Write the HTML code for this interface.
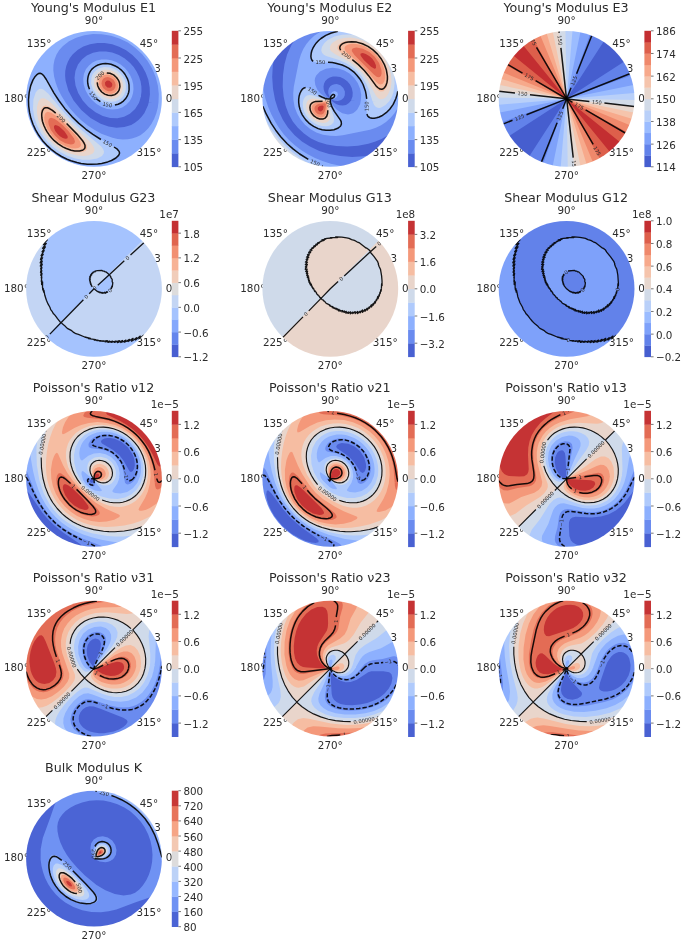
<!DOCTYPE html>
<html><head><meta charset="utf-8"><title>Elastic properties</title><style>html,body{margin:0;padding:0;background:#fff;}svg{display:block;}text{font-family:'DejaVu Sans', 'Liberation Sans', sans-serif;fill:#2b2b2b;}</style></head><body>
<svg width="686" height="945" viewBox="0 0 686 945">
<rect width="686" height="945" fill="#fff"/>
<text x="171.6" y="97.8" font-size="10.35" text-anchor="middle" dy="0.36em">0°</text>
<text x="148.9" y="42.9" font-size="10.35" text-anchor="middle" dy="0.36em">45°</text>
<text x="94" y="20.2" font-size="10.35" text-anchor="middle" dy="0.36em">90°</text>
<text x="39.1" y="42.9" font-size="10.35" text-anchor="middle" dy="0.36em">135°</text>
<text x="16.4" y="97.8" font-size="10.35" text-anchor="middle" dy="0.36em">180°</text>
<text x="39.1" y="152.7" font-size="10.35" text-anchor="middle" dy="0.36em">225°</text>
<text x="94" y="175.4" font-size="10.35" text-anchor="middle" dy="0.36em">270°</text>
<text x="148.9" y="152.7" font-size="10.35" text-anchor="middle" dy="0.36em">315°</text>
<text x="157.5" y="67.8" font-size="10.35" text-anchor="middle" dy="0.36em">3</text>
<mask id="c0"><circle cx="94" cy="98.8" r="67.9" fill="#fff"/></mask>
<g mask="url(#c0)">
<circle cx="94" cy="98.8" r="68.9" fill="#4961d2"/>
<path fill="#6a8bef" fill-rule="nonzero" d="M94 98.8l45.5 2.7l1.4-5l.6-4.9l-.1-5l-.8-5l-1.5-4.8l-2.4-5.1l-3-4.6l-3.6-4.2l-5.3-4.5l-5.9-3.4l-6.7-2.5l-6.2-1.1l-6.7 0l-6.3 1.3l-6.2 2.9l-4.7 3.6l-4.1 5.3l-2.6 6.4l-.9 6.9l1 7.8l2.7 7.4l4.5 7.4l5.6 6.3l7.2 5.5l7.3 3.7l7.4 2l7.2 .3l6.7-1.4l5.8-3l5.2-4.8l3.8-6.1l2.1-6.9l-47 2.8zM148.8 102.1l15.7 .9l-.2-11.3l-2.2-11.7l-3.9-10.6l-5.8-10.4l-4.7-6.1l-5.8-6l-6-4.9l-7-4.6l-7.5-3.7l-7.2-2.6l-7.6-1.8l-8.3-1l-7.1-.1l-7.1 .7l-6.4 1.2l-6.9 2l-6.1 2.4l-6.3 3.3l-5.5 3.6l-5.6 4.4l-5.1 5l-4.3 5l-3.7 5.4l-3.5 6.3l-2.6 6l-2.2 6.8l-1.6 6.9l-.8 7.1l-.1 7.2l.7 7.1l1.3 7l1.9 6.3l2.4 6.1l3.3 6.3l3.5 5.5l4.5 5.6l4.5 4.7l5.5 4.7l5.8 4l6.3 3.5l6 2.6l6.8 2.2l7 1.4l6.5 .8l7.8 0l7.7-.7l7.5-1.6l6.8-2.2l7.1-3.2l6.2-3.6l5.8-4.2l5.7-5.2l5.2-5.7l4.1-5.8l3.6-6.2l3.1-7.1l2.4-7.4l1.4-7l.8-7.7l-.1-7.1l-14.7 .8l-.6 5.1l-1.2 4.7l-3.7 8l-2.9 3.9l-2.9 2.9l-3.6 2.8l-3.7 2.1l-6.8 2.2l-7.9 .6l-8-1.2l-7.8-2.7l-10.2-5.8l-9.2-7.9l-7.7-9.6l-5.2-9.8l-2.8-10l-.5-5.2l.2-4.7l1-4.9l1.6-4.2l2-3.7l2.9-3.7l5.1-4.6l5.5-3.2l6.6-2.3l7.4-1.3l7.2 .1l7.6 1.3l6.9 2.4l7 3.6l6.3 4.7l5.2 5.2l4.7 6.3l3.5 6.4l2.5 6.9l1.4 7.6l.2 7.2l-1.1 7.5z"/>
<path fill="#8db0fe" fill-rule="nonzero" d="M94 98.8l35.8 2.1l2-3.7l1.2-4l.5-4.2l-.3-4.7l-1.1-4.5l-1.7-4.1l-2.5-4l-3-3.6l-4.3-3.6l-4.4-2.5l-4.8-1.8l-4.9-.8l-5 .1l-4.8 1.1l-4.1 2l-3.6 2.8l-3.1 3.9l-2 4.7l-.7 5.1l.5 5.5l1.7 5.5l2.8 5.1l3.8 4.8l4.5 3.9l5.2 3.1l5.4 1.9l5.5 .7l5-.5l4.6-1.5l4.1-2.8l3.3-3.6l2.4-4.7l-38 2.3zM158.5 102.7l6 .3l-.1-9.5l-1.2-8.8l-2.2-8.1l-3-7.7l-4-7.4l-5.2-7.2l-4.8-5.3l-5.3-4.8l-5.7-4.3l-6.7-3.9l-7.1-3.2l-6.8-2.2l-6.9-1.5l-7.2-.8l-7.1-.1l-7.1 .7l-6.4 1.2l-6.9 2l-6.1 2.4l-6.3 3.3l-5.5 3.6l-5.6 4.4l-5.1 5l-4.3 5l-3.7 5.4l-3.5 6.3l-2.6 6l-2.2 6.8l-1.6 6.9l-.8 7.1l-.1 7.2l.7 7.1l1.1 5.8l2.1 6.9l2.7 6.6l3.3 6.2l3.9 6l4.1 5l4.5 4.7l5.4 4.6l5.8 4.1l6.2 3.5l6.6 2.9l6.7 2.2l5.8 1.3l7.1 .9l7.8 0l7.7-.7l7.5-1.6l6.8-2.2l7.1-3.2l6.2-3.6l5.8-4.2l5.7-5.2l5.2-5.7l4.1-5.8l3.6-6.2l3.1-7.1l2.4-7.4l1.4-7l.8-7.7l-.1-7.1l-5.7 .3l-.2 6.6l-.8 5.9l-1.5 5.8l-2.1 5.5l-2.8 5.2l-3.1 4.3l-3.7 3.8l-4.2 3.2l-3.8 1.9l-4.6 1.5l-4.2 .7l-4.9 .2l-5.2-.5l-5.3-1.2l-11-4.1l-6.7-3.6l-7-4.7l-6.5-5.2l-5.4-5.1l-5.8-6.6l-4.6-6.2l-4-6.5l-3.2-6.4l-2.4-6.4l-1.7-6.5l-.8-6.2l.2-5.4l1-5.2l1.9-5l2.7-4.5l3.6-4l6.3-4.9l7.2-3.6l8.2-2.5l8.7-1.2l8.7 .2l9.3 1.5l8.3 2.8l8.5 4.1l7.2 5.1l6.9 6.4l5.6 6.9l4.5 7.5l3.5 8.2l2.2 8.5l1 8.7l-.3 8.8z"/>
<path fill="#afcafc" fill-rule="nonzero" d="M96.6 99l27.3 1.6l1.9-2.1l1.9-3.4l1.2-4l.3-4.3l-.6-4.2l-1.3-4.1l-2.1-3.8l-2.9-3.6l-3.3-2.9l-3.4-2.1l-4-1.6l-4.2-.8l-3.9 0l-3.8 .7l-3.4 1.4l-3 2l-2.6 2.9l-1.8 3.2l-.9 3.3l-.4 3.6l.5 4.1l1.1 3.7l2 4l2.4 3.3l3 3.1zM164.4 103l.2-7.1l-.8-7.7l-1.6-7.6l-2.4-7.4l-3.2-7l-3.9-6.7l-4.3-5.7l-5.2-5.7l-5.4-4.7l-6.3-4.5l-6.8-3.7l-7.1-3l-7.5-2.2l-7.6-1.3l-7.7-.5l-7.2 .3l7.8 0l7.6 .9l7.5 1.5l6.8 2.2l7 3l6.6 3.7l6.2 4.4l5.3 4.7l4.8 5.1l4.6 6.1l4 6.5l3.2 7l2.3 6.6l1.8 7.5l1 7.6l.3 7.7zM42.3 74.3l-2.2-1l-2.4 .7l-2.7 2.6l-2.4 4.2l-1.8 4.7l-1.5 5.9l-.7 6l-.1 6.1l1.3 10.5l3.3 10.6l5.1 9.9l6.8 8.9l7.8 7.2l8.3 5.6l9.6 4.4l9.7 2.7l10.5 1l10.4-.8l9.5-2.7l3.7-1.9l2.9-2.1l1.4-1.7l.7-1.9l-.5-1.9l-1.6-2l-3.8-2.6l-15.5-8.9l-9.1-6.2l-10.4-8.4l-9-9l-5.6-6.7l-5.7-7.6l-12.9-21.7l-3.1-3.9zM101 102.1l3.6 1.7l3.8 1l3.8 .4l3.6-.4l3.4-1.1l2.9-1.6l2.7-2.4l2-2.9l-30.5 1.9l4.7 3.4zM164.3 104.7l.2-10.1l-.5 0l.3 10.1z"/>
<path fill="#cfdaea" fill-rule="nonzero" d="M102.3 99.3l15.9 1l2.7-1.8l2-2.1l1.5-2.5l1.1-2.9l.5-3.7l-.3-3.6l-1-3.6l-1.9-3.6l-2.4-3.1l-3-2.7l-3.5-2l-3.4-1.3l-6.4-.5l-5.7 1.7l-4.3 3.6l-1.7 2.6l-.9 2.7l-.4 5.9l1.9 6.2l3.9 5.5l5.4 4.2zM43.3 89.5l-2.1-.7l-2 .3l-1.9 1.3l-1.6 2.2l-2.3 7l-.4 9.3l1.3 8.3l2.9 8.6l4.2 7.9l5.5 7.3l6.1 5.9l6.4 4.7l7.5 4l7.5 2.6l7.8 1.5l7.8 .1l7.2-1.4l4.8-2.5l1.7-2.3l.3-2l-.8-2.3l-2-2.7l-20.2-17.2l-8.3-7.7l-9.7-10.4l-14.6-17.5l-5.1-4.3zM107.3 101.3l4.5 .5l4.1-.6l3.5-1.6l2.9-2.5l-21.5 1.3l3.4 1.8l3.1 1.1z"/>
<path fill="#e9d5cb" fill-rule="nonzero" d="M110.1 99l3-.2l2.9-.8l2.3-1.3l2.2-2.2l1.5-2.4l.9-2.9l.3-3.2l-.4-3.1l-1.1-3l-1.7-3l-2.2-2.6l-2.5-1.9l-3.1-1.6l-3-.9l-3.2-.3l-2.9 .4l-4.3 1.9l-3.3 3.5l-1.5 4.3l.2 5.4l2.2 5.2l3.7 4.4l4.7 2.9l5.3 1.4zM44.7 98.6l-2-.3l-1.5 .3l-1.4 1l-1.3 1.8l-1.5 5.4l-.1 6.5l1.4 6.9l2.4 6.7l3.4 6.2l4.7 6.2l5 5l5.3 4l5.8 3.3l6.1 2.5l6.4 1.5l6.3 .4l5.3-.8l3.8-1.8l1.4-1.8l.3-2.5l-1.2-2.9l-2.6-3.6l-20.9-20.2l-18-18.8l-3.7-3.1l-3.4-1.9zM109.7 98.9l3.8-.2l3.7-1.3l-11.3 .7l3.8 .8z"/>
<path fill="#f6bda2" fill-rule="nonzero" d="M110.6 96.4l4.6-1l2.2-1.5l1.6-1.9l1.6-4.6l-.5-5.1l-2.5-4.7l-4.3-3.7l-5-1.7l-4.9 .4l-3.6 2l-2.4 3l-1 3.8l.6 4.5l2 4.1l3.3 3.5l4 2.2l4.3 .7zM45.8 105.5l-2.6 .7l-2 2.7l-.7 4l.3 4.8l1.2 5.2l2.2 5.5l3 5l3.6 4.7l4.2 4.2l4.3 3.3l4.6 2.7l5 2.2l5.1 1.4l4.8 .4l4.1-.4l2.9-1.5l1.4-2.2l-.2-2.5l-1.7-3.3l-3.5-4.4l-26.3-26.4l-5.7-4.5l-4-1.6z"/>
<path fill="#f4987a" fill-rule="nonzero" d="M111.4 93.9l3.6-1.5l2.3-2.6l1-3.9l-.9-4.2l-2.3-3.6l-3.6-2.6l-4-1l-4 .8l-2.7 2l-1.5 2.7l-.4 3.4l.8 3.3l2 3.2l2.8 2.4l3.2 1.3l3.7 .3zM47.7 111.8l-2 1l-1 1.7l-.5 3.1l.4 4.1l3 7.9l5.5 7.7l6.8 5.9l7.5 3.9l4.1 1.1l3.7 .4l3-.5l1.8-1l1-2.2l-.9-3.4l-2.7-4.1l-4.2-4.9l-9.5-9.7l-7.5-6.8l-4.9-3.3l-3.6-.9z"/>
<path fill="#e36c55" fill-rule="nonzero" d="M111 91.2l2.6-1.2l1.6-2.2l.5-2.7l-.7-2.8l-1.6-2.5l-2.6-1.9l-3-.8l-2.7 .5l-1.9 1.2l-1.3 2.1l-.4 2.5l.6 2.6l1.5 2.4l2.3 1.9l2.4 .9l2.7 0zM51.1 117.8l-1.4 .4l-1 1.3l-.4 1.9l.3 2.8l2.1 5.6l4.2 5.8l5 4.6l5.5 3l5.3 1.3l1.9-.2l1.6-.8l.8-1.8l-.9-3.2l-5.7-7.5l-5.6-5.7l-5.1-4.3l-3.4-2.3l-3.2-.9z"/>
<path fill="#c53334" fill-rule="nonzero" d="M110.1 87.8l1.3-.7l.7-1.1l.2-1.6l-.4-1.4l-2.4-2.2l-1.5-.3l-1.4 .3l-1.6 1.8l.2 2.7l2.2 2.2l2.7 .3zM55.3 125l-1.3 1l0 1.9l1.2 3l2.2 2.9l2.5 2.4l2.9 1.8l2.5 .8l2-.3l.5-1.4l-.4-1.4l-2.8-4.2l-5.3-4.9l-2.2-1.2l-1.8-.4z"/>
<path fill="none" stroke="#000" stroke-opacity="0.9" stroke-width="1.5" stroke-linejoin="round" d="M125.5 98.8l1.4-2.1l1-2.2l.8-2.3l.4-2.5l-.1-4.9l-.5-3l-1-2.9l-2.4-4.4l-1.5-2l-2.6-2.7l-3-2.3l-2.1-1.2l-4.9-2l-3-.5l-2.5-.2l-2.7 .1l-2.4 .5l-2.4 .8l-2.2 1.1l-2 1.4l-2.1 1.9l-1.6 2.2l-1.1 2.2l-.8 2.4l-.4 2.3l-.2 2.2l.2 2.8l.6 2.8l1.1 3M96.4 98.8l4 2.9M114.9 105l3.2-.8l3.1-1.5l2.2-1.6l2.1-2.3M100.9 139.5l-8-5.1l-7-5.1l-7.3-6.2l-6.7-6.5l-7.2-8.2l-5.9-7.9l-4.8-7.4l-7.7-13.6l-2.3-3.4l-1.5-1.6l-1.1-.8l-1.3-.4l-1.7 .3l-1.8 1.3l-1.4 1.5l-2.2 3.5l-2.3 5.7l-1.5 6.8l-.7 7.4l.2 6.2l.8 6.2l1.4 6.1l2.1 5.9l2.6 5.7l3.2 5.4l3.6 5.1l4.2 4.7l4.6 4.3l5 3.8l5.3 3.3l5.6 2.7l3.9 1.5l6 1.8l4.1 .9l6.2 .8l4.1 .1l6.2-.3l4.1-.6l6-1.5l3.8-1.4l4.4-2.5l2.7-2.6l.9-1.9l0-.8l-.4-1.3l-1.8-2.2l-3.3-2.2"/>
<path fill="none" stroke="#000" stroke-opacity="0.9" stroke-width="1.5" stroke-linejoin="round" d="M97.2 82.4l.5 3.3l1.6 3.4l2.4 2.9l3 2.1l3.3 1.2l3.5 .2l2-.4l1.3-.5l2.4-1.8l1.1-1.3l.9-1.7l.7-3.2l-.3-3.1l-.5-1.9l-.9-1.7l-1.7-2.4l-2.9-2.6l-3.6-1.6l-3.2-.4M55.7 113.1l-3.3-2.7l-2.6-1.6l-2.3-1l-2.1 0l-1.3 .5l-.5 .5l-1.1 1.7l-.7 2.7l-.1 1.8l.2 3l.6 3.5l1.4 4l1.5 3.3l1.7 3.1l2.1 3l2.3 2.8l2.5 2.7l4.2 3.5l4.6 2.9l3.5 1.7l4.8 1.7l3.7 .7l4.7 .1l2.8-.7l.9-.5l1.3-1.1l.5-1.3l0-2.1l-1-2.3l-1.6-2.6l-5.4-6.3l-10.4-10.6"/>
<text x="99.9" y="75.6" font-size="5.2" text-anchor="middle" dy="0.36em" transform="rotate(-44.7 99.9 75.6)">200</text>
<text x="93.4" y="95.7" font-size="5.2" text-anchor="middle" dy="0.36em" transform="rotate(-308.8 93.4 95.7)">150</text>
<text x="107.4" y="104.6" font-size="5.2" text-anchor="middle" dy="0.36em" transform="rotate(-347.1 107.4 104.6)">150</text>
<text x="61.2" y="118.2" font-size="5.2" text-anchor="middle" dy="0.36em" transform="rotate(-316.0 61.2 118.2)">200</text>
<text x="107.4" y="143.2" font-size="5.2" text-anchor="middle" dy="0.36em" transform="rotate(-330.8 107.4 143.2)">150</text>
</g>
<text x="93.5" y="12.2" font-size="12.7" text-anchor="middle">Young's Modulus E1</text>
<rect x="171.8" y="153.20" width="6.6" height="13.90" fill="#4961d2"/>
<rect x="171.8" y="139.60" width="6.6" height="13.90" fill="#6a8bef"/>
<rect x="171.8" y="126.00" width="6.6" height="13.90" fill="#8db0fe"/>
<rect x="171.8" y="112.40" width="6.6" height="13.90" fill="#afcafc"/>
<rect x="171.8" y="98.80" width="6.6" height="13.90" fill="#cfdaea"/>
<rect x="171.8" y="85.20" width="6.6" height="13.90" fill="#e9d5cb"/>
<rect x="171.8" y="71.60" width="6.6" height="13.90" fill="#f6bda2"/>
<rect x="171.8" y="58.00" width="6.6" height="13.90" fill="#f4987a"/>
<rect x="171.8" y="44.40" width="6.6" height="13.90" fill="#e36c55"/>
<rect x="171.8" y="30.80" width="6.6" height="13.90" fill="#c53334"/>
<line x1="178.4" x2="181" y1="166.80" y2="166.80" stroke="#555" stroke-width="0.8"/>
<text x="183.4" y="167.60" font-size="10.35" dy="0.36em">105</text>
<line x1="178.4" x2="181" y1="139.60" y2="139.60" stroke="#555" stroke-width="0.8"/>
<text x="183.4" y="140.40" font-size="10.35" dy="0.36em">135</text>
<line x1="178.4" x2="181" y1="112.40" y2="112.40" stroke="#555" stroke-width="0.8"/>
<text x="183.4" y="113.20" font-size="10.35" dy="0.36em">165</text>
<line x1="178.4" x2="181" y1="85.20" y2="85.20" stroke="#555" stroke-width="0.8"/>
<text x="183.4" y="86.00" font-size="10.35" dy="0.36em">195</text>
<line x1="178.4" x2="181" y1="58.00" y2="58.00" stroke="#555" stroke-width="0.8"/>
<text x="183.4" y="58.80" font-size="10.35" dy="0.36em">225</text>
<line x1="178.4" x2="181" y1="30.80" y2="30.80" stroke="#555" stroke-width="0.8"/>
<text x="183.4" y="31.60" font-size="10.35" dy="0.36em">255</text>
<text x="407.9" y="97.8" font-size="10.35" text-anchor="middle" dy="0.36em">0°</text>
<text x="385.2" y="42.9" font-size="10.35" text-anchor="middle" dy="0.36em">45°</text>
<text x="330.3" y="20.2" font-size="10.35" text-anchor="middle" dy="0.36em">90°</text>
<text x="275.4" y="42.9" font-size="10.35" text-anchor="middle" dy="0.36em">135°</text>
<text x="252.7" y="97.8" font-size="10.35" text-anchor="middle" dy="0.36em">180°</text>
<text x="275.4" y="152.7" font-size="10.35" text-anchor="middle" dy="0.36em">225°</text>
<text x="330.3" y="175.4" font-size="10.35" text-anchor="middle" dy="0.36em">270°</text>
<text x="385.2" y="152.7" font-size="10.35" text-anchor="middle" dy="0.36em">315°</text>
<text x="393.8" y="67.8" font-size="10.35" text-anchor="middle" dy="0.36em">3</text>
<mask id="c1"><circle cx="330.3" cy="98.8" r="67.9" fill="#fff"/></mask>
<g mask="url(#c1)">
<circle cx="330.3" cy="98.8" r="68.9" fill="#4961d2"/>
<path fill="#6a8bef" fill-rule="nonzero" d="M330.3 98.8l11.6 .7l1.8-1.8l1.1-2.5l.1-3.7l-1.6-3.5l-2.9-2.7l-3.6-1.2l-2.3 .1l-2.4 .8l-1.8 1.3l-1.3 2l-.7 2.3l-.1 2.5l1.8 5.4l-3-2.6l-2.2-3.4l-1-2.8l-.3-3.3l.6-2.9l1.2-2.4l2-2.1l2.5-1.5l3.2-1l3-.1l4.1 .7l3.7 1.6l3.5 2.6l2.7 3.3l1.8 3.7l.9 4.1l-.2 4l-1.3 3.7l49.6 2.9l.1-1.2l-.1-7.1l-.7-6.5l-1.4-7l-1.9-6.3l-2.8-6.6l-3.4-6.3l-3.7-5.4l-4.5-5.5l-4.7-4.6l-5.5-4.5l-5.4-3.7l-6.3-3.4l-6.6-2.7l-6.9-2l-6.4-1.3l-7.1-.6l-9.6 .2l-8.8 1.3l-9.1 2.7l-8.4 3.7l-6 8.6l-4.5 9.8l-2.6 9.7l-1.5 10.6l-.3 11.8l.9 9.9l2 9.2l3.1 8.2l4.1 7.5l5 6.3l6.2 5.8l7 4.8l7.5 3.5l8.4 2.6l9.5 1.5l10.8 .5l10.8-.8l10.4-1.9l7.1-2.2l6-2.6l6.5-3.7l4.9-3.8l3.2-7.1l2.4-7.4l1.6-7.6l.8-7.7l-.1-7.1l-48.5 2.9l-1.4 3.2l-2 2.4l-2.9 1.8l-3.3 .7l-3.3-.3l-3.3-1.2l-3.1-2.1l-2.4-2.8l4.1 1.5l3.2 .2l3.2-.9l2.3-2l-13.1 .8zM274.7 55.4l-3.5 4.8l-3.4 5.7l-2.8 5.9l-2.2 6.2l-2.6 12.2l-.5 6.5l.1 6.6l.7 6.5l1.4 6.4l4.1 11.8l3 5.8l3.5 5.5l8 9.6l9.6 8l5.6 3.5l5.9 2.9l6.1 2.4l6.3 1.8l12.3 1.8l12.5-.4l6.5-1.1l6.3-1.7l11.5-4.8l10.7-6.9l-10.2 1.9l-11.5 .6l-11.8-.8l-11.2-2.1l-9.8-3.1l-9.3-4.3l-8.1-5.2l-7.5-6.5l-6.5-7.4l-5.2-8.1l-4.5-9.6l-3.1-9.8l-2.1-11.2l-.8-11.8l.6-11.5l1.9-10.1z"/>
<path fill="#8db0fe" fill-rule="nonzero" d="M330.3 98.8l3.7-.1l2.8-1.4l1.2-2.5l-.7-2.6l-2.5-1.2l-2.7 1.1l-1.6 2.7l-.3 3.9l-4.8-1.5l-4.4-3.2l-3.6-4.2l-2.1-4.7l-.6-4.6l.4-2.5l1.1-2.4l3.8-4.1l5.8-2.7l6.7-1l6 .7l5.8 2l5.2 3.1l4.7 4.4l3.5 5l2.4 5.7l1.1 5.9l-.3 6l39.1 2.4l.9-2.8l0-1.9l-.4-7.2l-1.1-7l-1.7-6.4l-2.5-6.7l-2.8-5.9l-3.7-6.1l-4-5.2l-4.8-5.3l-4.9-4.3l-5.7-4.3l-5.6-3.3l-6.5-3.1l-6.2-2.2l-6.9-1.8l-7.1-1l-7.1-.3l-4.7 1.3l-6 2.9l-5 3.4l-4.2 3.9l-3.6 4.3l-3.1 5l-2.4 5.4l-1.9 6.3l-5.2 26.1l-.6 6.8l.2 6.3l1.2 7l2.5 6.6l3.5 6.1l4.4 5.1l5.2 4.3l6.1 3.4l6.7 2.3l7.1 1.1l6 .1l6.7-.7l27.2-5.5l5.9-2l5.2-2.5l4.9-3.1l4.4-4l3.9-4.5l3.5-5.7l2.8-6.8l.3-3l-.1-3.5l-39.5 2.3l-1.1 7l-2.9 5.6l-2 2.1l-2.3 1.6l-2.5 .9l-2.5 .3l-5.7-1.1l-5.5-3.6l-4.2-4.8l-2.2-5.4l.1-.6l4-.3l-4.2 .2zM261.8 82l-1.6 8.2l-.5 9.5l.7 8.9l1.9 9.3l3 8.4l4 8l4.9 7.5l6.3 7.1l6.8 5.9l7.4 5l7.9 4l9 3.1l8.8 1.8l8.9 .7l8.9-.4l9.2-1.7l-16.6-3.5l-8.3-2.8l-7.5-3.1l-7.2-3.7l-6.4-4l-6.3-4.7l-5.9-5.3l-5.3-5.8l-4.8-6.4l-4-6.4l-3.8-7.3l-3.1-7.3l-2.8-8.5l-3.6-16.5z"/>
<path fill="#afcafc" fill-rule="nonzero" d="M366.8 101l27.3 1.6l.3-.5l2.1-5.5l1.3-5.7l.5-6l-.2-5.9l-4.1-10.7l-6-10.2l-7.7-9.1l-8.6-7.4l-9.6-5.9l-11.1-4.4l-7.1-.5l-8.3 1l-7.3 2.3l-6.2 3.5l-5.7 5.3l-3.9 6.3l-1.6 6.4l.2 2.6l1 2.2l1.7 1.4l2.3 .6l13.1 0l8.1 1.1l7.4 2.6l6.5 3.8l6.4 6l4.9 7.5l3.1 8.5l1.2 9.1zM330.8 98.7l1.9-.5l1.3-1l.7-1.4l-.4-1.1l-1.3-.2l-1.4 .9l-1.1 2.2l-.1 1.1l.4 0zM309.3 88.8l-3.4-1.2l-1.8 .4l-1.2 .8l-2.5 3.5l-1.5 5.3l-.1 5.3l.9 5.6l2.1 5.3l3.2 5.1l3.5 3.7l3.9 3l4.6 2.5l4.6 1.5l5 .8l4.8-.2l4.4-1.1l3.5-1.9l1.9-2.5l0-3l-9-14.1l-1.6-4.5l-.4-4.2l-4.2-.4l-4.6-1.6l-4.4-2.6l-7.7-5.5zM259.9 98.5l0 6l1.1 7.6l1.7 7l2.3 6.7l2.8 5.9l3.7 6.2l4.2 5.7l4.8 5.3l4.9 4.4l5.7 4.3l6.2 3.6l6.4 3l6.8 2.4l6.9 1.6l7.1 1l6.6 .2l-13.5-5.3l-11.4-5.9l-10.6-7.3l-9.1-8l-8.1-9l-7.2-10.6l-6.1-11.5l-5.2-13.3zM368.1 116.5l2.8 1.5l4.3 .1l4.7-1.5l5.1-2.9l3.8-3.5l3.6-4.6l2.8-5.2l1.8-5.6l-30.5 1.8l.2 16l.4 2.1l1 1.8z"/>
<path fill="#cfdaea" fill-rule="nonzero" d="M372.5 101.3l15.9 1l3-4.6l2-5.2l1.3-9.1l-.9-9.9l-3.1-9.5l-5-8.7l-5.8-6.8l-6.4-5.3l-7.1-4.2l-8.3-3.1l-8.1-1.4l-8 .2l-7.5 1.7l-6.5 3.4l-3.6 3.1l-2.4 3.8l-.8 3.6l.9 2.8l1.8 1.7l2.2 1.2l12.9 4.1l6.8 2.9l5.9 3.5l5.2 4.4l5.2 5.9l4.1 6.7l3 7l3.3 10.8zM330.7 98.6l1.3-.9l.2-.8l-1.1 .5l-.6 .9l.2 .3zM313 95.6l-3.4-.6l-2.5 .4l-2.1 1.5l-1.5 2.7l-.7 3.5l.2 4.1l1.1 4l2 4l2.4 3.1l2.8 2.8l3.2 2.2l3.3 1.6l3.8 1.1l3.6 .3l3.3-.4l2.7-1.1l2.3-2.3l.6-3l-.5-2.9l-3.5-11.1l-.3-3.4l.3-3.1l-3.2 .3l-3.4-.4l-10.5-3.3zM260.9 111.5l2.7 10.4l4.2 9.8l5.7 9.1l7 8.1l8.2 7l9.1 5.6l9.9 4.2l10 2.6l-10.3-5.6l-7.9-5l-7.8-6l-7.3-6.6l-6.7-7.4l-6.1-7.9l-5.3-8.2l-5.4-10.1zM376.9 107.5l1.9 .4l2-.2l4.8-2.6l4-4.4l2.9-5.6l-21.5 1.3l2.7 7.9l1.4 2l1.8 1.2z"/>
<path fill="#e9d5cb" fill-rule="nonzero" d="M380.4 99.3l2.2-.2l1.9-.9l1.9-1.7l1.8-2.4l2.5-6l.8-6.7l-.6-7.3l-1.9-7.1l-3.2-6.7l-4.6-6.6l-4.8-4.9l-5.9-4.5l-6.6-3.5l-6.4-2.1l-6.7-1.1l-6.8 .3l-6 1.5l-4.9 2.8l-1.8 1.9l-1.3 2.4l-.1 2.5l.9 1.9l4 3.2l15.4 8.2l8.7 7l4.3 4.6l3.8 5.4l9.1 16.8l2.1 2.2l2.2 1zM315 98.7l-2.8-.1l-2.4 .6l-1.8 1.2l-1.1 1.7l-.7 2.4l-.1 2.7l.7 3l1.2 2.9l3.8 5l5 3.4l5.8 1.5l2.6-.2l2.1-.7l2.1-1.8l1-2.9l-1.3-13l.2-2.8l.7-2.5l-5.4 .9l-9.6-1.3zM264.4 124.1l2.9 6.6l3.9 6.7l4.5 6.2l4.8 5.3l5.8 5.1l5.8 4.2l6.2 3.6l6.7 2.9l-12.1-8.7l-10.3-9.1l-9.6-10.7l-8.6-12.1zM380 99.2l1.6 .1l1.9-.5l2-1.3l1.9-2.1l-11.3 .6l2.1 2.3l1.8 .9z"/>
<path fill="#f6bda2" fill-rule="nonzero" d="M380.5 91.6l3-.4l2.9-3.2l1.7-5.1l.4-5.7l-.9-5.8l-2-6.3l-2.9-5.3l-3.9-5.4l-4.4-4.3l-4.9-3.6l-5.3-2.9l-5.2-1.8l-5.9-1.1l-5.4 .1l-5.1 1.2l-3.2 1.9l-1.5 1.7l-.5 1.9l.2 1.5l1.4 2.1l3.4 2.9l11.5 7.9l6.4 5.5l6.8 7.7l9.5 13.5l1.8 1.9l2.1 1.1zM315.8 100.8l-3.8 1l-2.4 2.4l-.6 3.8l1.2 4.2l2.7 3.8l3.8 2.8l4.3 1.3l3.8-.6l1.9-1.5l1.3-2.8l.2-10.6l.6-4.2l-4.9 .5l-8.1-.1zM272.5 139.3l8 9.6l9.4 7.8l-9-8.2l-8.4-9.2z"/>
<path fill="#f4987a" fill-rule="nonzero" d="M380.3 84.5l2.2-.5l1.8-2.4l.9-3.6l-.1-4.9l-1-4.7l-1.7-4.4l-2.4-4.2l-3.3-4.3l-3.4-3.4l-3.8-2.9l-4.2-2.4l-4.4-1.7l-4.7-1.1l-4.2-.2l-3.8 .7l-2.4 1.3l-1 1.3l-.3 1.4l.5 1.7l1.3 1.9l16.4 14.4l13.5 15.6l2.1 1.7l2 .7zM316.7 102.6l-2.8 1.1l-1.7 2.1l-.5 2.8l.8 2.9l2 2.9l2.9 2.1l3.1 .9l2.8-.5l1.8-1.4l1.2-2.6l1-10.8l-1.2-.4l-9.4 .9z"/>
<path fill="#e36c55" fill-rule="nonzero" d="M378.3 77.3l1.6-.3l1.1-1.3l.6-2.2l-.2-3.5l-2.3-6.9l-4.4-6.3l-5.4-4.8l-6.4-3.3l-6.4-1.2l-2.5 .4l-1.6 .9l-.6 1.3l.1 1.1l2.7 4.1l19.2 19.2l2.8 2.2l1.7 .6zM318.4 104.1l-1.9 .9l-1.5 1.4l-.6 1.8l.3 2l1.1 2l1.9 1.7l2 .7l2.1-.1l1.7-1.1l1.3-2.1l.9-3.9l.1-3.4l-.6-.6l-1.3-.2l-5.5 .9z"/>
<path fill="#c53334" fill-rule="nonzero" d="M374.5 68.7l.8-.1l.7-.7l-.1-2.7l-1.5-3.5l-2.3-3.2l-2.9-2.6l-3.4-2l-3-.9l-2 .4l-.4 .9l.3 1.4l3.1 4.2l7.2 6.8l3.5 2zM319.7 105.9l-1.8 1.6l-.2 1.8l1.2 1.7l2.1 .4l2-1.6l.7-3.3l-1.3-1.1l-2.7 .5z"/>
<path fill="none" stroke="#000" stroke-opacity="0.9" stroke-width="1.5" stroke-linejoin="round" d="M395.8 98.8l1.3-4.2l.7-3.4M337.9 31.3l-6.6 1.7l-5.5 2.4l-4.8 3.1l-2.4 2l-2.3 2.4l-1.9 2.7l-1.5 2.6l-1.1 2.6l-.6 2.5l-.3 3.1l.3 2.1l.9 1.9l1 1M328 62.3l4.3 .3l3.4 .6l6.5 1.8l3.1 1.4l3.3 1.8l3.4 2.4l2.6 2.1l2.3 2.5l2.8 3.5l1.8 2.8l1.6 3l2.3 6.4l.7 3.4l.6 4.5M322.7 166.3l-.8-.4M308.3 159.4l-8.6-5.4l-6.7-5.1l-5.8-5.2l-6.5-7l-5-6.5l-4.5-6.8l-4.9-9.2l-3.5-7.8M366.9 113.9l.8 2.1l1 1l1.2 .7l2.1 .5l2.2 0l2.4-.4l2.6-.8l2.6-1.2l4.4-3.1l3.5-3.5l3.5-4.8l2.6-5.6M331 98.7l1.9-.7l1.3-1.1l.5-1.3l-.5-1l-.7-.2l-.7 .1l-1.3 1.1l-.7 1.1l-.4 1.4l0 .6l.6 0M305.6 87.6l-1.4 .3l-1.8 1.3l-1.2 1.6l-1.3 2.7l-.8 2.8l-.4 3l0 3l.5 4l.8 2.9l1 2.9l1.3 2.7l1.7 2.6l1.8 2.5l2.9 2.9l2.3 1.9l2.6 1.7l4.6 2.2l3.9 1.1l3.9 .6l4.1 0l3.9-.6l3.7-1.4l2.4-1.8l.7-.9l.6-1.7l-.2-2.2l-.9-1.8l-6-8.5l-2.4-4.5l-1.4-4.3l-.3-3.7l-2.7-.1l-2.7-.6l-3-1.2l-3.3-1.7"/>
<path fill="none" stroke="#000" stroke-opacity="0.9" stroke-width="1.5" stroke-linejoin="round" d="M352.3 59.7l6.1 4.9l5.9 5.9l4.5 5.4l6.9 9.5l2 2.1l2.4 1.6l1.5 .2l1.3-.3l1.2-.9l1.1-1.3l1-1.9l.8-2.7l.4-2.9l0-3.2l-1-6l-2.1-5.8l-3-5.3l-3.8-4.9l-4.5-4.2l-5-3.5l-5.6-2.6l-5.8-1.7l-4.9-.4l-3.5 .2l-2.8 .6l-2.2 .9l-1.6 1l-1.1 1.2l-.6 1.3l-.1 1.4l.8 1.9M322.6 101.3l-7.1 .2l-2 .6l-2 1.2l-1.1 1.6l-.5 2.4l.4 3l1.2 2.7l2.4 2.9l3 2.1l2.8 1l3.1 .1l2.4-1l1.5-1.8l.9-2.7l.2-3.3"/>
<text x="320.4" y="62.4" font-size="5.2" text-anchor="middle" dy="0.36em" transform="rotate(-360.0 320.4 62.4)">150</text>
<text x="346.2" y="55.3" font-size="5.2" text-anchor="middle" dy="0.36em" transform="rotate(-322.9 346.2 55.3)">200</text>
<text x="312.3" y="90.9" font-size="5.2" text-anchor="middle" dy="0.36em" transform="rotate(-325.5 312.3 90.9)">150</text>
<text x="328.1" y="102.7" font-size="5.2" text-anchor="middle" dy="0.36em" transform="rotate(-292.2 328.1 102.7)">200</text>
<text x="366.7" y="106.3" font-size="5.2" text-anchor="middle" dy="0.36em" transform="rotate(-88.9 366.7 106.3)">150</text>
<text x="315.0" y="162.9" font-size="5.2" text-anchor="middle" dy="0.36em" transform="rotate(-334.2 315.0 162.9)">150</text>
</g>
<text x="329.8" y="12.2" font-size="12.7" text-anchor="middle">Young's Modulus E2</text>
<rect x="408.1" y="153.20" width="6.6" height="13.90" fill="#4961d2"/>
<rect x="408.1" y="139.60" width="6.6" height="13.90" fill="#6a8bef"/>
<rect x="408.1" y="126.00" width="6.6" height="13.90" fill="#8db0fe"/>
<rect x="408.1" y="112.40" width="6.6" height="13.90" fill="#afcafc"/>
<rect x="408.1" y="98.80" width="6.6" height="13.90" fill="#cfdaea"/>
<rect x="408.1" y="85.20" width="6.6" height="13.90" fill="#e9d5cb"/>
<rect x="408.1" y="71.60" width="6.6" height="13.90" fill="#f6bda2"/>
<rect x="408.1" y="58.00" width="6.6" height="13.90" fill="#f4987a"/>
<rect x="408.1" y="44.40" width="6.6" height="13.90" fill="#e36c55"/>
<rect x="408.1" y="30.80" width="6.6" height="13.90" fill="#c53334"/>
<line x1="414.7" x2="417.3" y1="166.80" y2="166.80" stroke="#555" stroke-width="0.8"/>
<text x="419.7" y="167.60" font-size="10.35" dy="0.36em">105</text>
<line x1="414.7" x2="417.3" y1="139.60" y2="139.60" stroke="#555" stroke-width="0.8"/>
<text x="419.7" y="140.40" font-size="10.35" dy="0.36em">135</text>
<line x1="414.7" x2="417.3" y1="112.40" y2="112.40" stroke="#555" stroke-width="0.8"/>
<text x="419.7" y="113.20" font-size="10.35" dy="0.36em">165</text>
<line x1="414.7" x2="417.3" y1="85.20" y2="85.20" stroke="#555" stroke-width="0.8"/>
<text x="419.7" y="86.00" font-size="10.35" dy="0.36em">195</text>
<line x1="414.7" x2="417.3" y1="58.00" y2="58.00" stroke="#555" stroke-width="0.8"/>
<text x="419.7" y="58.80" font-size="10.35" dy="0.36em">225</text>
<line x1="414.7" x2="417.3" y1="30.80" y2="30.80" stroke="#555" stroke-width="0.8"/>
<text x="419.7" y="31.60" font-size="10.35" dy="0.36em">255</text>
<text x="644.2" y="97.8" font-size="10.35" text-anchor="middle" dy="0.36em">0°</text>
<text x="621.5" y="42.9" font-size="10.35" text-anchor="middle" dy="0.36em">45°</text>
<text x="566.6" y="20.2" font-size="10.35" text-anchor="middle" dy="0.36em">90°</text>
<text x="511.7" y="42.9" font-size="10.35" text-anchor="middle" dy="0.36em">135°</text>
<text x="489" y="97.8" font-size="10.35" text-anchor="middle" dy="0.36em">180°</text>
<text x="511.7" y="152.7" font-size="10.35" text-anchor="middle" dy="0.36em">225°</text>
<text x="566.6" y="175.4" font-size="10.35" text-anchor="middle" dy="0.36em">270°</text>
<text x="621.5" y="152.7" font-size="10.35" text-anchor="middle" dy="0.36em">315°</text>
<text x="630.1" y="67.8" font-size="10.35" text-anchor="middle" dy="0.36em">3</text>
<mask id="c2"><circle cx="566.6" cy="98.8" r="67.9" fill="#fff"/></mask>
<g mask="url(#c2)">
<circle cx="566.6" cy="98.8" r="68.9" fill="#465ecf"/>
<path fill="#6282ea" fill-rule="nonzero" d="M566.6 98.8l70.5 4.2l.1-5.9l-1-10.1l-2.2-9.3l-3.4-8.8l-4.7-8.5l-59 38.1l38.1-59l-9.3-5.1l-10.1-3.6l-9.9-2l-10.7-.6l-6.5 .5l-7.1 1.1l-6.9 1.9l-6.6 2.6l-6.4 3.2l-5.5 3.6l-5.2 4l-5.2 4.9l-4.3 4.9l-4.2 5.8l-3.5 6.2l-2.9 6.6l-2.2 6.8l-1.5 6.3l-.8 7.1l-.2 6.6l.9 10.1l2.2 9.2l3.4 8.9l4.8 8.7l59-38.1l-38.1 59l9.1 5l10.1 3.6l9.9 2.1l10.7 .6l7.1-.5l6.5-1.1l6.3-1.7l6.7-2.5l6.4-3.1l6.1-3.8l5.6-4.4l4.8-4.5l4.3-4.9l4.1-5.8l3.6-6.2l2.9-6.5l2.1-6.3l1.6-6.9l.9-7.1l.2-6.6l-.1-2.9l-70.5 4.2z"/>
<path fill="#7ea1fa" fill-rule="nonzero" d="M566.6 98.8l70.5 4.2l.1-5.9l-1.2-11.3l-3-11.1l-66.2 23.9l23.9-66.2l-6.2-1.9l-6.4-1.4l-6.6-.7l-6.5-.2l-6.5 .5l-7.1 1.1l-6.9 1.9l-6.6 2.6l-6.4 3.2l-5.5 3.6l-5.2 4l-5.2 4.9l-4.3 4.9l-4.2 5.8l-3.5 6.2l-2.9 6.6l-2.2 6.8l-1.5 6.3l-.8 7.1l-.2 6.6l1.1 11.2l3.1 11.4l66.2-23.9l-23.9 66.2l12.4 3.2l6.5 .8l6.6 .2l7.1-.5l6.5-1.1l6.3-1.7l6.7-2.5l6.4-3.1l6.1-3.8l5.6-4.4l4.8-4.5l4.3-4.9l4.1-5.8l3.6-6.2l2.9-6.5l2.1-6.3l1.6-6.9l.9-7.1l.2-6.6l-.1-2.9l-70.5 4.2z"/>
<path fill="#9bbcff" fill-rule="nonzero" d="M566.6 98.8l70.5 4.2l.1-5.9l-1.4-12.6l-69 14.1l14.1-69l-8.2-1.1l-7.7-.3l-6.5 .5l-7.1 1.1l-6.9 1.9l-6.6 2.6l-6.4 3.2l-5.5 3.6l-5.2 4l-5.2 4.9l-4.3 4.9l-4.2 5.8l-3.5 6.2l-2.9 6.6l-2.2 6.8l-1.5 6.3l-.8 7.1l-.2 6.6l1.4 12.8l69-14.1l-14.1 69l7.9 1.1l7.8 .3l7.1-.5l6.5-1.1l6.3-1.7l6.7-2.5l6.4-3.1l6.1-3.8l5.6-4.4l4.8-4.5l4.3-4.9l4.1-5.8l3.6-6.2l2.9-6.5l2.1-6.3l1.6-6.9l.9-7.1l.2-6.6l-.1-2.9l-70.5 4.2z"/>
<path fill="#b9d0f9" fill-rule="nonzero" d="M566.6 98.8l70.5 4.2l.1-5.9l-.2-4.4l-70.3 6l6-70.3l-7.7-.2l-6.5 .5l-7.1 1.1l-6.9 1.9l-6.6 2.6l-6.4 3.2l-5.5 3.6l-5.2 4l-5.2 4.9l-4.3 4.9l-4.2 5.8l-3.5 6.2l-2.9 6.6l-2.2 6.8l-1.5 6.3l-.8 7.1l-.2 6.6l.2 4.6l70.3-6l-6 70.3l7.5 .2l7.1-.5l6.5-1.1l6.3-1.7l6.7-2.5l6.4-3.1l6.1-3.8l5.6-4.4l4.8-4.5l4.3-4.9l4.1-5.8l3.6-6.2l2.9-6.5l2.1-6.3l1.6-6.9l.9-7.1l.2-6.6l-.1-2.9l-70.5 4.2z"/>
<path fill="#d2dbe8" fill-rule="nonzero" d="M566.7 98.8l70.4 4.2l.1-2.9l-70.5-1.3zM566.6 98.4l-1.2-70.2l-6.9 .5l-6.5 1l-6.9 1.8l-6.2 2.3l-5.9 2.9l-5.6 3.3l-5.2 3.9l-5.4 4.8l-4.8 5.3l-3.9 5.2l-3.4 5.6l-3.1 6.5l-2.5 6.7l-1.6 6.3l-1.1 6.5l-.4 6.8l70.1 1.2l.5-.4zM566.6 99.2l1.2 70.2l6.7-.4l6.5-1.1l6.3-1.6l6.7-2.4l6.5-3.1l5.6-3.4l5.7-4.3l4.8-4.5l4.4-4.8l4-5.2l3.7-6.1l2.8-5.9l2.5-6.7l1.7-6.4l1-6.4l.5-7.1l-70.1-1.2l-.5 0l0 .4z"/>
<path fill="#e7d7ce" fill-rule="nonzero" d="M566.5 98.3l-7.8-69.7l-11.3 2.3l-11.2 4.1l-10.2 6.1l-9.2 7.6l-7.7 9.1l-6 10.2l-4.3 11.1l-2.4 11.8l69.7 7.8l.4-.4zM566.7 99.3l7.8 69.7l11.7-2.4l11.1-4.2l10.2-6.1l9.1-7.7l7.7-9.1l6-10.2l4.2-11.2l2.3-11.4l-69.7-7.8l-.4 .4z"/>
<path fill="#f5c4ac" fill-rule="nonzero" d="M566.5 98.3l-14.2-68.7l-10 2.9l-9.3 4.2l-8.5 5.4l-7.7 6.6l-7 8.1l-5.4 8.5l-4.1 9.3l-2.9 9.9l68.7 14.2l.4-.4zM566.7 99.3l14.2 68.7l9.8-2.8l9.3-4.2l8.5-5.4l8.1-7l6.6-7.6l5.5-8.5l4.2-9.3l2.9-10.1l-68.7-14.2l-.4 .4z"/>
<path fill="#f7a98b" fill-rule="nonzero" d="M566.5 98.3l-20.5-67l-8.1 3l-7.4 3.8l-7.4 5.1l-6.3 5.5l-5.5 6.2l-5.1 7.3l-4.1 8l-3 8l67 20.5l.4-.4zM566.7 99.3l20.5 67l7.9-2.9l8-4.1l6.8-4.7l6.7-6l5.9-6.7l4.7-6.9l3.9-7.3l3-8.3l-67-20.5l-.4 .4z"/>
<path fill="#ef886b" fill-rule="nonzero" d="M566.4 98.3l-26.9-64.7l-5.9 2.8l-6.2 3.6l-5.2 3.9l-5.4 4.8l-4.8 5.3l-3.9 5.2l-3.7 6.1l-3 6.4l64.7 26.9l.3-.3zM566.8 99.2l26.9 64.8l6.3-3l6.1-3.6l5.7-4.3l4.8-4.5l4.4-4.8l4.3-5.7l3.7-6.2l2.8-6l-64.7-26.9l-.3 .2z"/>
<path fill="#dd5f4b" fill-rule="nonzero" d="M566.4 98.4l-34.1-61.4l-8.3 5.5l-7.2 6.2l-6.6 7.6l-5.3 8.2l61.5 33.9zM566.8 99.2l34.1 61.4l8.1-5.3l7.6-6.7l6.3-7.1l5.5-8.4l-61.6-33.9z"/>
<path fill="#c32e31" fill-rule="nonzero" d="M566.3 98.4l-44.2-54.4l-5.3 4.7l-4.8 5.3l-.2 .3l54.5 44.1zM566.9 99.2l44.2 54.4l5.5-5l4.8-5.3l-54.5-44.1z"/>
<path fill="none" stroke="#000" stroke-opacity="0.9" stroke-width="1.5" stroke-linejoin="round" d="M629.7 73.8l-62.5 24.7l-.3-.3l4.1-10.4M576.6 73.7l15.1-38M503.5 123.9l9-3.6M526.5 114.7l39.5-15.6l.3 .3l-3.6 9.3M557.1 122.8l-15.6 39.1"/>
<path fill="none" stroke="#000" stroke-opacity="0.9" stroke-width="1.5" stroke-linejoin="round" d="M499.1 91.2l15.9 1.8M530 94.7l36.5 4l-5.6-50.8M559.2 32.8l-.2-1.5M634.1 106.4l-29.7-3.3M589.4 101.4l-22.7-2.5l6.5 58.7"/>
<path fill="none" stroke="#000" stroke-opacity="0.9" stroke-width="1.5" stroke-linejoin="round" d="M508 64.6l14.5 8.5M535.6 80.7l30.4 17.8l.3-.3l-29.8-50.9M625.2 133l-39.6-23.1M572.5 102.3l-5.3-3.2l-.3 .3l26.3 45"/>
<text x="560.0" y="40.3" font-size="5.2" text-anchor="middle" dy="0.36em" transform="rotate(-276.4 560.0 40.3)">150</text>
<text x="532.7" y="40.8" font-size="5.2" text-anchor="middle" dy="0.36em" transform="rotate(-300.3 532.7 40.8)">175</text>
<text x="529.1" y="76.9" font-size="5.2" text-anchor="middle" dy="0.36em" transform="rotate(-329.7 529.1 76.9)">175</text>
<text x="573.8" y="80.7" font-size="5.2" text-anchor="middle" dy="0.36em" transform="rotate(-68.3 573.8 80.7)">125</text>
<text x="522.5" y="93.8" font-size="5.2" text-anchor="middle" dy="0.36em" transform="rotate(-353.6 522.5 93.8)">150</text>
<text x="519.5" y="117.5" font-size="5.2" text-anchor="middle" dy="0.36em" transform="rotate(-21.7 519.5 117.5)">125</text>
<text x="559.9" y="115.8" font-size="5.2" text-anchor="middle" dy="0.36em" transform="rotate(-68.3 559.9 115.8)">125</text>
<text x="596.9" y="102.2" font-size="5.2" text-anchor="middle" dy="0.36em" transform="rotate(-353.6 596.9 102.2)">150</text>
<text x="579.1" y="106.1" font-size="5.2" text-anchor="middle" dy="0.36em" transform="rotate(-329.7 579.1 106.1)">175</text>
<text x="597.0" y="151.0" font-size="5.2" text-anchor="middle" dy="0.36em" transform="rotate(-300.3 597.0 151.0)">175</text>
<text x="574.1" y="165.1" font-size="5.2" text-anchor="middle" dy="0.36em" transform="rotate(-276.4 574.1 165.1)">150</text>
</g>
<text x="566.1" y="12.2" font-size="12.7" text-anchor="middle">Young's Modulus E3</text>
<rect x="644.4" y="155.47" width="6.6" height="11.63" fill="#465ecf"/>
<rect x="644.4" y="144.13" width="6.6" height="11.63" fill="#6282ea"/>
<rect x="644.4" y="132.80" width="6.6" height="11.63" fill="#7ea1fa"/>
<rect x="644.4" y="121.47" width="6.6" height="11.63" fill="#9bbcff"/>
<rect x="644.4" y="110.13" width="6.6" height="11.63" fill="#b9d0f9"/>
<rect x="644.4" y="98.80" width="6.6" height="11.63" fill="#d2dbe8"/>
<rect x="644.4" y="87.47" width="6.6" height="11.63" fill="#e7d7ce"/>
<rect x="644.4" y="76.13" width="6.6" height="11.63" fill="#f5c4ac"/>
<rect x="644.4" y="64.80" width="6.6" height="11.63" fill="#f7a98b"/>
<rect x="644.4" y="53.47" width="6.6" height="11.63" fill="#ef886b"/>
<rect x="644.4" y="42.13" width="6.6" height="11.63" fill="#dd5f4b"/>
<rect x="644.4" y="30.80" width="6.6" height="11.63" fill="#c32e31"/>
<line x1="651" x2="653.6" y1="166.80" y2="166.80" stroke="#555" stroke-width="0.8"/>
<text x="656" y="167.60" font-size="10.35" dy="0.36em">114</text>
<line x1="651" x2="653.6" y1="144.13" y2="144.13" stroke="#555" stroke-width="0.8"/>
<text x="656" y="144.93" font-size="10.35" dy="0.36em">126</text>
<line x1="651" x2="653.6" y1="121.47" y2="121.47" stroke="#555" stroke-width="0.8"/>
<text x="656" y="122.27" font-size="10.35" dy="0.36em">138</text>
<line x1="651" x2="653.6" y1="98.80" y2="98.80" stroke="#555" stroke-width="0.8"/>
<text x="656" y="99.60" font-size="10.35" dy="0.36em">150</text>
<line x1="651" x2="653.6" y1="76.13" y2="76.13" stroke="#555" stroke-width="0.8"/>
<text x="656" y="76.93" font-size="10.35" dy="0.36em">162</text>
<line x1="651" x2="653.6" y1="53.47" y2="53.47" stroke="#555" stroke-width="0.8"/>
<text x="656" y="54.27" font-size="10.35" dy="0.36em">174</text>
<line x1="651" x2="653.6" y1="30.80" y2="30.80" stroke="#555" stroke-width="0.8"/>
<text x="656" y="31.60" font-size="10.35" dy="0.36em">186</text>
<text x="171.6" y="287.8" font-size="10.35" text-anchor="middle" dy="0.36em">0°</text>
<text x="148.9" y="232.9" font-size="10.35" text-anchor="middle" dy="0.36em">45°</text>
<text x="94" y="210.2" font-size="10.35" text-anchor="middle" dy="0.36em">90°</text>
<text x="39.1" y="232.9" font-size="10.35" text-anchor="middle" dy="0.36em">135°</text>
<text x="16.4" y="287.8" font-size="10.35" text-anchor="middle" dy="0.36em">180°</text>
<text x="39.1" y="342.7" font-size="10.35" text-anchor="middle" dy="0.36em">225°</text>
<text x="94" y="365.4" font-size="10.35" text-anchor="middle" dy="0.36em">270°</text>
<text x="148.9" y="342.7" font-size="10.35" text-anchor="middle" dy="0.36em">315°</text>
<text x="157.5" y="257.8" font-size="10.35" text-anchor="middle" dy="0.36em">3</text>
<mask id="c3"><circle cx="94" cy="288.8" r="67.9" fill="#fff"/></mask>
<g mask="url(#c3)">
<circle cx="94" cy="288.8" r="68.9" fill="#485fd1"/>
<path fill="#6485ec" fill-rule="nonzero" d="M94 288.8l70.5 4.2l0-.6l.1-6.5l-.7-7.1l-1.2-6.5l-2-6.8l-2.7-6.6l-3.4-6.3l-4-6l-4.1-5.1l-4.6-4.6l-5.5-4.6l-5.9-4l-6.3-3.4l-6.6-2.7l-6.3-1.9l-6.4-1.3l-7.1-.7l-6.6-.1l-7.1 .7l-7 1.3l-6.3 1.9l-6.6 2.7l-6.3 3.3l-6 4l-5.1 4.1l-4.6 4.6l-4.6 5.5l-4 5.9l-3.1 5.8l-2.8 6.6l-2.1 6.8l-1.4 6.4l-.7 7.1l0 7.2l.6 6.5l1.3 7l1.9 6.3l2.6 6.6l3.4 6.3l3.6 5.5l4.5 5.6l5 5.1l5 4.1l5.9 4.1l6.3 3.4l6.1 2.5l6.8 2.1l7 1.4l6.5 .7l7.2 0l6.5-.6l7-1.3l6.3-1.8l6.6-2.7l6.3-3.3l6-4l5.1-4.1l4.7-4.6l4.6-5.4l3.7-5.4l3.4-6.3l2.9-6.6l2.1-6.8l1.4-7l.7-6.5l0-8.3l-70.5 4.2z"/>
<path fill="#85a8fc" fill-rule="nonzero" d="M94 288.8l70.5 4.2l0-.6l.1-6.5l-.7-7.1l-1.2-6.5l-2-6.8l-2.7-6.6l-3.4-6.3l-4-6l-4.1-5.1l-4.6-4.6l-5.5-4.6l-5.9-4l-6.3-3.4l-6.6-2.7l-6.3-1.9l-6.4-1.3l-7.1-.7l-6.6-.1l-7.1 .7l-7 1.3l-6.3 1.9l-6.6 2.7l-6.3 3.3l-6 4l-5.1 4.1l-4.6 4.6l-4.6 5.5l-4 5.9l-3.1 5.8l-2.8 6.6l-2.1 6.8l-1.4 6.4l-.7 7.1l0 7.2l.6 6.5l1.3 7l1.9 6.3l2.6 6.6l3.4 6.3l3.6 5.5l4.5 5.6l5 5.1l5 4.1l5.9 4.1l6.3 3.4l6.1 2.5l6.8 2.1l7 1.4l6.5 .7l7.2 0l6.5-.6l7-1.3l6.3-1.8l6.6-2.7l6.3-3.3l6-4l5.1-4.1l4.7-4.6l4.6-5.4l3.7-5.4l3.4-6.3l2.9-6.6l2.1-6.8l1.4-7l.7-6.5l0-8.3l-70.5 4.2z"/>
<path fill="#a5c3fe" fill-rule="nonzero" d="M94 288.8l70.5 4.2l0-.6l.1-6.5l-.7-7.1l-1.2-6.5l-2-6.8l-2.7-6.6l-3.4-6.3l-4-6l-4.1-5.1l-4.6-4.6l-5.5-4.6l-5.9-4l-6.3-3.4l-6.6-2.7l-6.3-1.9l-6.4-1.3l-7.1-.7l-6.6-.1l-7.1 .7l-7 1.3l-6.3 1.9l-6.6 2.7l-6.3 3.3l-6 4l-5.1 4.1l-4.6 4.6l-4.6 5.5l-4 5.9l-3.1 5.8l-2.8 6.6l-2.1 6.8l-1.4 6.4l-.7 7.1l0 7.2l.6 6.5l1.3 7l1.9 6.3l2.6 6.6l3.4 6.3l3.6 5.5l4.5 5.6l5 5.1l5 4.1l5.9 4.1l6.3 3.4l6.1 2.5l6.8 2.1l7 1.4l6.5 .7l7.2 0l6.5-.6l7-1.3l6.3-1.8l6.6-2.7l6.3-3.3l6-4l5.1-4.1l4.7-4.6l4.6-5.4l3.7-5.4l3.4-6.3l2.9-6.6l2.1-6.8l1.4-7l.7-6.5l0-8.3l-70.5 4.2z"/>
<path fill="#c3d5f4" fill-rule="nonzero" d="M110.3 289.8l54.2 3.2l.1-7.1l-.8-7.7l-1.4-7l-2.4-7.4l-3.1-7.1l-3.6-6.2l-4.5-6.2l-4.9-5.4l-35.3 35.3l2.6 3.7l1.3 4.3l-.4 4.2l-1.8 3.4zM94.3 288.5l14.2-14.4l-3.8-2.7l-4.5-1.1l-4.3 .6l-3.5 2.2l-2.1 3.5l-.3 4.2l1.6 4.9l2.1 2.7l.6 .1zM48.7 234.7l-5.3 4.8l-4.7 5.4l-4.2 5.8l-3.8 6.8l-3 7.1l-2.1 6.8l-1.4 7l-.7 7.1l0 7.8l.8 7.1l1.6 6.9l2.2 6.8l2.9 6.6l3.9 6.7l4.2 5.8l5 5.5l16.4-16.4l-7.2-8.9l-5.2-9.2l-3.8-10.6l-2.3-11.2l-.9-12.9l.9-12.8l2.5-11.4l4.2-10.6zM93.7 289.1l-33 33.2l5.5 4.9l6.2 4.2l6.5 3.4l7.3 2.9l7.9 2.1l8 1.2l8.6 .6l8.7-.1l9-1.1l8.5-1.9l8.7-3.2l2.6-1.2l1-1.2l6.9-10.4l2.8-5.9l2.3-6.2l1.7-6.3l1.2-6.5l.5-6.5l-.1-6.5l-52.9 3.1l-1.3 2l-1.8 1.7l-2.2 1l-2.4 .5l-4.6-.7l-4.9-3.1l-.7 0z"/>
<path fill="none" stroke="#000" stroke-opacity="0.9" stroke-width="1.3" stroke-linejoin="round" d="M143.9 242.7l-13.4 12.4M124.3 260.8l-15 13.9l0 .2l1.4 1.6l.2 1.2l1.3 1.7l0 2.4l.6 .8l-.5 4.2l-.4-.7l-.5 2.5l-.4-.6l-.2 .8M49.9 334.1l11-11.3l-3.4-4.1l-2.2-3l-1.5-1.8l-.3 0l-1.2-2.2l-1.6-2.1l-.8-2.4l-1.9-3.3l-1.6-3.6l-1.6-5l-.9-5.1l-.3 1.8l-.4-3.7l-.4 1.7l-.3-2.6l.1-5.4l-1 2.6l0-2.8l.2-1.5l-.5 1.1l.5-4.4l-.6 1l.8-4.5l-1.3 1.8l1.1-4.7l-1.3 1.7l1.4-4.8l-1.3 1.4l1.7-4.8l-2 1.9l2-4.9l-2.1 1.7l1.2-2.9l1.2-2.1l-2.1 1.5l1.3-2.8l1.4-2.2l-2.1 1.3l3-5l-2.1 1.2l3.4-4.9l-2.9 1.4l3.8-4.9l-3 1.3l2-2.7l2.1-2.1l-.8 .3M107.8 291.8l-.3 .5l-.5-.7l-.6 1l-.3-.3l-.6 .9l-.8-.9l-.7 .8l-.5-.5l-.7 .7l-.7-.8l-.7 .5l-.7-.8l-.7 .5l-.7-.8l-.6 .3l-.7-.7l-.6 .1l-3.4-2.8l-4.8 4.9M83.4 299.7l-22.2 22.8l1.4 1.6l3 2.3l.2 .5l1.5 1.5l4.4 2.3l2 1.7l2.2 1.3l2.5 .7l6.3 2.6l5.8 1.5l-1.9 .2l7.2 .9l-1.6 .4l3.9 .2l-1.4 .4l4.2 0l-1.3 .4l4.3-.2l-1.1 .5l4.4-.6l-2 1.2l4.6-.8l-1.8 1.2l4.7-1.1l-1.6 1.2l4.9-1.4l-1.5 1.3l4.9-1.7l-1.9 2l5-2.1l-1.7 2l2.9-1.2l2.2-1.2l-1.5 2.1l2.8-1.4l2.2-1.4l-1.3 2.1l5-3.1l-1.6 2.8l2.9-1.7l2.1-1.8l-1 2.3l4.8-3.9l-1.2 3l4.8-4.2M97.8 285.3l11.2-10.4l-.5-.8l-2.4-2.2l-1.2-.1l-.9-.7l-1.2 0l-.8-.7l-4.6 .3l-2.4 .4l.6 .4l-2.5 .6l.4 .3l-1.2 .5l.5 .3l-1.2 .4l.4 .3l-1.2 .6l.8 .5l-1.1 .6l.3 .3l-1 .6l.7 .5l-.9 .7l.6 .5l-.8 .7l.8 .7l-.6 .7l.8 .8l-.5 .6l.7 .8l-.4 .6l.8 .7l-.3 .6l.8 .7l-.1 .6l1 1"/>
<text x="127.4" y="258.0" font-size="5.2" text-anchor="middle" dy="0.36em" transform="rotate(-42.7 127.4 258.0)">0</text>
<text x="94.8" y="288.1" font-size="5.2" text-anchor="middle" dy="0.36em" transform="rotate(-37.4 94.8 288.1)">0</text>
<text x="109.9" y="290.6" font-size="5.2" text-anchor="middle" dy="0.36em" transform="rotate(-48.8 109.9 290.6)">0</text>
<text x="86.3" y="296.7" font-size="5.2" text-anchor="middle" dy="0.36em" transform="rotate(-45.8 86.3 296.7)">0</text>
<text x="46.9" y="337.1" font-size="5.2" text-anchor="middle" dy="0.36em" transform="rotate(-45.8 46.9 337.1)">0</text>
</g>
<text x="93.5" y="202.2" font-size="12.7" text-anchor="middle">Shear Modulus G23</text>
<rect x="171.8" y="344.44" width="6.6" height="12.66" fill="#485fd1"/>
<rect x="171.8" y="332.07" width="6.6" height="12.66" fill="#6485ec"/>
<rect x="171.8" y="319.71" width="6.6" height="12.66" fill="#85a8fc"/>
<rect x="171.8" y="307.35" width="6.6" height="12.66" fill="#a5c3fe"/>
<rect x="171.8" y="294.98" width="6.6" height="12.66" fill="#c3d5f4"/>
<rect x="171.8" y="282.62" width="6.6" height="12.66" fill="#dddcdc"/>
<rect x="171.8" y="270.25" width="6.6" height="12.66" fill="#f1cdba"/>
<rect x="171.8" y="257.89" width="6.6" height="12.66" fill="#f7b396"/>
<rect x="171.8" y="245.53" width="6.6" height="12.66" fill="#f29072"/>
<rect x="171.8" y="233.16" width="6.6" height="12.66" fill="#e0654f"/>
<rect x="171.8" y="220.80" width="6.6" height="12.66" fill="#c43032"/>
<line x1="178.4" x2="181" y1="356.80" y2="356.80" stroke="#555" stroke-width="0.8"/>
<text x="183.4" y="357.60" font-size="10.35" dy="0.36em">−1.2</text>
<line x1="178.4" x2="181" y1="332.07" y2="332.07" stroke="#555" stroke-width="0.8"/>
<text x="183.4" y="332.87" font-size="10.35" dy="0.36em">−0.6</text>
<line x1="178.4" x2="181" y1="307.35" y2="307.35" stroke="#555" stroke-width="0.8"/>
<text x="183.4" y="308.15" font-size="10.35" dy="0.36em">0.0</text>
<line x1="178.4" x2="181" y1="282.62" y2="282.62" stroke="#555" stroke-width="0.8"/>
<text x="183.4" y="283.42" font-size="10.35" dy="0.36em">0.6</text>
<line x1="178.4" x2="181" y1="257.89" y2="257.89" stroke="#555" stroke-width="0.8"/>
<text x="183.4" y="258.69" font-size="10.35" dy="0.36em">1.2</text>
<line x1="178.4" x2="181" y1="233.16" y2="233.16" stroke="#555" stroke-width="0.8"/>
<text x="183.4" y="233.96" font-size="10.35" dy="0.36em">1.8</text>
<text x="178.9" y="218.3" font-size="10.35" text-anchor="end">1e7</text>
<text x="407.9" y="287.8" font-size="10.35" text-anchor="middle" dy="0.36em">0°</text>
<text x="385.2" y="232.9" font-size="10.35" text-anchor="middle" dy="0.36em">45°</text>
<text x="330.3" y="210.2" font-size="10.35" text-anchor="middle" dy="0.36em">90°</text>
<text x="275.4" y="232.9" font-size="10.35" text-anchor="middle" dy="0.36em">135°</text>
<text x="252.7" y="287.8" font-size="10.35" text-anchor="middle" dy="0.36em">180°</text>
<text x="275.4" y="342.7" font-size="10.35" text-anchor="middle" dy="0.36em">225°</text>
<text x="330.3" y="365.4" font-size="10.35" text-anchor="middle" dy="0.36em">270°</text>
<text x="385.2" y="342.7" font-size="10.35" text-anchor="middle" dy="0.36em">315°</text>
<text x="393.8" y="257.8" font-size="10.35" text-anchor="middle" dy="0.36em">3</text>
<mask id="c4"><circle cx="330.3" cy="288.8" r="67.9" fill="#fff"/></mask>
<g mask="url(#c4)">
<circle cx="330.3" cy="288.8" r="68.9" fill="#4961d2"/>
<path fill="#6a8bef" fill-rule="nonzero" d="M330.3 288.8l70.5 4.2l-.2-11.3l-1.9-10.5l-1.9-6.3l-2.8-6.6l-3.4-6.3l-3.7-5.4l-4.1-5.1l-5.1-5l-5.5-4.5l-6-4l-5.7-3.1l-6.6-2.7l-6.9-2l-7-1.3l-7.1-.7l-6.6 .1l-6.5 .7l-7 1.4l-6.8 2.1l-6.1 2.5l-5.7 3.1l-6 4l-5.5 4.5l-5 5.1l-4.5 5.6l-3.6 5.5l-3.4 6.3l-2.4 6l-2.1 6.9l-1.2 6.4l-.7 7.1l0 6.6l.7 7.1l1.4 7l2.1 6.8l2.5 6.1l3.1 5.7l3.9 6l4.2 5.1l5 5.1l5.5 4.5l6 4l5.7 3.1l6.6 2.7l6.3 1.9l7 1.4l6.5 .7l7.2 0l7.1-.6l7-1.4l11.2-3.9l11-6l9.2-7.5l8.3-9.4l6.4-10.7l4.3-11.1l2.4-11.6l.4-12.5l-70.5 4.2z"/>
<path fill="#8db0fe" fill-rule="nonzero" d="M330.3 288.8l70.5 4.2l-.2-11.3l-1.9-10.5l-1.9-6.3l-2.8-6.6l-3.4-6.3l-3.7-5.4l-4.1-5.1l-5.1-5l-5.5-4.5l-6-4l-5.7-3.1l-6.6-2.7l-6.9-2l-7-1.3l-7.1-.7l-6.6 .1l-6.5 .7l-7 1.4l-6.8 2.1l-6.1 2.5l-5.7 3.1l-6 4l-5.5 4.5l-5 5.1l-4.5 5.6l-3.6 5.5l-3.4 6.3l-2.4 6l-2.1 6.9l-1.2 6.4l-.7 7.1l0 6.6l.7 7.1l1.4 7l2.1 6.8l2.5 6.1l3.1 5.7l3.9 6l4.2 5.1l5 5.1l5.5 4.5l6 4l5.7 3.1l6.6 2.7l6.3 1.9l7 1.4l6.5 .7l7.2 0l7.1-.6l7-1.4l11.2-3.9l11-6l9.2-7.5l8.3-9.4l6.4-10.7l4.3-11.1l2.4-11.6l.4-12.5l-70.5 4.2z"/>
<path fill="#afcafc" fill-rule="nonzero" d="M330.3 288.8l70.5 4.2l-.2-11.3l-1.9-10.5l-1.9-6.3l-2.8-6.6l-3.4-6.3l-3.7-5.4l-4.1-5.1l-5.1-5l-5.5-4.5l-6-4l-5.7-3.1l-6.6-2.7l-6.9-2l-7-1.3l-7.1-.7l-6.6 .1l-6.5 .7l-7 1.4l-6.8 2.1l-6.1 2.5l-5.7 3.1l-6 4l-5.5 4.5l-5 5.1l-4.5 5.6l-3.6 5.5l-3.4 6.3l-2.4 6l-2.1 6.9l-1.2 6.4l-.7 7.1l0 6.6l.7 7.1l1.4 7l2.1 6.8l2.5 6.1l3.1 5.7l3.9 6l4.2 5.1l5 5.1l5.5 4.5l6 4l5.7 3.1l6.6 2.7l6.3 1.9l7 1.4l6.5 .7l7.2 0l7.1-.6l7-1.4l11.2-3.9l11-6l9.2-7.5l8.3-9.4l6.4-10.7l4.3-11.1l2.4-11.6l.4-12.5l-70.5 4.2z"/>
<path fill="#cfdaea" fill-rule="nonzero" d="M330.3 288.8l70.5 4.2l-.2-11.3l-1.9-10.5l-1.9-6.3l-2.8-6.6l-3.4-6.3l-3.7-5.4l-4.1-5.1l-5.1-5l-5.5-4.5l-6-4l-5.7-3.1l-6.6-2.7l-6.9-2l-7-1.3l-7.1-.7l-6.6 .1l-6.5 .7l-7 1.4l-6.8 2.1l-6.1 2.5l-5.7 3.1l-6 4l-5.5 4.5l-5 5.1l-4.5 5.6l-3.6 5.5l-3.4 6.3l-2.4 6l-2.1 6.9l-1.2 6.4l-.7 7.1l0 6.6l.7 7.1l1.4 7l2.1 6.8l2.5 6.1l3.1 5.7l3.9 6l4.2 5.1l5 5.1l5.5 4.5l6 4l5.7 3.1l6.6 2.7l6.3 1.9l7 1.4l6.5 .7l7.2 0l7.1-.6l7-1.4l11.2-3.9l11-6l9.2-7.5l8.3-9.4l6.4-10.7l4.3-11.1l2.4-11.6l.4-12.5l-70.5 4.2z"/>
<path fill="#e9d5cb" fill-rule="nonzero" d="M380.4 291.8l20.4 1.2l.1-4.7l-.3-6.6l-1.1-7l-1.8-7l-2.2-6.1l-2.8-5.9l-3.7-6.2l-4.3-5.7l-4.5-4.9l-11.2 11.2l-8.7-6.7l-4.8-2.5l-4.7-1.8l-5.3-1.3l-4.9-.7l-4.9 0l-4.8 .7l-6.7 2l-5.7 3l-4.9 4.3l-3.8 5.2l-2.2 5.3l-1.2 5.4l-.1 5.8l1 6.1l1.9 6l3.1 6.2l3.9 5.8l4.6 5.3l48.2-47.9l3.9 4.5l3.1 4.5l2.7 5.4l1.8 5.1l1.2 5.8l.3 5.3l-.4 5.8l-1.2 5.1zM320.9 298.2l-40.5 40.5l6.4 5.7l6.8 4.8l7.4 3.9l7.8 3l8.6 2.1l8.3 1.1l8.4 0l8.2-.9l12.1-3.2l6.1-2.5l5.7-3.1l5.5-3.6l5.1-4.1l4.8-4.5l4.2-5l6.9-10.5l2.8-5.9l2.2-6.1l1.7-6.4l1-6.4l.4-12.5l-19.1 1.1l-1 5.2l-1.6 4.5l-2.4 4.5l-2.8 3.7l-3.4 3.2l-3.8 2.5l-4.1 1.9l-4.7 1.2l-4.3 .4l-4.8-.2l-4.9-.9l-4.8-1.5l-9.5-4.8l-8.7-7.2z"/>
<path fill="none" stroke="#000" stroke-opacity="0.9" stroke-width="1.3" stroke-linejoin="round" d="M376.2 246.4l-5.5 5.1l-1.8-1.8l-2.3-1.7l-.3 .2l-6.7-5.3l-2.7-1.1l-2.5-1.4l-2.8-.8l-2.5-1.3l-2.4-.5l-4.9-.6l-5.1-.3l-1.1 0l2 .6l-7.2 .1l1.6 .4l-5 .4l-2.6 .6l1.3 .2l-3.8 .8l2.4 .4l-4 1l1.1 .1l-3.8 1.3l1.9 .2l-3.8 1.4l1.8 .2l-3.8 1.6l1.7 .1l-3.6 1.8l1.5 .1l-1.6 .7l-1.8 1.3l2.1 .1l-3.3 2.1l1.9 .1l-3.1 2.3l1.9 0l-2.9 2.4l2.3 0l-2.6 2.4l1.6 0l-2.4 2.5l2.1 0l-2.2 2.5l2.1-.1l-2 2.5l1.5-.2l-.9 1l-.8 1.5l2-.2l-1.5 2.4l1.9-.3l-1.2 2.4l1.4-.3l-1 2.3l1.4-.3l-.9 2.2l1.4-.5l-.6 2.2l.9-.4l-.5 2.1l.9-.5l-.3 .8l0 1.2l.8-.5l-.2 1.9l.9-.6l-.1 1.8l.9-.7l0 1.6l.4-.3l.2 1.5l.3-.4l.3 1.4l.3-.5l.3 1.3l.4-.5l.8 2.5l.5 .7l.2-.7l1.4 2l0 .8l1.4 1.1l.2 .7l.8 .3l1.1 1.9l.2-.2l1.1 .6l9-9.3M330.3 288.8l7.8-7.2M344.2 275.9l25.9-23.9l4 4.6l3.4 4.7l1 2.6l-.2 .3l.9 2.6l1.3 2.6l1.1 6.5l.4 4.6l.1 5.1l-.5-1.9l-.2 5.1M381.4 288.8l-.3 2.3l-.3-1.5l-.6 3.8l-.2-1.3l-.7 3.9l-.2-1.3l-1 3.9l-.3-2.2l-1.1 3.9l-.2-1l-1.4 3.9l-.1-1.9l-1.6 3.8l-.1-1.7l-1.8 3.6l-.2-2.3l-1.9 3.5l-.1-1.4l-2.1 3.3l0-2l-2.3 3.2l0-1.9l-2.4 2.9l0-2.3l-2.4 2.7l0-1.6l-2.5 2.4l.1-2.1l-2.5 2.2l0-2l-2.4 2l.1-1.5l-2.5 1.7l.2-1.9l-2.5 1.5l.2-1.5l-.9 .8l-1.5 .5l.4-1.9l-2.3 1.1l.3-1.4l-2.3 .9l.5-1.4l-2.2 .7l.4-.9l-2.1 .5l.6-1.3l-2 .4l.5-.9l-1.9 .2l.6-.9l-1.8 .2l.4-.5l-1.7 0l.4-.4l-1.6-.1l.8-.8l-2.8-.5l.5-.3l-1.2-.4l.6-.3l-3.1-1.5l-1.3-1l-1.1-1.5l-.7-.1l-.4-.9l-1.3-.6l-1.3-1l-12 12.3M303 316.9l-20.1 20.5"/>
<text x="379.3" y="243.5" font-size="5.2" text-anchor="middle" dy="0.36em" transform="rotate(-42.7 379.3 243.5)">0</text>
<text x="341.1" y="278.8" font-size="5.2" text-anchor="middle" dy="0.36em" transform="rotate(-42.7 341.1 278.8)">0</text>
<text x="305.9" y="313.9" font-size="5.2" text-anchor="middle" dy="0.36em" transform="rotate(-45.8 305.9 313.9)">0</text>
</g>
<text x="329.8" y="202.2" font-size="12.7" text-anchor="middle">Shear Modulus G13</text>
<rect x="408.1" y="343.20" width="6.6" height="13.90" fill="#4961d2"/>
<rect x="408.1" y="329.60" width="6.6" height="13.90" fill="#6a8bef"/>
<rect x="408.1" y="316.00" width="6.6" height="13.90" fill="#8db0fe"/>
<rect x="408.1" y="302.40" width="6.6" height="13.90" fill="#afcafc"/>
<rect x="408.1" y="288.80" width="6.6" height="13.90" fill="#cfdaea"/>
<rect x="408.1" y="275.20" width="6.6" height="13.90" fill="#e9d5cb"/>
<rect x="408.1" y="261.60" width="6.6" height="13.90" fill="#f6bda2"/>
<rect x="408.1" y="248.00" width="6.6" height="13.90" fill="#f4987a"/>
<rect x="408.1" y="234.40" width="6.6" height="13.90" fill="#e36c55"/>
<rect x="408.1" y="220.80" width="6.6" height="13.90" fill="#c53334"/>
<line x1="414.7" x2="417.3" y1="343.20" y2="343.20" stroke="#555" stroke-width="0.8"/>
<text x="419.7" y="344.00" font-size="10.35" dy="0.36em">−3.2</text>
<line x1="414.7" x2="417.3" y1="316.00" y2="316.00" stroke="#555" stroke-width="0.8"/>
<text x="419.7" y="316.80" font-size="10.35" dy="0.36em">−1.6</text>
<line x1="414.7" x2="417.3" y1="288.80" y2="288.80" stroke="#555" stroke-width="0.8"/>
<text x="419.7" y="289.60" font-size="10.35" dy="0.36em">0.0</text>
<line x1="414.7" x2="417.3" y1="261.60" y2="261.60" stroke="#555" stroke-width="0.8"/>
<text x="419.7" y="262.40" font-size="10.35" dy="0.36em">1.6</text>
<line x1="414.7" x2="417.3" y1="234.40" y2="234.40" stroke="#555" stroke-width="0.8"/>
<text x="419.7" y="235.20" font-size="10.35" dy="0.36em">3.2</text>
<text x="415.2" y="218.3" font-size="10.35" text-anchor="end">1e8</text>
<text x="644.2" y="287.8" font-size="10.35" text-anchor="middle" dy="0.36em">0°</text>
<text x="621.5" y="232.9" font-size="10.35" text-anchor="middle" dy="0.36em">45°</text>
<text x="566.6" y="210.2" font-size="10.35" text-anchor="middle" dy="0.36em">90°</text>
<text x="511.7" y="232.9" font-size="10.35" text-anchor="middle" dy="0.36em">135°</text>
<text x="489" y="287.8" font-size="10.35" text-anchor="middle" dy="0.36em">180°</text>
<text x="511.7" y="342.7" font-size="10.35" text-anchor="middle" dy="0.36em">225°</text>
<text x="566.6" y="365.4" font-size="10.35" text-anchor="middle" dy="0.36em">270°</text>
<text x="621.5" y="342.7" font-size="10.35" text-anchor="middle" dy="0.36em">315°</text>
<text x="630.1" y="257.8" font-size="10.35" text-anchor="middle" dy="0.36em">3</text>
<mask id="c5"><circle cx="566.6" cy="288.8" r="67.9" fill="#fff"/></mask>
<g mask="url(#c5)">
<circle cx="566.6" cy="288.8" r="68.9" fill="#465ecf"/>
<path fill="#6282ea" fill-rule="nonzero" d="M566.6 288.8l70.5 4.2l.1-5.9l-.5-7.1l-1.2-6.5l-1.7-6.3l-2.5-6.7l-3.2-6.4l-3.5-5.5l-4.3-5.7l-5-5.2l-5.4-4.7l-5.8-4.1l-5.7-3.2l-6.6-2.9l-6.2-2l-7-1.6l-6.5-.8l-7.1-.2l-6.5 .5l-7.1 1.1l-6.9 1.9l-6.6 2.6l-6.4 3.2l-5.5 3.6l-5.2 4l-5.2 4.9l-4.3 4.9l-4.2 5.8l-3.5 6.2l-2.9 6.6l-2.2 6.8l-1.5 6.3l-.8 7.1l-.2 6.6l.5 7.1l1.1 6.5l1.9 6.9l2.6 6.6l3.2 6.4l3.5 5.5l4 5.2l4.9 5.2l5.4 4.7l5.8 4.1l6.3 3.5l6 2.7l6.2 2l6.9 1.6l6.5 .9l7.2 .2l7.1-.5l7-1.2l6.9-1.9l6.1-2.4l5.9-2.9l6.1-3.8l5.6-4.4l4.8-4.5l4.6-5.4l4.2-5.8l3.5-6.3l2.6-5.9l2.1-6.3l1.6-6.9l.9-7.1l.2-6.6l-.1-2.9l-70.5 4.2z"/>
<path fill="#7ea1fa" fill-rule="nonzero" d="M582.9 289.8l33.8 2l1.5-7.3l-.1-7.6l-1.5-7.5l-2.8-7.2l-4.3-7.1l-5.9-6.4l-6.6-5l-7.3-3.7l-7.9-2.2l-8-.7l-7.9 .9l-7.4 2.7l-3.7 2.1l-3.3 2.7l-2.8 3l-2.4 3.5l-1.8 3.7l-1.3 4.3l-.6 4.3l0 4.5l1.9 9.3l4.2 9.3l6.3 8.5l8 7.4l8.8 5.4l9 3.2l9.1 .9l8.2-1.4l3.8-1.5l3.6-2.1l3.2-2.7l2.8-3.1l4.3-7.4l2.2-8.9l-33.8 2l-2 2.8l-2.9 1.8l-3.3 .6l-3.7-.5l-2.6-1.2l-3.1-2.2l-3-4.4l-1.1-4.2l.4-3.6l1.6-3.1l2.7-2.2l3.6-1.1l3.5 .1l3.4 1.2l3 2l2.5 3l1.4 3.3l.5 3.5l-.6 3.3l-1.6 3zM521.3 234.7l-4.9 4.4l-4.7 5.3l-3.9 5.3l-3.7 6.2l-3 6.5l-2.1 6.1l-1.7 7l-1 7.1l-.3 6.5l.4 7.1l1.1 7.1l1.8 6.9l2.3 6.1l3.1 6.5l3.4 5.6l4.3 5.7l4.9 5.2l4.9 4.4l5.2 3.9l6.2 3.6l6.4 3l6.2 2.2l7 1.7l7 1l7.2 .3l7.1-.4l6.5-1.1l6.9-1.8l6.7-2.5l5.9-2.8l5.6-3.4l5.7-4.3l9-9l-10.8 4.3l-12.6 2.6l-14.1 .6l-13.5-1.3l-12.2-3l-10.5-4.7l-9.7-6.5l-7.9-7.9l-5.7-8.2l-4.5-9.2l-3.3-10.5l-1.8-11.1l-.4-12.3l1.1-11.8l2.5-11l3.9-9.4z"/>
<path fill="none" stroke="#000" stroke-opacity="0.9" stroke-width="1.3" stroke-linejoin="round" d="M617.7 288.8l.2-5.1l.5 1.8l0-2.2l-.6-8.3l-1-5.6l-1.3-2.6l-.9-2.6l.2-.3l-1-2.6l-3.4-4.7l-3.7-4.4l-1.5-2.5l-1.8-1.3l-.8-.2l-6.7-5.3l-2.7-1.1l-2.5-1.4l-2.8-.8l-2.5-1.3l-1.2-.2l-4.4-.7l-5.6-.5l-2.3 0l2 .6l-7.2 .1l1.6 .4l-5 .4l-2.6 .6l1.4 .2l-3.9 .8l2.4 .4l-3.9 1l1.1 .1l-3.9 1.3l1.9 .2l-3.8 1.4l1.8 .2l-3.7 1.6l1.6 .1l-3.6 1.8l1.5 .1l-1.6 .7l-1.8 1.3l2.1 .1l-3.3 2.1l1.9 .1l-3.1 2.3l1.9 0l-2.9 2.4l2.3 0l-2.6 2.4l1.6 0l-2.4 2.5l2.1-.1l-2.2 2.6l2.1-.1l-2 2.5l1.5-.2l-.9 1l-.8 1.5l2-.2l-1.5 2.5l1.9-.4l-1.2 2.4l1.4-.3l-1 2.3l1.4-.3l-.9 2.2l1.4-.5l-.6 2.2l.9-.4l-.5 2.1l.9-.4l-.3 .7l0 1.2l.8-.5l-.2 1.9l.9-.6l-.1 1.8l.9-.7l0 1.7l.4-.4l.2 1.5l.3-.4l.3 1.4l.3-.5l.3 1.3l.4-.5l1.3 3.2l.2-.7l1.4 2l0 .8l1.4 1.1l.2 .7l.8 .3l1.1 1.9l.3-.1l.7 .2l0 1l2.4 1.4l.4 .9l.7 .1l1.1 1.5l1.3 1l3.1 1.5l-.6 .3l1.2 .4l-.5 .3l2.8 .5l-.8 .8l1.5 .1l-.3 .4l1.7 0l-.4 .5l1.8-.2l-.6 .9l1.9-.2l-.5 .9l2-.4l-.6 1.3l2.1-.5l-.4 .9l2.2-.7l-.5 1.4l2.3-.9l-.4 1.4l2.4-1.1l-.4 1.9l1.5-.5l.9-.7l-.2 1.4l2.5-1.5l-.2 1.9l2.5-1.7l-.1 1.5l2.4-2l0 2l2.5-2.2l-.1 2.1l2.5-2.4l0 1.6l2.4-2.7l0 2.3l2.4-2.9l0 1.9l2.3-3.2l0 2l2.1-3.3l.1 1.4l1.9-3.5l.2 2.3l1.8-3.6l.1 1.7l1.6-3.8l.1 1.8l1.5-3.8l.1 1l1.1-3.9l.3 2.2l1-3.9l.2 1.2l.7-3.9l.2 1.4l.5-3M566.6 288.8l-2.6-3.1l.1-.6l-.8-.7l.3-.6l-.8-.7l.4-.6l-.7-.8l.5-.6l-.8-.8l.6-.7l-.8-.7l.8-.7l-.6-.5l.9-.7l-.7-.5l1-.6l-.3-.3l1.1-.6l-.8-.5l.9-.5M568 271l6.6-.6l.8 .7l1.2 0l.9 .7l1.2 .1l4.3 4.2l.3 .4l.2 1.2l1.3 1.7l0 2.4l.6 .8l-.5 4.2l-.4-.7l-.5 2.5l-.4-.6l-.2 .8M616.5 334.9l-4.8 4.2l1.2-3l-4.8 3.9l1-2.3l-2.1 1.8l-2.9 1.7l1.6-2.8l-5 3.1l1.3-2.1l-2.2 1.4l-2.8 1.4l1.5-2.1l-2.2 1.2l-2.9 1.2l1.7-2l-5 2.1l1.9-2l-4.9 1.7l1.4-1.3l-4.8 1.4l1.6-1.2l-4.7 1.1l1.8-1.2l-4.7 .8l2.1-1.2l-4.5 .6l1.2-.5l-4.3 .3l1.2-.5l-3.9 0M567.2 339.5l-6-.8l1.9-.2l-5.9-1.5l-6.2-2.6l-2.5-.7l-2.2-1.3l-2-1.7l-4.4-2.3l-1.6-1.5l-.1-.5l-3-2.3l-2.7-2.6l-2.4-2.8l-2.2-3l-1.5-1.7l-.3-.1l-1.2-2.2l-1.6-2.1l-.8-2.4l-2.5-4.5l-2.2-6l-1.3-6.5l-.3 1.9l-.4-3.7l-.4 1.6l-.3-2.6l.1-5.4l-1 2.6l0-2.8l.2-1.5l-.5 1.2l.4-4.5l-.5 1l.8-4.5l-1.3 1.9l1.1-4.7l-1.3 1.6l1.4-4.8l-1.3 1.5l1.7-4.9l-2 1.9l2-4.9l-2.1 1.7l1.2-2.9l1.2-2.1l-2.1 1.5l1.3-2.8l1.4-2.2l-2.1 1.3l3-5l-2.1 1.2l3.4-4.9l-2.9 1.4l3.8-4.9l-3 1.3l2-2.7l2.1-2.1l-.8 .3M580.8 291.4l-.1-.2l-.6 1.1l-.5-.7l-.6 1l-.3-.3l-.6 .9l-.8-.9l-.7 .8l-.5-.5l-.7 .7l-.7-.8l-.7 .5l-.7-.8l-.7 .5l-.7-.8l-.6 .3l-.7-.7l-.6 .1l-3.4-2.8"/>
<text x="566.0" y="272.3" font-size="5.2" text-anchor="middle" dy="0.36em" transform="rotate(-33.3 566.0 272.3)">0</text>
<text x="582.6" y="289.8" font-size="5.2" text-anchor="middle" dy="0.36em" transform="rotate(-57.2 582.6 289.8)">0</text>
<text x="617.6" y="289.3" font-size="5.2" text-anchor="middle" dy="0.36em" transform="rotate(-82.3 617.6 289.3)">0</text>
<text x="568.2" y="340.1" font-size="5.2" text-anchor="middle" dy="0.36em" transform="rotate(-355.8 568.2 340.1)">0</text>
</g>
<text x="566.1" y="202.2" font-size="12.7" text-anchor="middle">Shear Modulus G12</text>
<rect x="644.4" y="345.47" width="6.6" height="11.63" fill="#465ecf"/>
<rect x="644.4" y="334.13" width="6.6" height="11.63" fill="#6282ea"/>
<rect x="644.4" y="322.80" width="6.6" height="11.63" fill="#7ea1fa"/>
<rect x="644.4" y="311.47" width="6.6" height="11.63" fill="#9bbcff"/>
<rect x="644.4" y="300.13" width="6.6" height="11.63" fill="#b9d0f9"/>
<rect x="644.4" y="288.80" width="6.6" height="11.63" fill="#d2dbe8"/>
<rect x="644.4" y="277.47" width="6.6" height="11.63" fill="#e7d7ce"/>
<rect x="644.4" y="266.13" width="6.6" height="11.63" fill="#f5c4ac"/>
<rect x="644.4" y="254.80" width="6.6" height="11.63" fill="#f7a98b"/>
<rect x="644.4" y="243.47" width="6.6" height="11.63" fill="#ef886b"/>
<rect x="644.4" y="232.13" width="6.6" height="11.63" fill="#dd5f4b"/>
<rect x="644.4" y="220.80" width="6.6" height="11.63" fill="#c32e31"/>
<line x1="651" x2="653.6" y1="356.80" y2="356.80" stroke="#555" stroke-width="0.8"/>
<text x="656" y="357.60" font-size="10.35" dy="0.36em">−0.2</text>
<line x1="651" x2="653.6" y1="334.13" y2="334.13" stroke="#555" stroke-width="0.8"/>
<text x="656" y="334.93" font-size="10.35" dy="0.36em">0.0</text>
<line x1="651" x2="653.6" y1="311.47" y2="311.47" stroke="#555" stroke-width="0.8"/>
<text x="656" y="312.27" font-size="10.35" dy="0.36em">0.2</text>
<line x1="651" x2="653.6" y1="288.80" y2="288.80" stroke="#555" stroke-width="0.8"/>
<text x="656" y="289.60" font-size="10.35" dy="0.36em">0.4</text>
<line x1="651" x2="653.6" y1="266.13" y2="266.13" stroke="#555" stroke-width="0.8"/>
<text x="656" y="266.93" font-size="10.35" dy="0.36em">0.6</text>
<line x1="651" x2="653.6" y1="243.47" y2="243.47" stroke="#555" stroke-width="0.8"/>
<text x="656" y="244.27" font-size="10.35" dy="0.36em">0.8</text>
<line x1="651" x2="653.6" y1="220.80" y2="220.80" stroke="#555" stroke-width="0.8"/>
<text x="656" y="221.60" font-size="10.35" dy="0.36em">1.0</text>
<text x="651.5" y="218.3" font-size="10.35" text-anchor="end">1e8</text>
<text x="171.6" y="477.8" font-size="10.35" text-anchor="middle" dy="0.36em">0°</text>
<text x="148.9" y="422.9" font-size="10.35" text-anchor="middle" dy="0.36em">45°</text>
<text x="94" y="400.2" font-size="10.35" text-anchor="middle" dy="0.36em">90°</text>
<text x="39.1" y="422.9" font-size="10.35" text-anchor="middle" dy="0.36em">135°</text>
<text x="16.4" y="477.8" font-size="10.35" text-anchor="middle" dy="0.36em">180°</text>
<text x="39.1" y="532.7" font-size="10.35" text-anchor="middle" dy="0.36em">225°</text>
<text x="94" y="555.4" font-size="10.35" text-anchor="middle" dy="0.36em">270°</text>
<text x="148.9" y="532.7" font-size="10.35" text-anchor="middle" dy="0.36em">315°</text>
<text x="157.5" y="447.8" font-size="10.35" text-anchor="middle" dy="0.36em">3</text>
<mask id="c6"><circle cx="94" cy="478.8" r="67.9" fill="#fff"/></mask>
<g mask="url(#c6)">
<circle cx="94" cy="478.8" r="68.9" fill="#4961d2"/>
<path fill="#6a8bef" fill-rule="nonzero" d="M94 478.8l70.5 4.2l.1-6.5l-.5-6.5l-1.3-7.1l-1.8-6.3l-2.3-6.1l-3.2-6.4l-3.5-5.5l-4-5.3l-4.4-4.8l-4.9-4.3l-5.2-4l-6.1-3.6l-6.5-3.1l-6.2-2.2l-6.9-1.8l-6.5-.9l-6.5-.4l-7.2 .3l-6.5 .9l-6.9 1.6l-6.2 2.1l-6.5 3l-6.2 3.6l-5.7 4.2l-4.9 4.4l-4.9 5.2l-4 5.2l-3.7 6.1l-2.9 5.9l-2.5 6.7l-1.8 6.9l-1.1 7.1l-.3 11.3l1.5 11.2l.9-2.5l1.4 0l1.2 1l14.1 20.5l5.4 6.4l5.8 5.8l8.9 7.2l17.7 12l1 1.2l0 1.4l-2.5 .9l7.6 1.2l7.1 .4l6.5-.3l6.5-.8l7-1.7l6.7-2.3l6.5-3l5.7-3.3l5.8-4.2l4.9-4.3l4.8-5.2l4-5.3l3.8-6l2.9-5.9l2.5-6.7l1.9-6.9l1.1-7l.3-11.9l-70.5 4.2zM93.5 478.9l.4 .4l-.9 3l-1.1 .6l-1.2-.4l-.8-1.2l.2-1.2l3.4-1.2zM131 471.9l-1.1-.5l-1.1-1.3l-5-9.1l-4.2-5.6l-6.5-5.5l-11.1-6.3l-1.1-1.8l.8-1.8l2.7-1.4l2.9-.6l3.2 .1l4 .7l6.8 3l6.3 5.2l4.6 6.7l1.6 3.9l.8 3.8l.2 3.8l-.6 3.2l-1.4 2.7l-1.8 .8z"/>
<path fill="#8db0fe" fill-rule="nonzero" d="M94 478.8l30.5 1.8l-.9-8.4l-1.5-5.7l-2.8-5.5l-3.9-4.6l-4.4-3.4l-4.9-2.3l-5.7-1.5l-9.2-1l-1.6-.7l-.9-1l-.2-2.4l1.6-3.2l2.7-2.6l3.2-2l4.1-1.3l4.3-.7l4.8 .2l4.8 1l4.6 1.7l4.3 2.4l4 3l3.7 3.8l3.1 4.3l2.3 4.4l1.6 4.6l.8 4.8l0 4.7l-.8 4.5l-1.6 4l-2.4 3.5l30.9 1.8l0-8.3l-1.1-8.9l-2-8.1l-3.2-8.3l-4.9-8.9l-6.4-8.5l-7.7-7.5l-8.2-5.9l-9-4.6l-10.1-3.5l-10-1.9l-10.1-.4l-10.1 1.1l-10.3 2.6l-9.9 4.2l-8.6 5.3l-7.8 6.5l-7.2 7.9l-5.8 9l-4.2 9.2l-2.2 6.8l-1.4 6.6l2.7 4.3l7.5 19.1l5.6 11.4l6.9 10.2l8.2 9l8.3 6.7l9.2 5.7l10.2 4.9l18.2 7.1l4.3 2.7l9.3-2.2l8.9-3.4l9.4-5.2l8.4-6.6l7-7.3l6.2-8.8l4.6-9l3.3-10.2l1.8-10.5l.2-10.7l-27.8 1.6l-1.7 3.1l-2 2.5l-2.7 1.9l-2.6 .7l-1.4-.3l-1.3-1.4l-.9-5.7l-30.1 1.8l.8 6.3l-.8 1.1l-1.5 .2l-2.3-.9l-2.1-1.8l-1.4-2.4l-.3-2l.6-.9l1.2-.4l5.8 .8z"/>
<path fill="#afcafc" fill-rule="nonzero" d="M94 478.8l24.8 1.5l.9-7l-1.2-6.2l-2.9-5.5l-4.5-4.5l-5.5-2.8l-5.8-1.2l-5.9 .5l-5.6 2.2l-6.1 4.6l-1.4-.4l-1.1-2.8l-.4-4.3l.6-4.2l1.3-3.7l1.8-3.2l2.8-3.2l3-2.5l3.4-1.9l4.7-1.6l4.8-.9l5.4 .1l5 .8l5.3 1.7l4.6 2.2l4.3 2.9l4.1 3.7l3.6 4.3l3 4.7l2.2 5.1l1.3 4.9l.6 5l-.2 5.2l-1 4.9l-1.7 4.3l26.3 1.5l0-8.3l-1.1-8.9l-2-8.1l-3.2-8.3l-4.9-8.9l-6-8.1l-6.8-6.7l-8-6.1l-8.9-4.9l-9.4-3.6l-9.9-2.2l-10.1-.7l-10.1 .7l-9.9 2.1l-9.5 3.5l-8.9 4.9l-8.1 6.1l-7.1 7.1l-6.1 8.1l-4.6 8.5l1.2 10.8l2 11.3l2.4 9.7l2.8 8.5l3.4 7.9l4.1 7.4l4.8 6.7l5.2 5.8l5.8 5.2l6.4 4.5l7.3 4.1l7.9 3.4l8.5 2.8l9.7 2.4l11.3 2l10.9 1.2l9.4-5.2l8.4-6.6l7-7.3l6.2-8.8l4.6-9l3.3-10.2l1.8-10.5l.2-10.7l-24.3 1.4l-2.8 6.8l-4.5 5.5l-5.7 3.6l-6.7 1.5l-5.4-.4l-1.9-.7l-.9-1l.4-1.1l4.7-6.6l2.1-6.3l-25.5 1.5l2.5 4.6l5.3 6.5l-.2 1l-1.8 .4l-5-.8l-4.8-2.4l-4-3.7l-3-4.6l-1.5-5.6l.1-2.3l.8-.9l1.2 .5l6 5l4.4 2.3z"/>
<path fill="#cfdaea" fill-rule="nonzero" d="M94 478.8l20.4 1.2l1.5-4.5l-.1-5l-1.6-4.7l-3-4.1l-4.8-3.4l-5.8-1.5l-5.8 .7l-4.6 2.8l-1.5 1.9l-1 2.4l-.4 2.4l.2 2.7l2.2 5l4.3 4.1zM141.3 481.6l23.2 1.4l-.2-11.3l-2.2-11.7l-2.5-7.3l-3.2-7l-4-6.7l-4.7-6.1l-5.4-5.6l-5.9-5l-6.5-4.3l-6.8-3.6l-11.2-3.9l-11.8-2l-11.9-.1l-11.1 1.8l-11.3 3.9l-10 5.3l-9.4 7.2l-8.1 8.8l-1.1 5.7l-.8 8l.4 15.7l2.5 15.2l4.5 13.4l6 11.2l3.8 5.2l4 4.5l4.4 4.1l5.1 3.9l11 6.1l6.7 2.7l7 2.1l15.6 2.8l8.1 .5l8.1-.1l8-.8l5.8-1.1l5.8-5l4.8-5.2l4.7-6.2l3.7-6.2l3-6.4l2.5-7.4l1.6-6.9l1-7.7l0-8.9l-21.5 1.3l-2.3 7.3l-3.9 6.2l-5.3 4.9l-6.5 3.2l-7.5 1.4l-8.2-.5l-8.7-2.2l-7.7-3.7l-6.8-5.3l-5.4-6.8l-4.1-8.2l-2.3-9.3l-.3-8.1l1.6-7.7l3.5-6.5l5.3-5.4l4.6-2.8l5.3-2l5.7-1l6 0l5.6 .9l5.9 1.9l5.5 2.7l5.1 3.6l4.6 4.3l3.8 4.9l3.1 5.4l2.2 5.7l1.4 6l.3 5.6l-.6 6l-1.6 5.2zM94 478.8l2.4 2.9l3 2.2l3.2 1.3l3.3 .3l3.2-.7l2.7-1.6l2.2-2.6l1.5-3.1l-21.5 1.3z"/>
<path fill="#e9d5cb" fill-rule="nonzero" d="M94 478.8l16.3 1l1.8-3.4l.4-4.2l-1.3-4.3l-2.6-3.7l-3.8-2.7l-4.4-1.2l-4.4 .6l-3.6 2.2l-2 3.3l-.5 4.2l1.3 4.2l2.8 4zM144.1 481.8l20.4 1.2l-.1-9.5l-1.3-9.4l-1.9-6.9l-2.5-6.7l-3.2-6.4l-4.2-6.5l-4.4-5.6l-5-5.1l-5.5-4.6l-5.9-4l-9.6-4.8l-10.2-3.3l-11.2-1.8l-10.7 0l-11.1 1.7l-10.3 3.3l-9.5 4.7l-9.2 6.5l-2.6 6l-2.1 6.4l-1.6 6.9l-.9 7.2l-.1 15.3l.8 7.4l1.4 7.3l1.9 6.6l2.5 6.2l3 5.8l3.2 5l4 5l4.2 4.3l4.6 3.8l5.4 3.6l7.2 3.7l7.8 2.9l8.5 2.1l9 1.2l9.3 .4l9.5-.6l9.1-1.5l8.2-2.4l7.2-3.1l6.7-9.6l3.3-6.3l2.5-6.1l2-6.8l1.3-7.1l.6-6.5l-.1-7.1l-19.1 1.1l-2.1 8.5l-1.8 3.9l-2.5 3.7l-5.8 5.8l-3.5 2.1l-3.8 1.6l-8.2 1.5l-8.6-.7l-9.1-3l-8.6-5.1l-8-7.1l-6.5-8.3l-4.5-9.2l-2.2-9.3l.2-8.6l1-4.3l1.5-3.8l2.2-3.5l2.6-3.3l3.3-2.8l3.8-2.5l5.1-2.3l5.5-1.4l5.8-.5l6.2 .4l5.8 1.2l6 2.2l5.6 3l5.2 3.9l4.6 4.5l3.6 4.7l3.2 5.6l2.2 5.5l1.6 6.1l.5 5.8l-.3 6.2l-1.3 5.6zM94 478.8l4.6 3.1l2.7 .8l2.5 .2l2.5-.5l2.2-1l1.8-1.7l1.3-2l-17.6 1.1z"/>
<path fill="#f6bda2" fill-rule="nonzero" d="M94 478.8l12.1 .7l.8-.7l1.7-2.6l.4-3.2l-.9-3.3l-2-2.9l-2.9-2.1l-3.3-.9l-3.2 .4l-2.7 1.6l-1.7 2.6l-.6 3.3l.6 3.6l1.7 3.5zM147 482l17.5 1l0-8.9l-1.2-8.9l-1.6-6.3l-2.1-6.2l-2.7-6l-3.6-6.2l-4.1-5.8l-4.3-4.9l-4.8-4.5l-5.2-4l-8.6-5.3l-9.9-4.2l-9.8-2.5l-10.6-1.1l-10.7 .5l-11.1 2.3l-6.8 2.4l-6.4 3l-2.2 2.8l-3.5 5.6l-2.7 5.5l-2.4 6.6l-1.9 6.9l-1.4 8.1l-.8 7.5l-.2 7.6l.5 7.2l1 6.4l1.7 6l2.2 5.8l2.7 5.4l3.2 5l4 4.8l4.4 4.4l4.7 3.7l6.3 4l6.6 3l7.4 2.3l7.5 1.4l8.5 .5l8.5-.3l9.2-1.2l8.8-2l6.8-2.2l6.1-2.6l5.2-2.9l5.2-3.8l4.4-10.3l2.9-11.6l.8-7.7l0-7.7l-16.6 1l-.6 4.9l-1.3 4.9l-1.8 4.5l-2.5 4.3l-3 3.7l-3.1 3l-3.6 2.4l-4.2 2l-4.1 1.1l-4.2 .5l-4.5-.1l-5-.9l-4.7-1.5l-5-2.2l-9.4-6l-9.8-9.1l-7.7-9.8l-5.1-9.9l-1.4-4.7l-.9-5l-.1-4.9l.7-4.6l1.4-4.4l2-3.8l2.8-3.8l3.1-3.1l3.9-2.8l4.4-2.3l5.5-1.9l6.3-1.1l5.9-.2l6.5 .7l5.9 1.5l6.2 2.4l5.7 3.3l4.9 3.7l4.8 4.7l3.8 4.9l3.3 5.7l2.4 5.6l1.7 5.9l.9 6.5l-.1 6.4l-.9 5.9zM94 478.8l3.8 1.8l3.9 .5l3.5-1l2.5-2.1l-13.7 .8z"/>
<path fill="#f4987a" fill-rule="nonzero" d="M94 478.8l7.7 .5l2.4-1.5l1.3-1.9l.3-2.3l-.6-2.4l-1.4-2l-2.1-1.5l-2.3-.6l-2.3 .3l-1.9 1.2l-1.4 2l-.6 2.4l.1 2.7l.8 3.1zM150.1 482.2l14.4 .8l-.1-9.5l-1.2-8.8l-3.6-12l-5.3-10.7l-7.4-10l-8.6-8.2l-8.4-5.8l-9-4.5l-9.6-3.2l-10-1.7l-12.5-.2l-12.3 2l-1.7 .5l-6.1 5.9l-3.6 5.5l-2.2 5.1l-.9 4.7l.2 1.6l.8 .6l2-.7l9.8-5.8l6.4-2.8l7.7-2.1l8.6-.8l9.1 .8l8.5 2.1l8 3.6l7.7 5.2l5.1 4.6l4.4 5.3l3.7 5.7l3 6.2l2.1 6.5l1.2 6.7l.4 6.7l-.6 6.7zM57.9 453.5l-1.2-.7l-1.5 1.2l-1.4 2.7l-1.5 4.4l-1.4 8.7l.4 8.8l1.6 7.7l2.8 7.2l4 6.8l5.2 6.3l5.9 5.2l6.3 4.1l7 3.2l7.2 2l7.9 .8l7.5-.4l7.5-1.7l5.2-2.7l.5-1.6l-1.1-1l-13.4-5.9l-9.9-6.2l-7.3-5.9l-8.4-8.1l-6.9-7.7l-5.5-7.7l-4.2-7.5l-5.3-12zM94 478.8l5.4 .9l2.4-.4l1.8-1.1l-9.6 .6zM138.5 509.7l1.1 1.1l2.4-.1l4.1-1l3.7-1.6l6.2-4l6-6.2l2.2-11.4l.3-11.9l-13.8 .8l-.9 8.5l-2 7.8l-2.8 6.4l-5.9 9.8l-.6 1.8z"/>
<path fill="#e36c55" fill-rule="nonzero" d="M94 478.8l4.2-.1l3.1-1.5l.9-1.3l.3-1.5l-.3-1.6l-.9-1.3l-1.3-.8l-1.5-.4l-1.5 .3l-1.4 .9l-1.5 3l-.1 4.3zM154.7 482.4l9.1 .6l.8-1.6l-.2-8.5l-1.2-8.2l-2.9-10.3l-4.2-9.3l-5.5-8.5l-6.6-7.6l-6.7-6l-7.4-5l-7.9-4l-9-3.2l-10.5-2.1l-11.1-.5l-3 1.6l-3.6 2.7l-1.5 2.7l.2 1l.9 .8l3 .8l16.4 1.6l11.2 3l6.1 2.6l5.7 3.3l5.4 3.9l4.5 4.1l4.1 4.5l3.5 4.9l3.1 5.3l2.5 5.6l3.3 11.7l1.5 14.1zM60.9 473.3l-2.2-.1l-1.7 2.2l-.7 4.2l.5 5.1l1.3 4.9l2.1 4.9l2.8 4.5l3.5 4.4l3.8 3.7l3.9 3l4.4 2.6l4.6 2l4.9 1.3l4.4 .5l3.8-.4l2.7-1.3l.7-1.3l-.1-1.5l-2.5-3.6l-31.8-31.8l-4.4-3.3zM94 478.8l5-.3l-5 .3zM156 488.8l1.6 .7l1.6-.6l1.7-1.5l2.1-3l1.6-3l-.1-6.8l-10.3 .6l.8 10.3l1 3.3z"/>
<path fill="#c53334" fill-rule="nonzero" d="M159.3 466.6l1.4-.4l1-2.2l.5-3.6l-2.4-7.2l-2.9-6.5l-3.6-6.2l-4.1-5.8l-4.3-4.9l-4.8-4.5l-5.2-4l-5.5-3.6l-5.8-3l-11.2-4.1l-3.6 .5l-2.2 1l-.4 1.4l1.1 1.2l13.3 6.6l6 3.5l6.8 5l5.9 5.4l4.5 5.2l4.3 6l3.8 6.5l5.4 11.3l2 2.4zM94.5 478.7l2.4-.7l1.6-1.1l.7-1.6l-.6-1.3l-1.4-.3l-1.6 .9l-1.2 2.6l-.3 1.3l.4 .2zM65.8 484.2l-1.6 .1l-.9 .9l-.5 1.9l.2 2.4l2.2 5.8l4 5.7l5 4.5l5.3 3.1l5.4 1.3l2-.1l1.2-.7l.6-1.5l-.6-2.1l-5.5-7.3l-10-9.7l-4.1-3.1l-2.7-1.2z"/>
<path fill="none" stroke="#000" stroke-opacity="0.9" stroke-width="1.5" stroke-linejoin="round" stroke-dasharray="4.4 2" d="M124.4 469.5l-1.5-4.4l-1.9-3.6l-3-4l-2.8-2.9l-3.3-2.4l-4.5-2.4l-3.8-1.3l-7.6-1.9l-2.1-.7l-1-.7l-.5-.7l-.3-.6l.1-1.4l1.2-2.1l1.3-1.4l1.9-1.3l2.4-1.1l2.9-.8l2.5-.4l4.9 .1l4.4 .8l2.8 1l2.8 1.2l5.2 3.1l4.5 4.1l2.8 3.6l3 5.2l1.6 4.3l.9 4.3l.1 4.5l-.7 4.5l-1.6 4.1l-2 2.6M26.1 477l2.1 3.7l6.7 14.4l3.6 6.8l5.1 8l5.8 7.2l6.6 6.6l7.3 5.8l8 5l10.5 5.4M91.1 544.2l4.7 2.5M94 478.8l.2 4.1l-.2 1.2l-.4 .6l-.9 .5l-1.1-.1l-1.3-.6l-1.2-.9l-.9-1.2l-.5-1.2l-.1-1.1l.4-.8l.6-.4l1.3-.3l4.1 .2M133.1 478.8l-1.4 1.2l-2.1 .7l-1.3-.3l-.7-.5l-.7-1.1"/>
<path fill="none" stroke="#000" stroke-opacity="0.9" stroke-width="1.15" stroke-linejoin="round" d="M111 478.8l1.2-2.9l.3-3.1l-.6-3.2l-1.3-2.9l-2.5-3l-2.7-1.9l-3-1.1l-3.2-.4l-3.1 .5l-2.8 1.5l-1.8 1.8l-1.3 3l-.3 3l.5 2.9l1.4 3.1l1.7 2.2l.5 .2l0 .3M46 430.8l-.2 .4M41.2 457.5l.3 10.4l1.4 10.1l2.4 9.1l3 7.4l2.1 4.1l2.3 3.9l4.5 6l5.1 5.4l3.4 2.9l3.7 2.7l3.8 2.4l4 2.1l3.8 1.7l4.7 1.8l7.9 2.1l10 1.6l5.4 .4l5.6 .1l9.7-.7l8.7-1.5l4.3-1.1l4.7-1.6M94 478.8l0 .3l4.5 2.8l2.6 .8l2.3 .2l2.3-.3l2-.7l2-1.5l1.3-1.6M144.9 478.8l-1 3.7l-1.6 4l-1.5 2.8l-1.8 2.6l-2.1 2.4l-2.3 2.2l-2.5 1.8l-2.8 1.6l-3.3 1.4l-3.3 .9l-3.1 .5l-3.2 .1l-2.9-.1l-3.9-.5l-3.8-.9l-3.7-1.3M80.8 484l-3.3-4.4l-2.8-4.8l-2.2-4.9l-1.3-4.2l-.9-4.4l-.3-4.5l.2-4.6l1-4.3l1.6-4.1l2.1-3.8l2.9-3.5l2.8-2.4l3.9-2.7l4.4-2l4.7-1.4l4.9-.8l5-.1l5 .5l5 1.2l4.8 1.7l4.6 2.3l4.3 2.8l4 3.3l3.6 3.7l3.2 4l2.6 4.4l2.2 4.7l1.6 4.9l1 4.9l.3 5.1l-.2 4.9l-.6 3.3"/>
<path fill="none" stroke="#000" stroke-opacity="0.9" stroke-width="1.5" stroke-linejoin="round" d="M95.1 478.8l1.9-.2l1.9-.6l1.3-.8l.9-1.2l.3-1.6l-.4-1.4l-1.3-1.2l-1.4-.4l-.9 .1l-1 .4l-1.4 1.5l-.8 2.6l-.2 2.8M92.2 410.9l-.8 .7l-.9 1.5l-.1 .6l.3 .7l.8 .7l1.4 .6l2.5 .7l13.4 2.9l5.6 1.8l3.5 1.5l5.2 2.5l5 3l4.6 3.5l2.9 2.5l2.7 2.7l3.8 4.4l3.4 4.7l2.9 5l1.6 3.5l2.1 5.4l1.7 5.6l1.2 4.9M156.7 478.5l.1 .3M94 478.8l1.1 0M156.8 478.8l.9 2.5l.7 .8l.7 .3l1.4-.4l1.4-1.4M70.6 483.5l-5.4-4.7l-2-1.3l-1.4-.4l-1.4 .1l-1.1 1.1l-.5 1.1l-.4 2.2l0 2.3l.5 3.4l1 3.2l1.3 3.2l1.7 3l1.9 2.8l4.4 5.1l3.4 2.9l3.8 2.6l4 2.1l3.2 1.1l4.5 1l3.4 .1l2.6-.6l1-.7l.5-.7l.1-1.4l-.4-1.4l-2.4-3.4l-6.3-6.7l-10-10.1"/>
<text x="42.4" y="444.2" font-size="5.2" text-anchor="middle" dy="0.36em" transform="rotate(-80.0 42.4 444.2)">0.00000</text>
<text x="90.5" y="493.3" font-size="5.2" text-anchor="middle" dy="0.36em" transform="rotate(-323.1 90.5 493.3)">0.00000</text>
<text x="73.6" y="486.4" font-size="5.2" text-anchor="middle" dy="0.36em" transform="rotate(-315.9 73.6 486.4)">1</text>
<text x="155.8" y="474.4" font-size="5.2" text-anchor="middle" dy="0.36em" transform="rotate(-281.2 155.8 474.4)">1</text>
<text x="125.7" y="474.5" font-size="5.2" text-anchor="middle" dy="0.36em" transform="rotate(-282.9 125.7 474.5)">−1</text>
<text x="86.5" y="542.0" font-size="5.2" text-anchor="middle" dy="0.36em" transform="rotate(-335.7 86.5 542.0)">−1</text>
</g>
<text x="93.5" y="392.2" font-size="12.7" text-anchor="middle">Poisson's Ratio ν12</text>
<rect x="171.8" y="533.20" width="6.6" height="13.90" fill="#4961d2"/>
<rect x="171.8" y="519.60" width="6.6" height="13.90" fill="#6a8bef"/>
<rect x="171.8" y="506.00" width="6.6" height="13.90" fill="#8db0fe"/>
<rect x="171.8" y="492.40" width="6.6" height="13.90" fill="#afcafc"/>
<rect x="171.8" y="478.80" width="6.6" height="13.90" fill="#cfdaea"/>
<rect x="171.8" y="465.20" width="6.6" height="13.90" fill="#e9d5cb"/>
<rect x="171.8" y="451.60" width="6.6" height="13.90" fill="#f6bda2"/>
<rect x="171.8" y="438.00" width="6.6" height="13.90" fill="#f4987a"/>
<rect x="171.8" y="424.40" width="6.6" height="13.90" fill="#e36c55"/>
<rect x="171.8" y="410.80" width="6.6" height="13.90" fill="#c53334"/>
<line x1="178.4" x2="181" y1="533.20" y2="533.20" stroke="#555" stroke-width="0.8"/>
<text x="183.4" y="534.00" font-size="10.35" dy="0.36em">−1.2</text>
<line x1="178.4" x2="181" y1="506.00" y2="506.00" stroke="#555" stroke-width="0.8"/>
<text x="183.4" y="506.80" font-size="10.35" dy="0.36em">−0.6</text>
<line x1="178.4" x2="181" y1="478.80" y2="478.80" stroke="#555" stroke-width="0.8"/>
<text x="183.4" y="479.60" font-size="10.35" dy="0.36em">0.0</text>
<line x1="178.4" x2="181" y1="451.60" y2="451.60" stroke="#555" stroke-width="0.8"/>
<text x="183.4" y="452.40" font-size="10.35" dy="0.36em">0.6</text>
<line x1="178.4" x2="181" y1="424.40" y2="424.40" stroke="#555" stroke-width="0.8"/>
<text x="183.4" y="425.20" font-size="10.35" dy="0.36em">1.2</text>
<text x="178.9" y="408.3" font-size="10.35" text-anchor="end">1e−5</text>
<text x="407.9" y="477.8" font-size="10.35" text-anchor="middle" dy="0.36em">0°</text>
<text x="385.2" y="422.9" font-size="10.35" text-anchor="middle" dy="0.36em">45°</text>
<text x="330.3" y="400.2" font-size="10.35" text-anchor="middle" dy="0.36em">90°</text>
<text x="275.4" y="422.9" font-size="10.35" text-anchor="middle" dy="0.36em">135°</text>
<text x="252.7" y="477.8" font-size="10.35" text-anchor="middle" dy="0.36em">180°</text>
<text x="275.4" y="532.7" font-size="10.35" text-anchor="middle" dy="0.36em">225°</text>
<text x="330.3" y="555.4" font-size="10.35" text-anchor="middle" dy="0.36em">270°</text>
<text x="385.2" y="532.7" font-size="10.35" text-anchor="middle" dy="0.36em">315°</text>
<text x="393.8" y="447.8" font-size="10.35" text-anchor="middle" dy="0.36em">3</text>
<mask id="c7"><circle cx="330.3" cy="478.8" r="67.9" fill="#fff"/></mask>
<g mask="url(#c7)">
<circle cx="330.3" cy="478.8" r="68.9" fill="#4961d2"/>
<path fill="#6a8bef" fill-rule="nonzero" d="M330.3 478.8l70.5 4.2l-.4-12.5l-2.5-12.2l-4.7-11.6l-6.3-10.1l-4.1-5.1l-5.1-5l-5.5-4.5l-5.4-3.7l-6.3-3.4l-6.6-2.7l-6.3-1.9l-7-1.4l-6.5-.6l-7.2 0l-7.1 .7l-6.4 1.2l-6.9 2.1l-6 2.5l-6.3 3.3l-6 4l-5.5 4.5l-4.6 4.7l-4.2 5l-4 5.9l-3.4 6.3l-2.7 6.6l-2.1 6.9l-1.2 6.4l-.7 7.1l0 6.6l.7 7.1l1.4 7l2.1 6.8l2.5 6.1l3.1 5.7l3.9 6l4.2 5.1l5 5.1l5 4.1l5.9 4.1l5.8 3.1l6.6 2.8l6.8 2.1l7 1.4l7.1 .7l7.2 0l7.1-.7l6.4-1.3l6.8-2.1l6.1-2.5l5.7-3.1l6-4l6.4-5.3l6.1-6.5l5.3-7.2l4.3-7.9l3.2-8.3l2.2-8.6l1.1-8.9l0-8.3l-70.5 4.2zM362.5 472.9l-2.3-1.4l-5.6-8.7l-4.3-4.9l-4.2-3.5l-9.1-6.1l-.8-1.7l1-1.8l1.8-1.1l2.9-.7l6.5 .7l6.1 2.8l5.5 4.6l4.1 6.2l1.9 6.6l.1 3.3l-.7 2.9l-1.1 1.8l-1.8 1zM268.4 490.4l3.1 3l10.3 14.2l8 9.3l10.5 9.5l16.3 11.9l2.1 2.4l-.3 1.5l-2.8 .7l-4.2-.4l-5.2-1.3l-5.2-2.1l-9.8-5.7l-9.1-7.7l-7.7-9.7l-3.2-5.4l-2.3-5.2l-1.9-5.9l-.8-5l.6-3.5l.6-.6l1 0z"/>
<path fill="#8db0fe" fill-rule="nonzero" d="M330.3 478.8l26.8 1.6l-1.2-7.3l-1.5-4.6l-2.5-4.7l-3.3-3.9l-3.4-2.8l-4.1-2.2l-4.8-1.6l-8.4-1.6l-1.5-.7l-.9-1.1l-.3-1.5l.5-2l2.6-3.7l4.4-2.8l5.3-1.4l3.7-.1l3.9 .4l7.6 2.7l6.8 4.5l5.7 6.5l3.6 7.2l1 4l.5 3.9l-.2 3.7l-.9 3.8l-1.4 3.1l-2.1 2.8l34.6 2l.1-7.1l-.6-6.5l-2.3-10.5l-3.5-9.5l-4.9-8.9l-6.4-8.5l-7.7-7.5l-8.2-5.9l-9-4.6l-10.1-3.5l-10-1.9l-10.7-.4l-10.1 1.2l-10.3 2.7l-9.3 4l-9.1 5.6l-7.7 6.6l-7.1 8l-4.9 7.5l-4.2 8.6l-2.8 8.4l-1.8 9.2l1.8-2.4l1.3-.1l1.8 1.6l2.4 4.4l7.5 16.9l4.7 8.8l6.2 9.1l7.4 8.4l8.2 7l9.1 6.1l8 4.3l17 7.5l4.4 2.4l1.6 1.8l-.1 1.3l-2.4 1.8l.9-.2l6.4-1.1l6.3-1.8l6.1-2.4l5.9-2.9l5.6-3.5l5.2-3.9l4.8-4.5l4.4-4.8l4-5.2l3.4-5.6l2.9-5.9l2.5-6.7l1.7-6.3l1.2-6.5l.5-6.5l-.1-6.5l-31.6 1.9l-1.8 3.1l-2.1 2.2l-2.1 1.4l-2.5 .7l-1.5-.3l-1.3-1.1l-1.3-5.3l-26.3 1.6l.3 2.9l-.5 .9l-3.6-3.6l.9-.5l2.9 .3z"/>
<path fill="#afcafc" fill-rule="nonzero" d="M330.3 478.8l22.2 1.3l.7-3.8l-.6-5.7l-2.4-5.6l-3.9-4.4l-5-3.1l-5.1-1.4l-5.3 0l-5.5 1.9l-5.8 4.2l-.8 0l-.9-1l-1-3.4l-.1-4.4l.8-4.2l1.5-3.8l2.4-3.4l3.2-2.9l3.8-2.3l4.1-1.4l4.2-.8l4.7 0l4.2 .5l4.6 1.3l4.4 1.9l4.1 2.5l3.8 3l3.3 3.5l2.9 3.8l2.4 4.2l1.8 4.4l1.1 4.6l.5 4.7l-.2 4.2l-.9 4.2l-1.6 3.9l28.9 1.7l-.2-11.3l-1.9-10.5l-1.9-6.3l-2.8-6.6l-3.4-6.3l-3.7-5.4l-4.5-5.5l-5.1-5l-5.1-4.1l-6-4l-6.3-3.3l-6.6-2.7l-6.3-1.8l-7-1.3l-7.1-.7l-6.6 .1l-6.5 .7l-7 1.4l-7.4 2.3l-6.5 2.9l-6.3 3.5l-6.3 4.5l-5.3 4.7l-5.3 5.7l-4.2 5.7l-3.7 6.2l1.5 12.9l2.5 12.8l3.3 11.2l3.8 9.5l4.9 9.1l5.5 7.7l6.4 7l7.3 6l5.8 3.9l6.3 3.4l13.5 5.4l16.3 4.1l18.3 2.4l8.5-5.3l7.8-6.5l6.7-7.6l5.6-8.4l4.3-9.1l3-9.7l1.6-10l.1-10.1l-27 1.6l-2.6 6.4l-4.2 5l-5.4 3.3l-6.4 1.5l-5.4-.5l-2.3-1l-.7-.8l4.6-7l1.7-5.7l-22.8 1.4l2.3 4l4.2 5.2l.1 .9l-1.2 .4l-3.1-.6l-3.1-1.7l-6.7-6.6l-1.9-2.7l-1.1-3.9l.2-1.3l.6-.3l5.9 4.4l3.8 2.2z"/>
<path fill="#cfdaea" fill-rule="nonzero" d="M330.3 478.8l19.1 1.1l1.3-4l-.1-4.6l-1.5-4.4l-2.9-3.9l-4.6-3.3l-5.4-1.4l-5.2 .6l-4.1 2.5l-1.4 1.8l-1 2.2l-.2 4.7l2 4.7l4 4zM376.3 481.6l24.5 1.4l-.1-10.1l-1.6-10l-2.1-7.4l-3.3-7.7l-3.7-6.8l-4.5-6.3l-5.6-6.2l-5.8-5.1l-6.3-4.5l-6.8-3.7l-10.5-4.1l-11.7-2.4l-11.9-.4l-11.2 1.4l-11.4 3.4l-10.1 5l-9.7 7l-8.4 8.4l-1.3 5.7l-.9 7.4l0 14.8l2.3 15.3l4.4 13.8l6.1 11.8l7.6 9.8l9.4 8.2l10.8 6.4l6.8 2.9l7.3 2.3l8.4 1.9l8 1.1l8.6 .6l7.6-.2l7.3-.8l7.1-1.5l5.1-4.8l4.8-5.3l4.1-5.8l3.6-6.2l2.9-6.5l2.3-6.8l1.4-6.4l.9-7.1l.1-9.5l-23 1.3l-2.1 7.1l-3.6 5.8l-4.9 4.7l-6 3.1l-6.8 1.5l-7.4-.2l-8-1.9l-7.3-3.3l-5.5-4.3l-8.5-9.1l-3.8-7l-2.4-8.1l-.5-8.7l1.5-7.6l3.5-6.5l5.3-5.2l4.5-2.7l5-1.7l5.3-.9l5.9 0l5.4 1l5.6 1.8l5.3 2.7l4.9 3.5l4.4 4.1l3.8 4.7l3 5.2l2.2 5.6l1.3 5.7l.4 5.5l-.5 5.7l-1.5 5.2zM330.3 478.8l2.5 2.8l2.8 1.9l3.1 1.2l3 .3l2.8-.7l2.5-1.5l2-2.3l1.3-2.9l-20 1.2z"/>
<path fill="#e9d5cb" fill-rule="nonzero" d="M330.3 478.8l16.3 1l1.8-3.4l.4-4.2l-1.3-4.3l-2.6-3.7l-3.8-2.7l-4.4-1.2l-4.4 .6l-3.6 2.2l-2 3.3l-.5 4.2l1.3 4.2l2.8 4zM380.4 481.8l20.4 1.2l-.1-9.5l-1.3-9.4l-1.9-6.9l-2.5-6.7l-3.5-6.9l-3.9-6l-4.4-5.6l-5-5.1l-5.5-4.6l-5.9-4l-9.6-4.8l-10.2-3.3l-11.2-1.8l-10.7 0l-11.1 1.7l-10.3 3.3l-9.5 4.7l-9.2 6.5l-2.6 6l-2.1 6.4l-1.6 6.9l-.9 7.2l-.1 15.3l.8 7.4l1.4 7.3l1.9 6.6l2.5 6.2l3 5.8l3.2 5l4 5l4.2 4.3l4.6 3.8l5.4 3.6l7.2 3.7l7.8 2.9l8.5 2.1l9 1.2l9.3 .4l9.5-.6l9.1-1.5l8.2-2.4l7.2-3.1l6.7-9.6l3.1-5.8l2.7-6.6l2-6.8l1.3-7.1l.6-6.5l-.1-7.1l-19.1 1.1l-2.1 8.5l-1.8 3.9l-2.5 3.7l-5.8 5.8l-3.5 2.1l-3.8 1.6l-8.2 1.5l-8.6-.7l-9.1-3l-8.6-5.1l-8-7.1l-6.5-8.3l-4.5-9.2l-2.2-9.3l.2-8.6l1-4.3l1.5-3.8l2.2-3.5l2.6-3.3l3.3-2.8l3.8-2.5l5.1-2.3l5.5-1.4l5.8-.5l6.2 .4l5.8 1.2l6 2.2l5.6 3l5.2 3.9l4.6 4.5l3.6 4.7l3.2 5.6l2.2 5.5l1.6 6.1l.5 5.8l-.3 6.2l-1.3 5.6zM330.3 478.8l4.6 3.1l2.7 .8l2.5 .2l2.5-.5l2.1-1l1.8-1.5l1.4-2.2l-17.6 1.1z"/>
<path fill="#f6bda2" fill-rule="nonzero" d="M330.3 478.8l13.4 .8l.8-.6l1.9-3.1l.5-3.5l-1-3.7l-2.2-3.2l-3.3-2.3l-3.6-1l-3.7 .6l-3 1.8l-1.9 3l-.5 3.6l.7 3.9l1.9 3.7zM384.6 482.1l16.2 .9l-.1-9.5l-1.5-10l-1.7-6.3l-2.3-6.2l-5.9-11l-3.8-5.3l-4.3-4.9l-4.8-4.5l-5.2-4l-8.6-5.3l-9.3-4l-9.8-2.6l-10-1.1l-10.2 .2l-9.9 1.7l-9.7 3.2l-8.8 4.3l-3.6 5.5l-3 6l-2.4 6.4l-2.1 7.5l-1.6 8.2l-.9 8l-.3 7.4l.4 7.3l1 6.6l1.5 6.3l2.1 6l2.8 5.6l3.2 5.2l3.9 4.9l4.3 4.3l4.8 3.9l6.2 3.9l7.2 3.2l7.2 2.2l7.9 1.4l8.8 .6l8.6-.4l8.9-1.1l9.3-2.1l12.1-4.3l10.2-6l5.2-11l3.2-12l1-8.3l0-8.3l-15.2 .9l-.8 5.5l-1.5 5.4l-2.3 5l-2.9 4.6l-3.6 4l-3.8 3l-4.6 2.5l-4.5 1.5l-4.7 .7l-4.5 0l-4.8-.7l-4.9-1.3l-10.3-4.7l-10.6-7.1l-3.9-3.6l-3.5-4.1l-7.4-11.5l-4.1-10.1l-1.1-4.7l-.5-4.9l.3-4.6l.9-4.2l1.5-4.1l2.2-3.8l3-3.8l3.3-3l3.7-2.6l4.4-2.3l5.7-1.9l6.5-1.2l6.1-.2l6.7 .8l6.6 1.6l5.8 2.4l6 3.4l5 3.9l4.5 4.5l3.9 5l3.2 5.5l2.7 6.3l1.7 6.5l.7 6.2l-.1 6.7l-1 6zM330.3 478.8l4.1 2l4.3 .6l3.7-1l3-2.5l-15.1 .9z"/>
<path fill="#f4987a" fill-rule="nonzero" d="M330.3 478.8l10.3 .6l2.2-1.5l1.7-2.6l.4-2.9l-.7-3l-1.8-2.6l-2.6-1.8l-3-.8l-2.9 .4l-2.6 1.6l-1.6 2.4l-.8 3l.2 3.5l1.2 3.7zM389 482.3l11.8 .7l-.2-10.7l-1.8-10.5l-3.6-10.8l-5.6-10.5l-6.8-9l-8.2-7.7l-7.8-5.5l-8.5-4.3l-9-3.2l-9.9-2l-10.1-.6l-10.7 1l-12.3 3.2l-2 2.2l-3.7 5.3l-2.4 5.3l-1.1 4.7l.1 1.7l.5 .8l2-.4l10.2-6.1l7.5-3.4l8.6-2.2l8.5-.9l9.6 .7l8.9 2.2l8.5 3.7l7.8 5.2l5 4.5l4.7 5.5l3.9 6.1l3.1 6.6l2.2 6.8l1.2 7.1l.3 7l-.7 7.5zM292.4 452.2l-1.4-.5l-1.3 1.1l-1.7 3.2l-1.6 4.6l-1.5 9.1l.1 9.7l1.6 8.2l2.8 7.7l4 7.1l5.4 6.6l6 5.3l6.6 4.2l7.5 3.2l7.7 1.9l8.8 .8l8.3-.7l7.8-2l5.3-2.8l.7-1.3l-.9-1.1l-12.9-5.3l-9.1-4.6l-11.7-7.6l-7.5-6.4l-6.1-7.5l-7.1-11.2l-4.2-8.1l-5.6-13.6zM330.3 478.8l3.7 1.2l3.2 .2l3.1-.7l2.3-1.4l-12.3 .7zM376.6 510.9l.4 .8l2.2 .3l6.2-1.6l6.1-3.4l5.2-4.2l2.1-7l1.4-7l.7-7.1l-.1-7.1l-11.1 .6l-1 8.5l-2.3 8.5l-3 6.7l-5.9 9.8l-.9 2.2z"/>
<path fill="#e36c55" fill-rule="nonzero" d="M330.3 478.8l6.3 .2l2.5-.7l1.8-1.3l1.5-2.1l.4-2.2l-.5-2.4l-1.4-2.1l-2.1-1.4l-2.3-.5l-2.3 .4l-2 1.4l-1.4 1.9l-.7 2.5l.2 6.3zM394.7 482.7l6.1 .3l-.2-11.3l-2.1-11.1l-2.8-8.5l-4.2-8.5l-5.3-7.9l-5.9-6.7l-6.2-5.6l-6.8-4.8l-6.8-3.7l-7.8-3.1l-7.4-2l-8.3-1.3l-8.3-.3l-7.9 .6l-1.8 3l.3 1l1 .8l3.1 .7l17.3 1.2l12.1 2.9l6.6 2.6l6.2 3.4l5.8 4.2l4.9 4.4l4.4 4.9l3.8 5.3l3.2 5.7l2.6 6l1.9 6.3l1.3 6.3l1.2 15.2zM293.8 472.7l-1.6-.2l-1 .5l-1.6 2.5l-.8 4.9l.5 5.9l1.4 5.5l2.3 5.5l3 5.1l3.8 4.6l4 3.9l4.3 3.1l4.9 2.7l4.9 1.9l5.5 1.3l4.9 .4l4.5-.6l3-1.4l.7-.9l.1-1.5l-1.7-2.7l-21-17.3l-5-5.6l-10.8-13.8l-4.3-3.8zM330.3 478.8l4.9 .4l3.9-.9l-8.8 .5zM395.8 489.3l1.5 .8l3-1.8l.6-6.6l-.1-7.1l-6.5 .4l.6 11l.9 3.3z"/>
<path fill="#c53334" fill-rule="nonzero" d="M333.8 478.1l3.6-1.1l2.4-2.3l.4-1.6l-.2-1.5l-.8-1.4l-1.3-.9l-1.8-.4l-1.7 .4l-1.4 1.1l-1.2 1.7l-1.1 6.1l3.1-.1zM399.2 464.1l-2.2-8.6l-4.3-9.8l-5.4-8.6l-7-8.1l-8.1-7l-8.5-5.4l-9.3-4.2l-10-2.8l13.7 6.2l7.2 3.9l7.1 4.9l6.5 5.8l5.7 6.5l4.9 7.1l3.9 7.2l5.8 12.9zM297.2 485.2l-1.5 0l-1.2 1.4l-.3 2.6l.3 3l2.6 6.7l4.6 6.4l5.4 4.7l6 3.4l6.3 1.5l2.3-.1l1.8-.8l.5-1.1l-.1-1l-2.3-3.6l-20.1-20.1l-4.3-3z"/>
<path fill="none" stroke="#000" stroke-opacity="0.9" stroke-width="1.5" stroke-linejoin="round" stroke-dasharray="4.4 2" d="M356.3 470.7l-1.5-3.5l-1.7-3l-2.5-3.4l-2.5-2.4l-2.7-2.1l-3.7-2.1l-3.1-1.4l-6.7-2.1l-1.6-.7l-1.4-1.3l-.2-.7l0-1.4l.5-1.4l1-1.4l2.6-2l2-.9l2-.6l4.6-.6l4 .4l5.1 1.4l4.8 2.5l4.4 3.3l3.7 4l2.2 3.3l2.3 4.9l1.1 3.9l.4 4.8l-.6 4.1l-1.5 4l-2 2.5M262.5 475.9l.7-.6l.7-.1l.6 .2l2 1.9l2.8 4.7l7.1 13.5l3.7 6.1l5 7l5.6 6.5l6.1 5.9l6.8 5.3l7.3 4.8l8.5 4.7M328.5 540.5l3.3 2.1l1.5 1.3l.6 1.3l-.1 .7l-.6 .7M330.3 478.8l-.1 1.5l-.2 .5l-.3 .1l-1.3-1.4l-.2-.3l.7-.4l1.4 0M365.3 478.8l-1.4 1.1l-2.1 .6l-1.4-.3l-1.3-1.4"/>
<path fill="none" stroke="#000" stroke-opacity="0.9" stroke-width="1.15" stroke-linejoin="round" d="M347.3 478.8l1.2-2.9l.3-3.1l-.6-3.2l-1.3-2.9l-2.5-3l-2.7-1.9l-3-1.1l-3.2-.4l-3.1 .5l-2.8 1.5l-1.8 1.8l-1.3 3l-.3 3l.5 2.9l1.4 3.1l1.7 2.2l.5 .2l0 .3M282.3 430.8l-.1 .2M277.5 457.3l.3 10.6l1.1 8.6l2.3 9.3l1.6 4.5l1.8 4.2l2.1 4.1l2.3 3.9l4.5 6l5.1 5.4l3.4 2.9l3.7 2.7l3.8 2.4l4 2.1l4.2 1.9l4.3 1.6l7.9 2.1l10 1.6l5.4 .4l5.6 .1l9.7-.7l8.7-1.5l4.3-1.1l4.7-1.6M330.3 478.8l0 .3l4.5 2.8l2.6 .8l2.3 .2l2.3-.3l2-.7l2-1.5l1.3-1.6M381.2 478.8l-1 3.7l-1.6 4l-1.5 2.8l-1.8 2.6l-2.1 2.4l-2.3 2.2l-2.5 1.8l-2.7 1.6l-2.8 1.2l-2.9 .9l-3.1 .6l-4.1 .2l-3-.1l-3.8-.5l-3.4-.8l-3.4-1.1M317.6 484.6l-3.4-4.5l-2.8-4.6l-2.2-4.7l-1.6-4.8l-1-4.7l-.3-4.5l.2-4.6l1-4.3l1.6-4.1l2.1-3.8l2.9-3.5l2.8-2.4l3.9-2.7l4.4-2l4.7-1.4l4.9-.8l5-.1l5 .5l5 1.2l4.8 1.7l4.6 2.3l4.3 2.8l4 3.3l3.6 3.7l3.2 4l2.6 4.4l2.2 4.7l1.6 4.9l1 4.9l.3 5.1l-.2 4.9l-.6 3.3"/>
<path fill="none" stroke="#000" stroke-opacity="0.9" stroke-width="1.5" stroke-linejoin="round" d="M335.4 478.8l2.4-.6l2.2-1.3l1.4-1.7l.6-2.1l-.4-2.5l-1.3-1.9l-1.9-1.2l-2.2-.4l-1.4 .2l-1.7 .9l-1.1 1.1l-.8 1.3l-.9 3.4l0 4.8M327.4 411l1.5 .6M337.1 413.2l7.1 1.3l6 1.6l5.5 1.9l4.2 1.9l5.5 3l5.2 3.5l4.8 4l2.9 3l2.8 3.1l3.7 5l3.2 5.4l2.7 5.6l1.5 3.9l1.8 6l1.3 6l1.8 10.4M330.3 478.8l5.1 0M397.1 478.8l1 2.9M302.1 483.8l-4.7-5.1l-2-1.4l-1.4-.5l-1.4 .2l-.7 .6l-.7 1.2l-.6 2.2l-.2 2.2l.2 3.4l.5 3l1.1 3.7l2.7 5.8l3.6 5.3l4.5 4.7l4 3.2l4.4 2.6l4.7 2.1l5 1.3l5.1 .4l1.9-.2l1.9-.5l1.5-.8l.5-.7l.3-.7l-.2-1.4l-.7-1.3l-1.7-2.1l-3.2-3l-11.7-9.7l-3.9-3.9l-3.6-4.1"/>
<text x="278.7" y="444.0" font-size="5.2" text-anchor="middle" dy="0.36em" transform="rotate(-79.9 278.7 444.0)">0.00000</text>
<text x="327.4" y="493.8" font-size="5.2" text-anchor="middle" dy="0.36em" transform="rotate(-324.0 327.4 493.8)">0.00000</text>
<text x="304.7" y="487.1" font-size="5.2" text-anchor="middle" dy="0.36em" transform="rotate(-308.8 304.7 487.1)">1</text>
<text x="333.0" y="412.5" font-size="5.2" text-anchor="middle" dy="0.36em" transform="rotate(-350.2 333.0 412.5)">1</text>
<text x="357.8" y="475.6" font-size="5.2" text-anchor="middle" dy="0.36em" transform="rotate(-288.2 357.8 475.6)">−1</text>
<text x="323.9" y="538.1" font-size="5.2" text-anchor="middle" dy="0.36em" transform="rotate(-332.9 323.9 538.1)">−1</text>
</g>
<text x="329.8" y="392.2" font-size="12.7" text-anchor="middle">Poisson's Ratio ν21</text>
<rect x="408.1" y="533.20" width="6.6" height="13.90" fill="#4961d2"/>
<rect x="408.1" y="519.60" width="6.6" height="13.90" fill="#6a8bef"/>
<rect x="408.1" y="506.00" width="6.6" height="13.90" fill="#8db0fe"/>
<rect x="408.1" y="492.40" width="6.6" height="13.90" fill="#afcafc"/>
<rect x="408.1" y="478.80" width="6.6" height="13.90" fill="#cfdaea"/>
<rect x="408.1" y="465.20" width="6.6" height="13.90" fill="#e9d5cb"/>
<rect x="408.1" y="451.60" width="6.6" height="13.90" fill="#f6bda2"/>
<rect x="408.1" y="438.00" width="6.6" height="13.90" fill="#f4987a"/>
<rect x="408.1" y="424.40" width="6.6" height="13.90" fill="#e36c55"/>
<rect x="408.1" y="410.80" width="6.6" height="13.90" fill="#c53334"/>
<line x1="414.7" x2="417.3" y1="533.20" y2="533.20" stroke="#555" stroke-width="0.8"/>
<text x="419.7" y="534.00" font-size="10.35" dy="0.36em">−1.2</text>
<line x1="414.7" x2="417.3" y1="506.00" y2="506.00" stroke="#555" stroke-width="0.8"/>
<text x="419.7" y="506.80" font-size="10.35" dy="0.36em">−0.6</text>
<line x1="414.7" x2="417.3" y1="478.80" y2="478.80" stroke="#555" stroke-width="0.8"/>
<text x="419.7" y="479.60" font-size="10.35" dy="0.36em">0.0</text>
<line x1="414.7" x2="417.3" y1="451.60" y2="451.60" stroke="#555" stroke-width="0.8"/>
<text x="419.7" y="452.40" font-size="10.35" dy="0.36em">0.6</text>
<line x1="414.7" x2="417.3" y1="424.40" y2="424.40" stroke="#555" stroke-width="0.8"/>
<text x="419.7" y="425.20" font-size="10.35" dy="0.36em">1.2</text>
<text x="415.2" y="408.3" font-size="10.35" text-anchor="end">1e−5</text>
<text x="644.2" y="477.8" font-size="10.35" text-anchor="middle" dy="0.36em">0°</text>
<text x="621.5" y="422.9" font-size="10.35" text-anchor="middle" dy="0.36em">45°</text>
<text x="566.6" y="400.2" font-size="10.35" text-anchor="middle" dy="0.36em">90°</text>
<text x="511.7" y="422.9" font-size="10.35" text-anchor="middle" dy="0.36em">135°</text>
<text x="489" y="477.8" font-size="10.35" text-anchor="middle" dy="0.36em">180°</text>
<text x="511.7" y="532.7" font-size="10.35" text-anchor="middle" dy="0.36em">225°</text>
<text x="566.6" y="555.4" font-size="10.35" text-anchor="middle" dy="0.36em">270°</text>
<text x="621.5" y="532.7" font-size="10.35" text-anchor="middle" dy="0.36em">315°</text>
<text x="630.1" y="447.8" font-size="10.35" text-anchor="middle" dy="0.36em">3</text>
<mask id="c8"><circle cx="566.6" cy="478.8" r="67.9" fill="#fff"/></mask>
<g mask="url(#c8)">
<circle cx="566.6" cy="478.8" r="68.9" fill="#4961d2"/>
<path fill="#6a8bef" fill-rule="nonzero" d="M566.6 478.8l70.5 4.2l.1-7.1l-.8-7.7l-1.6-7.6l-2.2-6.8l-2.8-6.5l-3.9-6.8l-4.5-6.2l-4.8-5.3l-5.3-4.8l-5.2-4l-6.1-3.6l-6.5-3.1l-6.7-2.4l-6.4-1.6l-6.5-.9l-7.1-.4l-7.2 .3l-6.4 1l-6.4 1.5l-6.8 2.4l-6.4 3l-6.2 3.6l-5.2 3.9l-5.4 4.8l-4.8 5.3l-3.9 5.2l-3.4 5.6l-3.1 6.5l-2.5 6.7l-1.7 6.9l-1.1 7.1l-.3 6.5l.3 6.5l1 7.1l1.5 6.4l2.3 6.7l3 6.5l3.7 6.2l4.2 5.7l4.4 4.9l7.2 6.3l7.9 5.3l8.5 4.1l9.1 3l9.4 1.7l9.5 .5l9.5-.8l9.1-2.1l-5.5-.6l-4.8-1.4l-3.5-2l-2-2.3l-1.4-4.3l-.5-8.8l.1-4.9l1.1-3l2.2-1.8l3.2-.7l16.2 .7l9.2-.8l7.9-2.3l7-3.8l4.7-3.7l4.3-4.3l11.9-15.4l.4-12.5l-70.5 4.2zM566 467.1l.3 11.6l-3.3-1.1l-2.9-2.2l-2.5-3.3l-1.9-4.3l-1-5.6l.5-5l2.1-4.4l1.5-1.5l1.8-.9l1.5-.2l1.2 .5l1.6 2.3l.6 3.8l.5 10.3z"/>
<path fill="#8db0fe" fill-rule="nonzero" d="M566.6 478.8l62.8 3.8l4.2-10.9l2.6-4.5l-.9-4.9l-2.9-9.1l-4-8.6l-5.5-8.5l-6.3-7.1l-5.3-4.8l-5.2-4l-6.1-3.6l-6.5-3.1l-6.7-2.4l-6.4-1.6l-6.5-.9l-7.1-.4l-7.2 .3l-6.4 1l-6.4 1.5l-6.8 2.4l-6.4 3l-6.2 3.6l-5.2 3.9l-5.4 4.8l-4.8 5.3l-3.9 5.2l-3.4 5.6l-3.1 6.5l-2.5 6.7l-1.7 6.9l-1.1 7.1l-.3 6.5l.3 6.5l1 7.1l1.5 6.4l2.3 6.7l3 6.5l3.7 6.2l4.2 5.7l4.4 4.9l4.8 4.4l5.7 4.3l5.6 3.4l5.9 2.9l6.1 2.4l6.3 1.7l6.5 1.2l6.8 .6l-3.2-1.6l-3.5-2.7l-2-2.8l-.6-2.6l.3-3.4l2.4-9l1.6-11.1l1.3-3.3l1.6-2l2.6-1.4l3.4-.4l18.7 3l5.9 .2l5.4-.5l5.5-1.4l4.9-2.1l4.6-2.8l4.6-3.9l4.3-5l3.7-5.8l3-6.3l3.8-9.7l-67.8 4.1l-4.5-1l-3.9-3.3l-3.2-5.3l-1.8-6.2l-.1-6l1.3-5.6l3-4.9l4.3-3.6l5.1-1.7l4.4 .5l1.7 1.1l1.1 1.4l.6 3.8l-6 30.7z"/>
<path fill="#afcafc" fill-rule="nonzero" d="M566.6 478.8l57.8 3.5l2.2-8.5l2.6-15.8l1-3.1l1.7-3l-2.9-6.2l-3.7-6.2l-3.9-5.2l-4.8-5.3l-5.3-4.8l-5.2-4l-6.1-3.6l-6.5-3.1l-6.7-2.4l-6.4-1.6l-6.5-.9l-7.1-.4l-7.2 .3l-6.4 1l-6.4 1.5l-6.8 2.4l-6.4 3l-6.2 3.6l-5.2 3.9l-5.4 4.8l-4.8 5.3l-3.9 5.2l-3.4 5.6l-3.1 6.5l-2.5 6.7l-1.7 6.9l-1.1 7.1l-.3 6.5l.3 6.5l1 7.1l1.5 6.4l2.3 6.7l3 6.5l3.7 6.2l4.2 5.7l4.4 4.9l6.2 5.5l7.3 5.2l7.4 3.9l8.3 3.1l-1.8-2l-1.6-3.1l-.4-2.8l.3-2.5l6.2-11.7l4.8-13.9l2.1-3.3l2.5-2.2l2.8-1.3l3.5-.2l18.5 4.8l5.7 .6l5.8-.1l5.6-1l5.5-2l4.8-2.8l4.3-3.5l4-4.7l3.6-5.9l2.6-6.4l1.9-7l-59.7 3.6l-5.3 1.1l-2.5-.5l-2.2-1.2l-2.4-2.2l-1.9-2.7l-3.2-7l-1.1-7.5l.7-6.8l2.8-6.4l4.6-5.2l6-3.5l6.8-1.3l3.3 .2l3.1 .9l2.8 1.7l1.7 2.1l.8 2.5l-.1 2.9l-1.3 3.7l-4.7 9.7l-7.9 19.5z"/>
<path fill="#cfdaea" fill-rule="nonzero" d="M566.6 478.8l53.8 3.2l1.4-5.9l.7-6.8l-.7-21.9l1.2-4.6l2.2-3.4l-4.2-5.6l-4.4-4.8l-5.3-4.8l-5.2-4l-6.1-3.6l-6.5-3.1l-6.7-2.4l-6.4-1.6l-6.5-.9l-7.1-.4l-7.2 .3l-6.4 1l-6.4 1.5l-6.8 2.4l-6.4 3l-6.2 3.6l-5.2 3.9l-5.4 4.8l-4.8 5.3l-3.9 5.2l-3.4 5.6l-3.1 6.5l-2.5 6.7l-1.7 6.9l-1.1 7.1l-.3 6.5l.3 6.5l1 7.1l1.5 6.4l2.3 6.7l3 6.5l3.7 6.2l4.2 5.7l4.4 4.9l6.2 5.5l7.2 5.1l-.1-4.5l2.2-5l8.1-10.4l9.3-14.9l4.2-4.3l3.6-2.1l2.5-.4l2.8 .4l11.7 4.7l6.3 1.9l5.1 .9l5 .2l6.1-.7l5.4-1.6l5.3-2.9l4.4-3.7l3.7-4.4l3-5.2l2.2-5.6l1.3-6l-55.3 3.3l-4.4 2.4l-3.3 .6l-2.6-.7l-2.7-2l-2.6-3.3l-2.4-4.1l-2.7-8.2l-.6-8.4l.6-4.1l1.2-3.7l1.7-3.5l2.3-3.3l2.7-2.8l3.2-2.4l3.9-2l3.8-1.3l4.4-.7l4.1-.1l4 .5l3.9 1.2l4.3 2.3l2.7 3l1.1 3.5l-.5 3.7l-2.5 4.8l-7.5 10.2l-12.1 18.4z"/>
<path fill="#e9d5cb" fill-rule="nonzero" d="M566.6 478.8l50.1 3l1.2-5.1l.4-5.8l-.3-5.3l-1.2-5.8l-1.8-5.1l-2.7-5.4l-3.1-4.5l-3.9-4.5l-38.7 38.5zM604.9 439.9l.4 .2l11.2-11.2l-9-7.6l-10.2-6.1l-10.5-4.1l-11.7-2.4l-7.7-.5l-8.3 .4l-7.7 1.2l-8 2.3l-7.7 3.2l-6.8 3.8l-6.7 4.8l-5.8 5.2l-4.7 5.3l-4.2 5.8l-3.4 5.7l-3 6.5l-2.1 6.1l-1.7 7l-1 7.1l-.3 6.5l.4 7.1l1 6.5l1.6 6.4l2.3 6.7l2.8 5.9l3.7 6.2l4.2 5.7l4.7 5.1l40.5-40.5l6.3 5.4l6.9 4.4l7.1 3l7.3 1.6l6.9 .1l6.4-1.3l6-2.7l5.2-4.2l3.2-3.9l2.6-4.4l1.8-4.9l1.1-5.6l-51.4 3.1l-9.5 9.4l-5.7-6.7l-4.4-7.3l-2.9-7.5l-1.4-7.6l0-5.2l.7-4.7l1.6-4.7l2.4-4.3l2.9-3.6l3.8-3.3l4.4-2.6l4.8-2l5.2-1.2l5.7-.4l5.4 .3l5.7 1.2l5.2 1.7l5.3 2.7l4.6 3l4.5 3.9z"/>
<path fill="#f6bda2" fill-rule="nonzero" d="M566.6 478.8l46.5 2.8l1.1-7.2l-.7-7.3l-2.1-5.3l-2.8-3.5l-3.6-1.9l-4 .1l-5.4 2.5l-10.6 7.7l-18.4 12.1zM604.7 421.3l1.3-1.1l-4.5-2.8l-6.9-3.4l-7.8-2.9l-12.3-2.5l-6.5-.4l-6.6 .2l-11.7 1.8l-11.8 4.1l-10.5 5.7l-9.7 7.9l-7.9 8.9l-6.2 10.1l-4.5 11.1l-2.5 11.6l-.6 11.9l1.5 11.8l3.4 11.4l5.4 10.9l4.5 .1l5-2.2l10.4-8.1l14.2-8.7l4-3.6l2.5-3.5l.9-2.7l-.1-2.9l-6.4-17.5l-1.3-6.3l-.2-5.8l.7-5.7l1.8-5.7l3-5.3l3.7-4.4l3.8-3.1l4.3-2.6l4.7-2.1l5.4-1.5l11-1.2l18.9 .9l4.4-.8l3.2-1.6zM566.3 479.2l-2.2 4.2l-.5 3.1l.9 3l2.7 3.1l5 3.4l5.8 2.5l6.2 1.4l5.9 .2l4.6-.7l4.4-1.5l3.8-2.1l3.6-3l2.8-3.4l2.4-4.1l1.6-4.6l.9-4.8l-47.6 2.9l-.3 .4z"/>
<path fill="#f4987a" fill-rule="nonzero" d="M566.6 478.8l42.5 2.6l.6-3.7l0-3.2l-1-4.3l-2-3.2l-2.9-1.9l-3.4-.3l-3.7 1.1l-10.2 4.8l-19.9 8.1zM592.6 414.1l.9-.6l-5.6-2l-12.2-2.7l-10.1-.6l-10.7 1l-9.8 2.3l-9.4 3.8l-8.8 5.1l-7.9 6.2l-7 7.4l-5.8 8.2l-4.4 8.5l-3.3 9.6l-2 9.9l-.5 10.1l.9 10.1l2.3 9.4l2 1.7l3.1 1.7l2.3 .4l2.5-.2l3.2-1.3l9-5l13-4.4l4.6-2.9l2.6-3.5l.7-4.3l-4.7-18.9l-.7-5.6l0-5.3l.7-4.8l1.2-4.3l4-7.7l3.3-3.9l3.9-3.5l4.8-3.2l4.9-2.4l10.2-3.2l17.6-3l5.2-2.1zM566.4 479.3l-.9 3.7l.3 3.1l1.5 2.9l2.6 2.6l4.1 2.6l5 2l5.1 1.1l5 .1l4.2-.7l3.9-1.3l3.5-2l3.1-2.6l2.5-3.2l1.9-3.5l1.2-3.9l.4-4l-43.2 2.6l-.2 .5z"/>
<path fill="#e36c55" fill-rule="nonzero" d="M566.6 478.8l37.5 2.2l.1-1.2l-.4-2.9l-1.3-2.3l-1.7-1.3l-2.5-.5l-31.7 6zM578 409.3l-7.1-1l-8.9 0l-8.3 1.1l-8.6 2.1l-7.8 3l-7.9 4.3l-6.8 4.8l-6.2 5.5l-6.2 7.2l-4.9 7.5l-4 8l-2.8 8.5l-2.1 10.5l-.4 10.5l1.6 3.1l2.7 3.6l3.3 2.2l4.1 .4l9.9-2.6l11.6-1.7l2.8-1.1l2.2-1.6l1.7-2.8l.4-3.4l-2.8-17.2l-.3-9.3l1.5-8.2l3.4-7.5l5.4-7.1l7.5-6.2l7-3.8l15.7-6.3l4.3-2.5zM566.6 479.3l0 3l.7 2.6l1.6 2.4l2.3 2.3l3.4 2.1l3.6 1.5l3.8 .9l4 .4l6.9-1.2l3.1-1.3l2.8-1.9l2.3-2.4l1.6-2.5l1.1-3l.4-2.8l-.5-2.8l-37.1 2.2l0 .5z"/>
<path fill="#c53334" fill-rule="nonzero" d="M574.1 479.2l17.5 1.1l-17.5-1.1zM557.9 409l-4.7 .5l-7.5 1.9l-6.8 2.4l-5.9 2.9l-5.6 3.3l-5.7 4.3l-4.9 4.4l-4.8 5.3l-4.2 5.7l-3.7 6.2l-3 6.5l-2.2 6.4l.3 4.1l1.3 5.3l1.5 3.2l2.3 2.6l2.3 1.3l2.4 .6l10.3 .7l4.9-.4l3-1.9l1.1-2.2l.4-2.9l-.7-14.2l.3-7.6l1.3-6.5l2.2-5.8l3.8-6.4l4.9-5.9l5.5-4.8l11.9-9zM566.7 479.3l1.5 3.8l3 3.2l4.2 2.6l5.1 1.5l4.8 .3l4.5-1l3.5-2.3l1.8-3l0-1.5l-.8-1.3l-3.3-1.4l-23.9-1.3l-.4 .4z"/>
<path fill="none" stroke="#000" stroke-opacity="0.9" stroke-width="1.5" stroke-linejoin="round" stroke-dasharray="4.4 2" d="M633.6 478.8l.9-1.8M564.8 546.7l-2-1.5l-1.5-1.5l-1-1.4l-.7-2.2l-.1-3.4l1.4-8.6M561.9 517.9l.7-2.3l1.2-1.9l1.5-1.2l2.1-.9l2-.2l2.1 0l14.5 2.1l4.8 .3l3.6-.1l4.2-.5l4.4-1l3.9-1.4l3.8-1.9l3.1-2l3.1-2.3l2.8-2.7l3.5-4.2l2.5-3.6l2.1-3.6l5.8-11.7M566.6 478.8l-3.4-.3l-2.6-1l-2.5-1.9l-2.3-2.9l-1.8-3.4l-1.3-4.1l-.6-3.8l.2-4.4l.5-2.7l1.4-3.4l1.7-2.5l2-2.1l3-1.8l2.1-.7l2.2-.1l2.2 .6l1.1 .7l.9 1.4l.5 1.7l.1 1.4l-1.9 16.9M566.8 476.5l-.2 2.3"/>
<path fill="none" stroke="#000" stroke-opacity="0.9" stroke-width="1.15" stroke-linejoin="round" d="M617.5 478.8l.7-4.9l.1-5l-.6-5l-1.2-5l-1.8-4.8l-2.3-4.6l-2.8-4.3l-4.2-5.2l9.2-9.2M518.6 526.8l17.3-17.3M554.9 490.5l2.2-2.4l-4.4-5l-3.9-5.6l-3-5.8l-2-5.8M547.5 440.1l2.2-2.8l2.2-2.2l2.6-2.1l4-2.3l4.4-1.8l3.3-.9l3.2-.6l5-.3l3.6 .1l4.8 .7l3.3 .9l4.8 1.7l3.1 1.5l4.4 2.6l2.8 2l3.5 3.1M586.6 458.8l-19.5 19.5l-.5 .2l0 .3M566.6 478.8l0 .3l-.5 .2l-8.7 8.7l0 .4l3.5 3.2l3.7 2.8l4.3 2.8l3.9 1.9l4 1.6l4.3 1.3l4 .6l3.9 .2l5.3-.4l4.3-1.1l4.5-2l4.1-2.8l3.4-3.3l2.9-4.1l1.4-2.6l1.3-3l1.3-4.7"/>
<path fill="none" stroke="#000" stroke-opacity="0.9" stroke-width="1.5" stroke-linejoin="round" d="M601.5 478.8l-.5-1.1l-.9-1l-1.4-.8l-1.4-.4l-3.5 0l-9.4 1.3M576.1 477.6l-9.5 1.2M498.7 480.6l1.5 2l2.2 2l2.2 1l2.1 .4l2.7-.2l7.5-1.3l10.2-.9l3.3-1.1l2-1.6l.6-.9l.7-1.7l.3-3.1l-.2-3.2l-1.9-12.6l-.3-4.8l.1-3.6l.9-6.1l.8-2.9l1.2-3.5l1.6-3.4l2.1-3.3l3.4-4.2l2.8-2.7l3.1-2.7l3.6-2.5l3.8-2.2l5.4-2.8M568 411.1l.4-.2M566.6 478.8l.2 2.7l.8 2.7l1.6 2.4l2.5 2.3M579.2 492.5l4 .7l4.5 0l4.4-1l3.7-1.8l2.7-2.3l2-2.8l1.1-3.2l.1-2.2l-.2-1.1"/>
<text x="542.8" y="452.6" font-size="5.2" text-anchor="middle" dy="0.36em" transform="rotate(-82.3 542.8 452.6)">0.00000</text>
<text x="596.1" y="449.3" font-size="5.2" text-anchor="middle" dy="0.36em" transform="rotate(-45.0 596.1 449.3)">0.00000</text>
<text x="545.4" y="500.0" font-size="5.2" text-anchor="middle" dy="0.36em" transform="rotate(-45.0 545.4 500.0)">0.00000</text>
<text x="564.2" y="413.0" font-size="5.2" text-anchor="middle" dy="0.36em" transform="rotate(-25.1 564.2 413.0)">1</text>
<text x="580.2" y="477.2" font-size="5.2" text-anchor="middle" dy="0.36em" transform="rotate(-5.8 580.2 477.2)">1</text>
<text x="575.3" y="491.0" font-size="5.2" text-anchor="middle" dy="0.36em" transform="rotate(-334.6 575.3 491.0)">1</text>
<text x="567.5" y="471.4" font-size="5.2" text-anchor="middle" dy="0.36em" transform="rotate(-82.1 567.5 471.4)">−1</text>
<text x="561.3" y="523.0" font-size="5.2" text-anchor="middle" dy="0.36em" transform="rotate(-85.9 561.3 523.0)">−1</text>
</g>
<text x="566.1" y="392.2" font-size="12.7" text-anchor="middle">Poisson's Ratio ν13</text>
<rect x="644.4" y="533.20" width="6.6" height="13.90" fill="#4961d2"/>
<rect x="644.4" y="519.60" width="6.6" height="13.90" fill="#6a8bef"/>
<rect x="644.4" y="506.00" width="6.6" height="13.90" fill="#8db0fe"/>
<rect x="644.4" y="492.40" width="6.6" height="13.90" fill="#afcafc"/>
<rect x="644.4" y="478.80" width="6.6" height="13.90" fill="#cfdaea"/>
<rect x="644.4" y="465.20" width="6.6" height="13.90" fill="#e9d5cb"/>
<rect x="644.4" y="451.60" width="6.6" height="13.90" fill="#f6bda2"/>
<rect x="644.4" y="438.00" width="6.6" height="13.90" fill="#f4987a"/>
<rect x="644.4" y="424.40" width="6.6" height="13.90" fill="#e36c55"/>
<rect x="644.4" y="410.80" width="6.6" height="13.90" fill="#c53334"/>
<line x1="651" x2="653.6" y1="533.20" y2="533.20" stroke="#555" stroke-width="0.8"/>
<text x="656" y="534.00" font-size="10.35" dy="0.36em">−1.2</text>
<line x1="651" x2="653.6" y1="506.00" y2="506.00" stroke="#555" stroke-width="0.8"/>
<text x="656" y="506.80" font-size="10.35" dy="0.36em">−0.6</text>
<line x1="651" x2="653.6" y1="478.80" y2="478.80" stroke="#555" stroke-width="0.8"/>
<text x="656" y="479.60" font-size="10.35" dy="0.36em">0.0</text>
<line x1="651" x2="653.6" y1="451.60" y2="451.60" stroke="#555" stroke-width="0.8"/>
<text x="656" y="452.40" font-size="10.35" dy="0.36em">0.6</text>
<line x1="651" x2="653.6" y1="424.40" y2="424.40" stroke="#555" stroke-width="0.8"/>
<text x="656" y="425.20" font-size="10.35" dy="0.36em">1.2</text>
<text x="651.5" y="408.3" font-size="10.35" text-anchor="end">1e−5</text>
<text x="171.6" y="667.7" font-size="10.35" text-anchor="middle" dy="0.36em">0°</text>
<text x="148.9" y="612.8" font-size="10.35" text-anchor="middle" dy="0.36em">45°</text>
<text x="94" y="590.1" font-size="10.35" text-anchor="middle" dy="0.36em">90°</text>
<text x="39.1" y="612.8" font-size="10.35" text-anchor="middle" dy="0.36em">135°</text>
<text x="16.4" y="667.7" font-size="10.35" text-anchor="middle" dy="0.36em">180°</text>
<text x="39.1" y="722.6" font-size="10.35" text-anchor="middle" dy="0.36em">225°</text>
<text x="94" y="745.3" font-size="10.35" text-anchor="middle" dy="0.36em">270°</text>
<text x="148.9" y="722.6" font-size="10.35" text-anchor="middle" dy="0.36em">315°</text>
<text x="157.5" y="637.7" font-size="10.35" text-anchor="middle" dy="0.36em">3</text>
<mask id="c9"><circle cx="94" cy="668.7" r="67.9" fill="#fff"/></mask>
<g mask="url(#c9)">
<circle cx="94" cy="668.7" r="68.9" fill="#4961d2"/>
<path fill="#6a8bef" fill-rule="nonzero" d="M94 668.7l70.5 4.2l.1-7.1l-.6-6.5l-1.2-6.5l-2-6.9l-2.6-6.6l-3-5.8l-3.9-6l-4-5.2l-4.6-4.7l-5.4-4.7l-5.8-4.1l-5.7-3.2l-6.6-2.9l-6.2-2l-6.4-1.5l-6.5-.8l-7.1-.3l-6.5 .4l-6.5 1l-6.9 1.8l-6.8 2.4l-6.4 3.2l-5.6 3.4l-5.7 4.3l-4.8 4.4l-4.7 5.3l-4.2 5.8l-3.6 6.2l-3 6.5l-2.1 6.2l-1.7 7l-.8 6.5l-.3 6.5l.4 7.1l1.1 7.1l1.6 6.3l2.5 6.7l2.8 6l3.7 6.1l4.3 5.7l4.9 5.2l4.9 4.4l5.7 4.2l6.2 3.6l6.5 3l6.2 2.1l6.4 1.5l7 1l7.2 .3l6.5-.4l6.5-.9l6.9-1.8l6.7-2.4l6.5-3.1l6.1-3.8l5.2-3.9l5.2-4.9l4.8-5.3l3.8-5.3l3.6-6.2l5.3-15.1l2.1-7.9l.3-3.1l.2-10.7l-70.5 4.2zM99.5 651.5l-6.3 15.2l-3.6-5l-2.4-6l-.5-5.6l1-5.1l2-3.3l2.6-2.2l3-.9l3 .6l1.8 1.8l.8 2.7l-.2 3.5l-1.2 4.3zM80.3 712.5l2.6-3.3l3-2l3.7-.9l4.2 .3l6.6 2.1l22.8 9.1l3.3 2l.9 1.2l.1 1.2l-1.4 2.4l-2.8 2.4l-4.3 2.4l-5.2 2l-9.8 1.8l-4.9 0l-4.9-.6l-4.3-1.2l-3.6-1.6l-3.2-2.3l-2.4-2.7l-1.5-2.9l-.5-3.2l.3-3l1.3-3.2z"/>
<path fill="#8db0fe" fill-rule="nonzero" d="M94 668.7l64.6 3.9l1.5-8.3l1.8-14.9l-3.4-9.6l-5.2-9.4l-6.4-8.5l-7.7-7.5l-8.7-6.2l-9.6-4.8l-10.2-3.3l-10.6-1.7l-7.1-.3l-6.5 .4l-6.5 1l-6.9 1.8l-6.8 2.4l-6.4 3.2l-5.6 3.4l-5.7 4.3l-4.8 4.4l-4.7 5.3l-4.2 5.8l-3.6 6.2l-3 6.5l-2.1 6.2l-1.7 7l-.8 6.5l-.3 6.5l.4 7.1l1.1 7.1l1.6 6.3l2.5 6.7l2.8 6l3.7 6.1l4.3 5.7l4.9 5.2l4.9 4.4l5.7 4.2l6.2 3.6l6.5 3l6.2 2.1l6.4 1.5l7 1l7.5 .3l-8.5-2.1l-7.5-3.6l-5.3-4.7l-2.7-5.2l-.6-4.5l1-5l2.6-5.2l3.6-4.6l5.2-3.9l2.7-1l2.8-.3l4.9 .7l15.4 5.4l9.5 2l5 .3l5.1-.4l4.6-1l3.8-1.5l4.5-2.7l4-3.3l3.4-3.9l3.3-4.8l2.6-5.2l2.3-6l1.9-6.9l1.3-7.2l-67 4.1l-2.9-.6l-1.6-1.3l-1.7-2.3l-3.3-6.8l-1.3-6.5l.3-5.7l1.7-5.1l3.2-4.5l4.3-3l4.9-1.2l4 .6l3.3 2l1.8 3l.3 4l-2 7.2l-8.1 14.9l-1.9 5.2z"/>
<path fill="#afcafc" fill-rule="nonzero" d="M94 668.7l59.3 3.6l1.9-11.3l.6-17.9l.9-6.8l-4.3-7.4l-5.5-7l-4.6-4.7l-5-4.3l-5.8-4.1l-5.7-3.2l-6.6-2.9l-6.2-2l-6.4-1.5l-6.5-.8l-7.1-.3l-6.5 .4l-6.5 1l-6.9 1.8l-6.8 2.4l-6.4 3.2l-5.6 3.4l-5.7 4.3l-4.8 4.4l-4.7 5.3l-4.2 5.8l-3.6 6.2l-3 6.5l-2.1 6.2l-1.7 7l-.8 6.5l-.1 11.9l1.8 11.1l3.8 11.3l5.7 10.5l7.3 9.4l8.3 7.6l9.9 6.5l10.7 4.7l-3.9-3.7l-2.7-4.1l-1.2-4.5l.2-5l1.8-5.2l3.5-5.9l5-6.1l5.3-4.7l4.7-2.5l4.3-.5l4.4 1.1l13.2 5l6.7 1.7l8.2 .7l7.7-1.1l7.8-3.3l6.4-5l5.6-7.3l4-8.6l2.6-11.4l-60.7 3.6l-4.1 1.1l-2.6-.5l-2.3-1.6l-2-2.5l-1.9-3.4l-2.6-7.9l-.4-7.4l1.5-6.8l3.5-6l5-4.3l6.4-2.5l6.4-.3l4.8 1.4l3.5 2.8l1.9 3.9l0 4.4l-1.1 3.9l-2.4 4.8l-11 16.2l-2.6 4.7z"/>
<path fill="#cfdaea" fill-rule="nonzero" d="M94 668.7l54.6 3.3l1.6-9l.1-8.8l-1.7-17.6l.5-5l1.6-4.9l-.8-1.1l-4.6-5.5l-5.2-4.9l-5.6-4.4l-6.6-4.1l-6.5-3.1l-7.2-2.6l-7-1.7l-7.1-.9l-7.1-.3l-6.5 .4l-6.5 1l-6.9 1.8l-6.8 2.4l-6.4 3.2l-5.6 3.4l-5.7 4.3l-4.8 4.4l-4.7 5.3l-4.2 5.8l-3.6 6.2l-3 6.5l-2.1 6.2l-1.7 7l-.8 6.5l-.2 9.5l1 9.4l2.4 9.3l3.6 8.8l4.7 8.3l5.8 7.5l6.7 6.7l8.1 6.1l-.8-3.8l.4-4l1.5-4.3l2.7-4.8l5-6.6l6.2-6.9l6.2-5.7l4.7-3.3l3.1-1.1l3.1 .1l13.5 5.9l5.8 1.9l7.2 1.4l6.7 0l6.9-1.5l6.3-3.1l5.2-4.1l4.5-5.7l3.8-7.9l2.2-9.3l-56 3.4l-3.8 2.2l-3.2 .8l-1.9-.3l-2-1.2l-3.9-4.7l-3.7-8.2l-1.5-8.7l.2-4.4l.7-3.9l1.4-3.8l1.8-3.4l2.4-3.1l2.9-2.7l3.3-2.2l4-1.8l3.8-1.1l4.4-.6l4 .2l4 .7l5.2 2.2l3.7 3.3l1.8 4.2l-.4 4.5l-1.9 4.6l-3.5 5.4l-17.8 22z"/>
<path fill="#e9d5cb" fill-rule="nonzero" d="M94 668.7l50.1 3l1.2-5.1l.4-5.8l-.3-5.3l-1.2-5.8l-1.8-5.1l-2.7-5.4l-3.1-4.5l-3.9-4.5l-38.7 38.5zM132.3 629.8l.4 .2l11.2-11.2l-9-7.6l-10.2-6.1l-11.1-4.2l-11.1-2.3l-7.7-.5l-8.3 .4l-7.7 1.2l-8 2.3l-7.7 3.2l-6.8 3.8l-6.3 4.5l-6.2 5.5l-4.4 4.9l-4.2 5.7l-3.4 5.6l-3.1 6.5l-2.3 6.7l-1.7 7l-1 7.1l-.3 6.5l.4 7.1l1 6.5l1.7 6.9l2.2 6.2l3.1 6.5l3.4 5.6l4.2 5.7l4.7 5.1l40.5-40.5l6.4 5.5l6.8 4.3l7.1 3l7.3 1.6l6.9 .1l6.4-1.3l6-2.7l5.2-4.2l3.2-3.9l2.6-4.4l1.8-4.9l1.1-5.6l-51.4 3.1l-9.5 9.4l-5.7-6.7l-4.4-7.3l-2.9-7.5l-1.4-7.6l0-5.2l.7-4.7l1.6-4.7l2.4-4.3l2.9-3.6l3.8-3.3l4.4-2.6l4.8-2l5.2-1.2l5.7-.4l5.4 .3l5.7 1.2l5.2 1.7l5.3 2.7l4.6 3l4.5 3.9z"/>
<path fill="#f6bda2" fill-rule="nonzero" d="M94 668.7l45.7 2.7l1.4-7.8l-.9-7.6l-2.4-5.6l-3.3-3.7l-3.9-1.6l-4.6 .4l-4.6 1.9l-5.4 3.5l-22 17.8zM135.7 612.1l-3.2-2.6l-6.2-3.6l-11.6-4.7l-12.2-2.6l-12.5-.4l-11.8 1.7l-11.9 3.8l-11 5.9l-9.8 7.8l-8.3 9.3l-6.2 10.1l-4.5 11.1l-2.6 12.2l-.4 11.9l1.6 12.4l3.9 11.8l5.6 10.7l3.8 .8l4-.4l4.3-1.5l4.8-2.7l6.6-5l7.2-6.6l5.8-6.2l3.1-4.6l.9-3l-.2-3.1l-7.4-17.9l-1.4-6.2l-.4-6.3l.7-6.2l1.9-5.8l3.1-5.3l3.9-4.4l4.2-3.4l4.8-2.7l5.3-2l6-1.4l11.1-.7l20.2 1.7l4.9-.5l3.9-1.4zM93.7 669.1l-2.1 3.8l-.6 3l.9 2.8l2.6 2.9l4.9 3.1l5.9 2.5l6 1.2l6 .2l4.4-.7l4.3-1.4l3.9-2.1l3.3-2.7l2.9-3.3l2.2-3.7l1.6-4.1l1-4.7l-46.9 2.8l-.3 .4z"/>
<path fill="#f4987a" fill-rule="nonzero" d="M94 668.7l41 2.5l1.2-5.3l-.2-5l-1.6-4.4l-3-3.4l-3.7-1.6l-4.1 .1l-3.9 1.1l-4.8 2.4l-16.2 11l-4.7 2.6zM126.3 606l-9.3-4.1l-10.4-2.7l-10.6-1.1l-10.7 .5l-10.5 2.2l-10.1 3.6l-9.4 5.2l-8.5 6.5l-7.4 7.8l-6.1 8.8l-4.8 9.6l-3.2 10.2l-1.7 11.1l0 10.8l2.1 12.3l1.5 4.9l1.4 1.6l3.8 3.5l4.4 2.2l4.5 .6l4.7-.7l5.9-2.6l6.1-4.1l5.8-5.4l3.8-4.9l1.6-4l.1-4.1l-7-20.4l-1.2-6.4l-.1-6.2l1.1-6.4l2.1-5.7l3.3-5.2l4.3-4.6l4.2-3.2l4.7-2.7l5.1-2.1l5.8-1.7l9.8-1.5l18.2-.7l6.7-.9zM93.8 669.1l-.8 3.2l.2 2.6l1.4 2.4l2.6 2.2l4.3 2.4l4.9 1.7l4.9 .9l4.8 .1l4-.6l3.5-1.2l3.2-1.7l3-2.2l2.4-2.7l1.9-3.1l1.3-3.4l.8-3.5l-42.2 2.5l-.2 .4z"/>
<path fill="#e36c55" fill-rule="nonzero" d="M94 668.7l35.7 2.1l1-3.3l.1-3.4l-1-3.3l-2.2-2.6l-3.1-1.4l-3.8-.1l-7 2.2l-14.3 7.8l-5.4 2zM113 600.8l-8.7-2l-10.1-.7l-9.5 .6l-9.9 2.1l-9.5 3.4l-8.5 4.5l-8.2 5.9l-6.8 6.6l-6.6 8.4l-5.3 9.4l-3.7 10l-2.2 10.5l-.6 8.1l1.6 7.1l3.4 7.8l4.5 5.6l3.2 2.3l3.5 1.4l3.9 .4l4-.7l4.5-1.9l4.5-3l3.7-3.7l2.3-3.7l1-3.7l-.2-4.1l-6.7-20.5l-1.2-6l-.3-6l.6-5.7l1.6-5.4l2.6-5.1l3.4-4.5l3.8-3.5l4.7-3.4l5.2-2.7l5.5-2.3l12.2-3.1l18.3-2.4zM93.9 669.2l.2 2.3l.9 1.8l1.8 1.8l3.1 1.9l7.6 2.9l7.3 .6l6.1-1.4l5-3l3.4-4.4l1.6-5.2l-36.9 2.2l-.1 .5z"/>
<path fill="#c53334" fill-rule="nonzero" d="M97.3 668.9l25.9 1.6l.8-2l.1-2.1l-.7-2.2l-1.5-1.4l-2.4-.9l-2.6-.1l-5.7 1.4l-13.9 5.7zM84.1 598.8l-11.6 2.6l-10.7 4.4l12-4.2l10.3-2.8zM43.5 637l-1.8-1.7l-2.3 .3l-2.6 2.3l-2.5 3.7l-2.1 4.5l-1.6 5.3l-.9 5.3l-.3 5.2l1.2 8.7l1.3 3.6l1.8 3.5l2.2 2.7l2.6 2l2.9 1.2l3.1 .4l4.8-1.1l3.8-2.7l2.6-3.8l.7-4.4l-.5-3.8l-1.6-5l-8.7-22l-2.1-4.2zM98.5 671.5l3.8 2.3l4.2 1.5l4.2 .7l4.1-.2l3.8-1.2l2.8-2l2.1-2.7l.6-3l-25.1 1.5l-3 1l2.5 2.1z"/>
<path fill="none" stroke="#000" stroke-opacity="0.9" stroke-width="1.5" stroke-linejoin="round" stroke-dasharray="4.4 2" d="M161.3 668.7l.5-2.9M91.1 736.5l-4-1.2l-3.9-1.8l-3.8-2.3l-3.2-3.2l-1.9-3l-1-3.3l-.2-3l.5-3.5l1.5-3.8l2.8-4.1l2.9-2.9l3.1-1.9l3.6-1.1l3.1 0l4.2 .9l4.9 1.7M109.4 707.5l4.7 1.3l4.9 .9l4.8 .4l4.1-.1l4.1-.5l3.9-1.2l3.6-1.7l3.4-2.1l3-2.6l2.8-3l2.4-3.2l3.1-5.2l1.8-3.7l2.2-5.8l1.8-6l1.3-6.3M94 668.7l-2.3-.4l-1-.6l-1-1.1l-2.8-4.3l-2-4.7l-1.1-4.4l-.2-3.8l.5-4.1l1-3.1l1.2-2.2l1.6-2l1.7-1.6l2-1.3l2.1-.8l2.2-.4l2.2 0l2.2 .7l1.9 1.3l.8 .9l.7 1.3l.6 2.2l.1 2.3l-.5 2.7l-2 5.5M97.3 659.9l-2.6 5.5l-.7 3.3"/>
<path fill="none" stroke="#000" stroke-opacity="0.9" stroke-width="1.15" stroke-linejoin="round" d="M144.9 668.7l.7-4.9l.1-5l-.6-5l-1.2-5l-1.8-4.8l-2.3-4.6l-2.8-4.3l-4.2-5.2l9.2-9.2M46 716.7l6.4-6.4M71.4 691.3l12.9-12.9l.2-.4l-3.8-4.2l-3.4-4.6M70.1 643.8l.6-4.4l1.4-4.3l2.2-4.2l2.8-3.7l3.5-3.2l3.9-2.7l4.4-2l4.3-1.3l5.3-.9l5-.1l5 .5l5 1.2l4.8 1.7l4.6 2.3l4.3 2.8l3.8 3.1M115 647.7l-20.5 20.5l-.5 .2l0 .3M94 668.7l0 .3l-.5 .2l-8.7 8.7l0 .4l3.5 3.2l3.7 2.8l4.3 2.8l3.9 1.9l4 1.6l4.3 1.3l4 .6l3.9 .3l5.3-.5l4.3-1.1l4.5-2l4.1-2.8l3.4-3.3l2.9-4.1l1.4-2.6l1.3-3l1.3-4.7"/>
<path fill="none" stroke="#000" stroke-opacity="0.9" stroke-width="1.5" stroke-linejoin="round" d="M128.5 668.7l.4-3.3l-.5-2.2l-.4-1l-1.4-1.9l-2.4-1.5l-2.6-.5l-2.9 .2l-3.3 .9l-4.8 2M103.2 665.3l-5.2 2.4l-2 .7l-2 .3M26.2 671.6l1.4 4.5l1.8 3.9l2.5 3.7l2.1 2.2l2.8 2l3.2 1.3l3.3 .5l2.9-.3l3.9-1.3l4.2-2.4l3.6-3.3l2.2-3.2l.9-2.5l.4-3.3l-.7-4.2l-1.4-4.4M56.4 656.9l-1.9-6.1l-1.2-5.5l-.7-4.8l0-4.6l.5-4.7l1.1-3.9l1.6-3.7l2.1-3.4l3.2-3.7l3.8-3.4l3.3-2.3l5.4-3l5.6-2.5l5.5-1.8l6.7-1.6l5.5-1M94 668.7l0 1.1M99.8 675.5l4.6 2.1l4.3 1.2l4.6 .3l4.1-.5l4.2-1.5l3.3-2.5l2.3-2.7l1.3-3.2"/>
<text x="71.6" y="657.1" font-size="5.2" text-anchor="middle" dy="0.36em" transform="rotate(-286.3 71.6 657.1)">0.00000</text>
<text x="124.6" y="638.2" font-size="5.2" text-anchor="middle" dy="0.36em" transform="rotate(-45.0 124.6 638.2)">0.00000</text>
<text x="61.9" y="700.8" font-size="5.2" text-anchor="middle" dy="0.36em" transform="rotate(-45.0 61.9 700.8)">0.00000</text>
<text x="57.9" y="660.8" font-size="5.2" text-anchor="middle" dy="0.36em" transform="rotate(-290.5 57.9 660.8)">1</text>
<text x="106.9" y="663.3" font-size="5.2" text-anchor="middle" dy="0.36em" transform="rotate(-28.0 106.9 663.3)">1</text>
<text x="96.3" y="673.2" font-size="5.2" text-anchor="middle" dy="0.36em" transform="rotate(-320.3 96.3 673.2)">1</text>
<text x="99.7" y="655.3" font-size="5.2" text-anchor="middle" dy="0.36em" transform="rotate(-62.3 99.7 655.3)">−1</text>
<text x="104.6" y="705.8" font-size="5.2" text-anchor="middle" dy="0.36em" transform="rotate(-340.2 104.6 705.8)">−1</text>
</g>
<text x="93.5" y="582.1" font-size="12.7" text-anchor="middle">Poisson's Ratio ν31</text>
<rect x="171.8" y="723.10" width="6.6" height="13.90" fill="#4961d2"/>
<rect x="171.8" y="709.50" width="6.6" height="13.90" fill="#6a8bef"/>
<rect x="171.8" y="695.90" width="6.6" height="13.90" fill="#8db0fe"/>
<rect x="171.8" y="682.30" width="6.6" height="13.90" fill="#afcafc"/>
<rect x="171.8" y="668.70" width="6.6" height="13.90" fill="#cfdaea"/>
<rect x="171.8" y="655.10" width="6.6" height="13.90" fill="#e9d5cb"/>
<rect x="171.8" y="641.50" width="6.6" height="13.90" fill="#f6bda2"/>
<rect x="171.8" y="627.90" width="6.6" height="13.90" fill="#f4987a"/>
<rect x="171.8" y="614.30" width="6.6" height="13.90" fill="#e36c55"/>
<rect x="171.8" y="600.70" width="6.6" height="13.90" fill="#c53334"/>
<line x1="178.4" x2="181" y1="723.10" y2="723.10" stroke="#555" stroke-width="0.8"/>
<text x="183.4" y="723.90" font-size="10.35" dy="0.36em">−1.2</text>
<line x1="178.4" x2="181" y1="695.90" y2="695.90" stroke="#555" stroke-width="0.8"/>
<text x="183.4" y="696.70" font-size="10.35" dy="0.36em">−0.6</text>
<line x1="178.4" x2="181" y1="668.70" y2="668.70" stroke="#555" stroke-width="0.8"/>
<text x="183.4" y="669.50" font-size="10.35" dy="0.36em">0.0</text>
<line x1="178.4" x2="181" y1="641.50" y2="641.50" stroke="#555" stroke-width="0.8"/>
<text x="183.4" y="642.30" font-size="10.35" dy="0.36em">0.6</text>
<line x1="178.4" x2="181" y1="614.30" y2="614.30" stroke="#555" stroke-width="0.8"/>
<text x="183.4" y="615.10" font-size="10.35" dy="0.36em">1.2</text>
<text x="178.9" y="598.2" font-size="10.35" text-anchor="end">1e−5</text>
<text x="407.9" y="667.7" font-size="10.35" text-anchor="middle" dy="0.36em">0°</text>
<text x="385.2" y="612.8" font-size="10.35" text-anchor="middle" dy="0.36em">45°</text>
<text x="330.3" y="590.1" font-size="10.35" text-anchor="middle" dy="0.36em">90°</text>
<text x="275.4" y="612.8" font-size="10.35" text-anchor="middle" dy="0.36em">135°</text>
<text x="252.7" y="667.7" font-size="10.35" text-anchor="middle" dy="0.36em">180°</text>
<text x="275.4" y="722.6" font-size="10.35" text-anchor="middle" dy="0.36em">225°</text>
<text x="330.3" y="745.3" font-size="10.35" text-anchor="middle" dy="0.36em">270°</text>
<text x="385.2" y="722.6" font-size="10.35" text-anchor="middle" dy="0.36em">315°</text>
<text x="393.8" y="637.7" font-size="10.35" text-anchor="middle" dy="0.36em">3</text>
<mask id="c10"><circle cx="330.3" cy="668.7" r="67.9" fill="#fff"/></mask>
<g mask="url(#c10)">
<circle cx="330.3" cy="668.7" r="68.9" fill="#4961d2"/>
<path fill="#6a8bef" fill-rule="nonzero" d="M330.3 668.7l41.4 2.5l4-.3l7.8 .3l5.7 1l11.6 .7l.1-6.5l-.5-6.5l-1.2-6.5l-1.9-6.9l-2.3-6.1l-3.2-6.4l-3.5-5.5l-4.3-5.7l-5-5.2l-4.9-4.3l-5.3-3.8l-6.2-3.6l-6.5-2.9l-6.2-2.1l-7-1.7l-6.5-.8l-7.1-.3l-6.5 .4l-6.5 1l-6.9 1.8l-6.8 2.4l-6.4 3.2l-5.6 3.4l-5.7 4.3l-5.2 4.8l-4.7 5.4l-3.8 5.3l-3.6 6.2l-3 6.5l-2.1 6.2l-1.7 7l-.8 6.5l-.3 6.5l.4 7.1l1.1 7.1l1.6 6.3l2.5 6.7l2.8 6l3.7 6.1l4.3 5.7l4.4 4.8l5.4 4.8l5.7 4.2l6.2 3.6l6.5 3l6.2 2.1l6.4 1.5l7 1l7.2 .3l6.5-.4l6.5-.9l6.9-1.8l6.7-2.4l6.5-3.1l6.1-3.8l5.2-3.9l4.8-4.5l4.8-5.3l4.2-5.7l3.4-5.7l3-6.4l2.3-6.8l1.7-6.9l.9-6.5l.2-10.7l-70.5 4.2zM330.8 678.9l.5-5.4l4.3 4.4l4.8 2.9l5.2 1.4l5.1-.1l6.1-2.3l11.4-7.6l3.1-.9l3.9-.4l9.7 .4l3.9 .8l1.4 .8l1.3 1.4l.9 3.8l-1 5.3l-2.6 5.2l-4.2 5l-5 3.9l-5.7 3.1l-6.7 2.4l-7.4 1.6l-7.7 .6l-6.2-.3l-5.3-1l-3.7-1.7l-2.9-2.5l-1.5-2.4l-.8-3.2l-.9-15.2z"/>
<path fill="#8db0fe" fill-rule="nonzero" d="M330.3 668.7l29 1.7l5.4-6.3l4.5-2.9l3.7-1l9.7-1.3l10.5-2.7l2 .1l2.1 .9l1.7 1.7l1.7 3.1l-2.2-12.1l-4.4-11.7l-6.4-10.7l-7.7-9.1l-9.1-7.6l-10.9-6.2l-11.7-4.2l-11.8-2l-10.1-.2l-10 1.3l-9.8 2.7l-9.2 4.1l-8.6 5.3l-7.7 6.6l-7.1 8l-5.5 8.5l-1.4 2.6l-.5 5.6l-.9 31.2l-1.5 5l-1.6 2l-1.5 1.1l2 7.9l3 7.8l3.6 6.8l4.6 7l6.8 7.5l7.7 6.6l8.6 5.3l9.2 4.1l10.4 2.8l10 1.2l10.1-.2l10-1.7l9.6-3.1l9.1-4.4l8.9-6.1l7.4-6.9l6.3-7.9l5.2-8.7l3.8-9.3l2.5-10l-3.3 7.3l-5 6.7l-6.1 5.5l-6.9 4.2l-8.7 3.3l-9.1 2l-10.6 .8l-9.4-.8l-5.7-1.4l-4.6-2.2l-3.3-2.8l-1.8-3.4l-.4-2.6l.2-2.9l5.1-25.4l3.1 4.3l3.8 2.9l4.6 1.9l4.6 .3l4-.9l3.9-2.2l3.4-3.1l4.6-5.6l-31.9 1.9zM330.4 668.2l-.6-1.6l.4-1.5l.2 3.1z"/>
<path fill="#afcafc" fill-rule="nonzero" d="M330.3 668.7l23.9 1.4l6.3-11.2l2.1-2.7l2.4-2l4.3-2.3l11.7-3.7l10.3-5.8l4.2-.7l-4.3-8.7l-5.4-7.9l-6.3-7.1l-7.3-6.1l-8.5-5.4l-8.7-4l-9.2-2.7l-9.4-1.4l-9.5-.2l-8.9 1l-8.6 2.1l-8.4 3.1l-8.4 4.6l-7.2 5.2l-6.5 6.1l-6 7.3l-1.7 10.6l-.7 12l.4 11.7l1.8 19.4l-.1 5.8l-.8 3.5l-1.2 2.4l-2.3 2.2l-2.9 1.4l3.9 7.6l5.3 7.9l6.4 7.1l7.2 6.2l8.5 5.4l8.7 4l9.1 2.7l9.4 1.5l10.2 .2l9.4-1.1l9.2-2.4l8.8-3.7l8.8-5.1l7.4-5.9l6.6-6.8l5.7-7.7l4.7-8.9l-5.9 5.4l-7 4.5l-7.7 3.4l-8.8 2.3l-9.9 1.4l-10.6 0l-9.1-1.3l-7.8-2.5l-4.2-2.5l-3.1-2.9l-1.9-3.4l-.4-3.4l1.2-4.8l4.7-10.2l5.9-14.5l.5 0l3 3.5l3.1 2.1l3.7 1.3l3.7 .2l3.5-.8l3.2-1.8l2.7-2.6l2.6-3.8l-25.8 1.5zM330.5 668.3l-.4 0l-.9-2.1l-.4-3.3l.8-2.6l1.7-.9l1 .7l.2 1.8l-2 6.4z"/>
<path fill="#cfdaea" fill-rule="nonzero" d="M330.3 668.7l19.9 1.2l2.4-4.6l3-10.4l3.7-5.3l5.3-4.3l12.2-7.2l8.4-6.8l3.5-2.3l-4.7-6.2l-5.4-5.6l-5.9-5l-6.5-4.3l-6.8-3.6l-7.8-2.9l-7.5-2l-7.7-1l-7.7-.3l-8.3 .7l-8.2 1.6l-7.3 2.4l-7.6 3.5l-6.7 4l-6.1 4.7l-5.8 5.4l-2.1 7.2l-1.6 8.3l-.8 8.5l-.1 8.5l1.4 15.1l4.8 21.9l.6 6.5l-.8 3.6l-1.5 2.9l-2.8 2.9l-3.9 2.6l5.4 6.9l6.3 6.4l7 5.4l7.2 4.3l7.6 3.4l8.6 2.6l8.8 1.5l8.3 .4l8.3-.6l8.8-1.7l8.4-2.8l8.1-3.8l7.5-4.9l6.4-5.3l6.1-6.5l5.1-6.9l-7.3 4.4l-8.4 3.4l-9.5 2.4l-9.7 1.1l-10.3 0l-10-1.2l-8.8-2.5l-7.1-3.4l-3.9-3.1l-2.4-3.1l-1.2-3.5l.4-3.4l2.7-5.8l15.7-23l.6 0l2.6 2.4l3.1 1.8l2.8 .9l3 .1l3-.6l2.7-1.4l2.2-2.1l1.7-2.8l-21.4 1.3zM330.6 668.3l-.6 0l-.4-.6l-1.6-3.3l-.5-2.7l.2-2.3l.9-2.1l1.4-1.6l1.9-.9l1.8 0l1.9 1.4l.2 2.7l-1.5 3.6l-3.7 5.8z"/>
<path fill="#e9d5cb" fill-rule="nonzero" d="M330.3 668.7l16.3 1l1.8-3.4l.4-4.2l-1.3-4.3l-2.6-3.7l35.3-35.3l-9.4-8l-10.9-6.2l-11.7-4.2l-11.8-2l-7.7-.3l-7.1 .5l-7.1 1.3l-7.4 2.1l-7.2 2.9l-6.8 3.8l-8.1 5.8l-.9 1.9l-3.8 10.5l-2.2 11.4l-.7 12.6l1.1 12.8l2.4 11.1l3.9 10.1l5 8.7l7 8.6l-16.4 16.4l5.5 5l5.7 4.2l6.2 3.6l7.1 3.2l7.3 2.4l7 1.4l7.1 .8l7.2 0l7.1-.6l7-1.4l7.4-2.3l6.5-2.9l6.3-3.4l6.3-4.5l5.4-4.7l5-5.4l-9.6 3.9l-11 2.6l-11.8 1l-12.3-.4l-11.1-1.8l-10.3-3.2l-9.4-4.6l-8.2-5.8l-3.8-3.5l.1-.3l32.9-32.9l.7 0l4.4 2.9l4.2 .9l4.2-.8l3.2-2.5l1.2-1.9l-17.6 1.1zM330.6 668.4l-.6-.1l-2.1-2.7l-1.6-4.9l.3-4.2l2.1-3.5l3.5-2.2l4.3-.6l4.5 1.1l3.8 2.7l-14.2 14.4z"/>
<path fill="#f6bda2" fill-rule="nonzero" d="M330.3 668.7l12.6 .8l1.2-2.1l.2-2l-1.4-2l-2.8-.2l-3.6 1.5l-5.8 3.7l-.8 0l-3.3-3.9l-1.7-4.4l-.1-4.6l1.7-4l2-2.2l2.8-1.9l12.5-3.9l2.8-1.5l2.8-2.3l4.3-5.3l7.2-12.2l6.8-8.4l2.3-3.5l-7.9-4.7l-8.2-3.5l-8.6-2.4l-8.9-1.3l-11.9-.1l-11.1 1.8l-10.8 3.6l-10.4 5.5l-4.2 7l-3.2 7.5l-2.4 8.7l-1.3 9.3l-.4 7.5l.3 7.1l.9 6.9l1.5 6.5l2 5.7l2.6 4.8l3 4l3.1 2.4l2.5 1l2.1 .2l5.2-1.4l26-17.4l6.4 2.4l2.6 0l2.3-.7l1.6-1.2l1.2-1.6l-13.7 .8zM293.8 722.4l-3.2 4.7l5.6 3.4l5.9 2.9l7.3 2.7l7.5 1.9l7.6 1.1l7.8 .2l12.4-1.5l6.3-1.6l6.2-2.2l11.1-5.8l5.3-3.7l5-4.2l-7.3 2.1l-8.3 1.6l-8.5 .8l-8.5 .1l-15.1-1.4l-21.9-4.8l-5.9-.6l-5.2 1.2l-4.1 3.1z"/>
<path fill="#f4987a" fill-rule="nonzero" d="M330.3 668.7l8.6 .5l.7-1.8l-1-.8l-1.8-.1l-6.5 2.1l-3.3-2.5l-2.5-3.4l-1.4-3.9l-.3-4l1-3.8l1.8-3l2.8-2.8l11.7-6.7l4.5-4.1l2.5-4.7l3.5-11.3l5.6-9.8l1.1-3.7l0-1.4l-5.7-2.1l-7.5-2l-7.7-1l-8.9-.3l-8.9 1l-8.7 2l-8.5 3.2l-6.4 7.3l-5.1 8.9l-3.5 10.3l-1.8 11.3l-.2 12.4l1.9 11l1.5 4.6l2 3.9l2.3 3.1l2.7 2.2l4 1.4l4.5-.5l26.6-11.3l4.4 1.3l3.1-.2l1.5-.7l.7-1.2l-9.3 .6zM304.1 730.3l-1.7 3.3l8.1 2.9l12.3 2.4l11.8 .3l9.5-1.2l9.8-2.7l9.2-4.1l8.3-5.1l-11.3 1.8l-12 .6l-10.1-.3l-18.9-1.8l-5.9-.1l-5.6 1.2l-3.5 2.8z"/>
<path fill="#e36c55" fill-rule="nonzero" d="M330.3 668.7l3.6 0l-4.5-.4l-2.6-1.6l-2.5-2.4l-3.1-5.5l-.8-3.2l0-2.9l1-4l2.1-3.9l3.2-3.4l8.2-7.1l2-2.6l1.4-3.2l1.7-11.7l2.5-8.9l.3-3l-.5-2.2l-1.4-2l-2.2-1.5l-2.3-.8l-8.9-.3l-9.4 1.1l-7.2 3.3l-7.1 5.3l-5.8 6.7l-4.5 8l-3.2 9.6l-1.7 10.2l-.2 10.3l1.4 9l2.8 6.9l1.9 2.5l1.9 1.6l3.1 1.2l4 .2l26.3-5.2l3.6 .3l.5-.3l-.4-.3l-3.2 .2zM316.9 737.7l3.5 .9l7.1 .7l11.9-.6l11.6-2.5l10.7-4.2l-11.1 .8l-25.1 .6l-5.4 1.4l-3.2 2.9z"/>
<path fill="#c53334" fill-rule="nonzero" d="M328.1 623.5l-.3-9l-.7-3.8l-1.8-2.8l-3-1.2l-5 .4l-5.9 2.5l-5.3 4.1l-4.6 5.7l-3 5.4l-2.3 6.3l-1.6 7.2l-.8 7.6l.2 6.9l1.1 5.6l2 4.3l2.8 2.8l3.1 1.4l3.9 .6l13.2 .7l5.4-.4l-4.3-4.3l-2.5-3.9l-1.7-4.5l-.3-4.7l.7-3.8l1.4-3.6l8-12.2l1-3.5l.3-3.8z"/>
<path fill="none" stroke="#000" stroke-opacity="0.9" stroke-width="1.5" stroke-linejoin="round" stroke-dasharray="4.4 2" d="M363.3 668.7l1.9-1.8l2-1.4l3.3-1.5l3.4-.6l9.3-.8M393.3 661.4l1.1 .2l1.6 .9l1.3 1.4l.8 1.4M264.3 652.6l0 1.8M263.8 664.6l-.7 5.2l-.6 2.3M396.3 684.7l-2.6 4.7l-4.1 5.1l-3.2 3l-5.2 3.7l-4.1 2.3l-5.3 2.2l-5.6 1.6l-7.2 1.3l-6.8 .5l-7.7-.3l-5.7-1l-4.5-1.6l-2.2-1.2l-1.7-1.3l-1.3-1.4l-.9-1.4l-.6-1.5l-.4-2.1l.1-4.1M328.6 683.1l1.7-13.7l.2 0l1 2.1l1.4 2l1.5 1.5l2.2 1.8l1.9 1.1l2.7 1.1l2.4 .5l2.5 .2l2.3-.2l1.9-.5l3.9-1.8l4-3.2l5.1-5.3M330.3 668l-.1-.6l.1 .6"/>
<path fill="none" stroke="#000" stroke-opacity="0.9" stroke-width="1.15" stroke-linejoin="round" d="M347.3 668.7l.8-1.7l.5-1.8l.2-1.9l-.1-1.9l-.5-1.9l-1-2.4l-1.1-1.6l-1.2-1.3l-14.1 14l-.5 .2l-.5-.2l-1.6-2.2l-1.5-3.3l-.5-3.4l.1-1.6l.6-1.9l1.4-2.3l1.9-1.7l2.2-1.1l2.5-.5l2.6 .1l2.4 .6l2.4 1.1l2.5 2l12.8-12.6M376.6 622.4l1.7-1.7M277.5 646.6l0 7.6l.9 8.7l1.2 6.6l2.1 7.7l2.9 7.2l3.6 6.7l4.3 6.2l4 4.4l.8 0l32.5-32.5l1 0l2.2 1.6l2.5 1.3l2 .5l2.3 .2l2.2-.3l2-.7l1.6-1.2l1.7-1.9M378.3 716.7l-1.2 .5M350.7 721.6l-7.6-.2l-7.6-.8l-7.2-1.4l-7.6-2.3l-7.2-3l-5.3-2.9l-6.2-4.3l-5.2-4.5l-14.5 14.5"/>
<path fill="none" stroke="#000" stroke-opacity="0.9" stroke-width="1.5" stroke-linejoin="round" d="M331.2 668.7l-1.8-.3l-2.8-1.5l-2.2-1.8l-2-2.3l-1.3-2.3l-1.1-2.8l-.6-2.7l0-3.1l.9-4l1.5-3.1l3-3.8l6.1-5.9l2.2-2.6l1.6-3.3l.9-3.8M336.2 617l1.4-8.2l.1-2.8l-.3-1.4l-.8-1.4l-1.5-1.5l-1.4-.8M314.3 602.7l-3.3 1.8l-3.6 2.4l-4.8 4.5l-2.7 3.3l-2.4 3.5l-2 3.7l-1.6 3.8l-1.3 3.8l-1.1 4.4l-.9 4.8l-.5 5.1l-.2 4.5l.2 4.6l.6 4.8l.6 2.9l1.5 4.1l1.2 2.2l1.3 1.7l1.4 1.3l1.4 .9l2.9 .9l4.1 .1l23.8-3l2.5 0l-.2-.1M340.3 734.9l-8.4 .6l-5 1"/>
<text x="278.8" y="633.3" font-size="5.2" text-anchor="middle" dy="0.36em" transform="rotate(-79.5 278.8 633.3)">0.00000</text>
<text x="367.1" y="631.9" font-size="5.2" text-anchor="middle" dy="0.36em" transform="rotate(-45.0 367.1 631.9)">0.00000</text>
<text x="364.1" y="720.4" font-size="5.2" text-anchor="middle" dy="0.36em" transform="rotate(-9.3 364.1 720.4)">0.00000</text>
<text x="335.9" y="621.2" font-size="5.2" text-anchor="middle" dy="0.36em" transform="rotate(-86.6 335.9 621.2)">1</text>
<text x="264.1" y="659.5" font-size="5.2" text-anchor="middle" dy="0.36em" transform="rotate(-87.6 264.1 659.5)">−1</text>
<text x="388.2" y="661.7" font-size="5.2" text-anchor="middle" dy="0.36em" transform="rotate(-9.8 388.2 661.7)">−1</text>
<text x="328.0" y="688.1" font-size="5.2" text-anchor="middle" dy="0.36em" transform="rotate(-82.1 328.0 688.1)">−1</text>
<text x="344.5" y="734.7" font-size="5.2" text-anchor="middle" dy="0.36em" transform="rotate(-1.9 344.5 734.7)">1</text>
</g>
<text x="329.8" y="582.1" font-size="12.7" text-anchor="middle">Poisson's Ratio ν23</text>
<rect x="408.1" y="723.10" width="6.6" height="13.90" fill="#4961d2"/>
<rect x="408.1" y="709.50" width="6.6" height="13.90" fill="#6a8bef"/>
<rect x="408.1" y="695.90" width="6.6" height="13.90" fill="#8db0fe"/>
<rect x="408.1" y="682.30" width="6.6" height="13.90" fill="#afcafc"/>
<rect x="408.1" y="668.70" width="6.6" height="13.90" fill="#cfdaea"/>
<rect x="408.1" y="655.10" width="6.6" height="13.90" fill="#e9d5cb"/>
<rect x="408.1" y="641.50" width="6.6" height="13.90" fill="#f6bda2"/>
<rect x="408.1" y="627.90" width="6.6" height="13.90" fill="#f4987a"/>
<rect x="408.1" y="614.30" width="6.6" height="13.90" fill="#e36c55"/>
<rect x="408.1" y="600.70" width="6.6" height="13.90" fill="#c53334"/>
<line x1="414.7" x2="417.3" y1="723.10" y2="723.10" stroke="#555" stroke-width="0.8"/>
<text x="419.7" y="723.90" font-size="10.35" dy="0.36em">−1.2</text>
<line x1="414.7" x2="417.3" y1="695.90" y2="695.90" stroke="#555" stroke-width="0.8"/>
<text x="419.7" y="696.70" font-size="10.35" dy="0.36em">−0.6</text>
<line x1="414.7" x2="417.3" y1="668.70" y2="668.70" stroke="#555" stroke-width="0.8"/>
<text x="419.7" y="669.50" font-size="10.35" dy="0.36em">0.0</text>
<line x1="414.7" x2="417.3" y1="641.50" y2="641.50" stroke="#555" stroke-width="0.8"/>
<text x="419.7" y="642.30" font-size="10.35" dy="0.36em">0.6</text>
<line x1="414.7" x2="417.3" y1="614.30" y2="614.30" stroke="#555" stroke-width="0.8"/>
<text x="419.7" y="615.10" font-size="10.35" dy="0.36em">1.2</text>
<text x="415.2" y="598.2" font-size="10.35" text-anchor="end">1e−5</text>
<text x="644.2" y="667.7" font-size="10.35" text-anchor="middle" dy="0.36em">0°</text>
<text x="621.5" y="612.8" font-size="10.35" text-anchor="middle" dy="0.36em">45°</text>
<text x="566.6" y="590.1" font-size="10.35" text-anchor="middle" dy="0.36em">90°</text>
<text x="511.7" y="612.8" font-size="10.35" text-anchor="middle" dy="0.36em">135°</text>
<text x="489" y="667.7" font-size="10.35" text-anchor="middle" dy="0.36em">180°</text>
<text x="511.7" y="722.6" font-size="10.35" text-anchor="middle" dy="0.36em">225°</text>
<text x="566.6" y="745.3" font-size="10.35" text-anchor="middle" dy="0.36em">270°</text>
<text x="621.5" y="722.6" font-size="10.35" text-anchor="middle" dy="0.36em">315°</text>
<text x="630.1" y="637.7" font-size="10.35" text-anchor="middle" dy="0.36em">3</text>
<mask id="c11"><circle cx="566.6" cy="668.7" r="67.9" fill="#fff"/></mask>
<g mask="url(#c11)">
<circle cx="566.6" cy="668.7" r="68.9" fill="#4961d2"/>
<path fill="#6a8bef" fill-rule="nonzero" d="M566.6 668.7l37.2 2.2l3.4-8.4l3.8-5.7l2.4-2.2l2.6-1.5l2.7-1l2.6-.1l2.2 .5l2.5 1.4l1.8 1.9l1.5 2.8l1.3 6.4l-.2 3.8l-.7 3.7l7.4 .4l-.4-12.5l-2.5-12.2l-4.4-11l-6.6-10.7l-4.5-5.5l-5.1-5l-5.1-4.1l-6-4l-6.3-3.3l-6-2.5l-6.9-2l-6.4-1.3l-7.1-.6l-6.6 0l-6.5 .6l-7 1.3l-6.9 2.1l-6.6 2.7l-5.7 3.1l-6 4l-5.5 4.5l-5 5.1l-4.2 5.1l-3.9 6l-3.1 5.7l-2.7 6.6l-1.9 6.3l-1.4 7l-.7 6.5l0 7.2l.7 7.1l1.2 6.4l2.1 6.9l2.7 6.6l3.1 5.7l3.9 6l4.2 5.1l5 5.1l5 4.1l5.9 4.1l6.3 3.4l6.6 2.7l6.9 2.1l6.4 1.2l7.1 .7l6.6 0l7.1-.6l6.4-1.3l6.9-2l6-2.5l6.3-3.3l6-4l6.4-5.3l6.1-6.5l5.3-7.2l4.3-7.9l3.2-8.3l2.2-8.6l1.1-8.3l0-8.9l-6.5 .4l-.4 5.3l-1.6 5.3l-3 5.3l-3.8 4.1l-3.3 2.6l-3.5 1.9l-3.7 1.3l-4.3 .8l-3.3-.1l-2.5-.7l-1.6-1.1l-.6-1.8l.9-4.9l5.6-16.5l-38.9 2.3zM563.1 679.9l3.3-7.4l2.1 4.5l2.7 4l10.4 11.2l.5 1.9l-1 2.2l-3.6 2.3l-5 1.1l-4.8-.7l-3.7-2.1l-2.3-3.1l-.8-3.7l.5-4.6l1.7-5.6z"/>
<path fill="#8db0fe" fill-rule="nonzero" d="M566.6 668.7l30.7 1.8l4.5-11.8l4-6.5l2.8-3.1l3.6-2.9l3.4-1.9l3.7-1.3l5.1-.2l4.4 1.8l4 3.7l2.8 5.3l-2-7.1l-2.8-7.2l-3.6-6.8l-4-6l-4.5-5.5l-5.1-5l-5.1-4.1l-6-4l-6.3-3.3l-6-2.5l-6.9-2l-6.4-1.3l-7.1-.6l-6.6 0l-6.5 .6l-7 1.3l-6.9 2.1l-6.6 2.7l-5.7 3.1l-6 4l-8.5 7.4l-7.2 8.8l-5.7 9.7l-4.2 10.8l4.1 34.5l-.2 7.3l-1.3 5.5l3.8 7.7l4.5 7l4.2 5.1l5 5.1l5 4.1l5.9 4.1l6.3 3.4l6.6 2.7l6.9 2.1l6.4 1.2l7.1 .7l6.6 0l7.1-.6l6.4-1.3l6.9-2l6-2.5l6.3-3.3l6-4l6.4-5.3l5.7-6l5.3-7.2l4.1-7.3l3.3-7.7l2.2-8l1.4-8.2l.3-8.6l-1.6 8l-3.7 8l-5.5 7l-6.6 5.3l-7.3 3.9l-8.3 2.7l-16.3 3.3l-10.7 1.2l-7.3-.6l-5.9-1.9l-4.5-3.3l-2.3-4.2l-.5-4.5l1.2-5.1l8.5-17.8l2.9 5.5l4.2 4.5l5.1 2.8l5.3 .8l4.6-1.3l3.9-3l3.4-4.9l2.9-6.8l-32.1 1.9zM566.8 668.2l-.3-1.4l.5-1.2l-.2 2.6zM636.2 672.9l.9 0l.1-5.7l-1 5.7z"/>
<path fill="#afcafc" fill-rule="nonzero" d="M566.6 668.7l25.4 1.5l6.3-16.8l3.1-4.7l4.4-4.9l6.1-4.9l6.1-3.2l5.6-1.2l5.2 .8l-5.6-8.8l-4.5-5.5l-5.1-5l-5.1-4.1l-6-4l-6.3-3.3l-6-2.5l-6.9-2l-6.4-1.3l-7.1-.6l-6.6 0l-6.5 .6l-7 1.3l-6.9 2.1l-6.6 2.7l-5.7 3.1l-6 4l-5.9 4.9l-5.4 5.6l-4.8 6.1l-3.8 6.4l-.4 10.3l.6 11l1.4 10.6l3.2 18.4l.6 6.4l-.8 7.5l-2.8 6.4l3.4 5.1l4.2 5.1l5 5.1l5 4.1l5.9 4.1l6.3 3.4l6.6 2.7l6.9 2.1l6.4 1.2l7.1 .7l6.6 0l7.1-.6l6.4-1.3l6.9-2l6-2.5l6.3-3.3l6-4l8.5-7.4l7.3-8.7l5.7-9.7l4.1-10.2l-5.1 6l-6.5 5.3l-7.4 4.2l-8.6 3.2l-11.1 2.5l-11.4 1.3l-9.9-.2l-8.4-1.7l-5-2l-4-2.6l-2.8-3.2l-1.4-3.4l-.2-3.8l.9-4l2.1-4.7l3.3-5.4l7.8-11.9l.4 0l3 4.3l3.3 2.7l4 1.8l4.1 .4l3.8-1l3.4-2.2l2.7-3.3l2.3-4.7l-26.8 1.6zM566.8 668.3l-.4-.1l-.5-1.8l-.2-3.2l.9-2.3l1.6-.8l.9 .8l0 1.8l-2.3 5.6z"/>
<path fill="#cfdaea" fill-rule="nonzero" d="M566.6 668.7l20.7 1.2l2.1-4.7l2.7-11.8l1.9-3.5l2.7-3.8l6.4-6.9l7.8-6.7l6.5-4.3l5.5-2.2l-5.9-6.7l-6.6-6l-7.3-5.1l-7.4-3.9l-7.8-2.9l-8.7-2.2l-8.3-1l-8.9 0l-9.4 1.3l-9.2 2.5l-8.2 3.5l-8.3 4.8l-7.9 6.2l-6.9 7.3l-2.1 10l-.9 12.8l.8 14.2l2.3 12.7l4.8 18.7l.7 5.5l-.3 3.7l-1.1 3.6l-2.1 3.8l-2.8 3.9l7.2 7.8l9.3 7.3l11 5.9l11.9 3.8l11.8 1.7l12.5-.4l11.7-2.4l11-4.4l10.7-6.5l6-4.9l5-5.1l4.8-6.1l4.1-6.5l-8.3 5.6l-10 4.3l-11.3 2.8l-12.8 1.3l-12-.5l-10.7-2.2l-4.8-1.8l-4-2.1l-3.4-2.5l-2.3-2.5l-1.5-2.9l-.5-2.8l.3-3.2l1.3-3.5l5.3-8.2l12.6-15.6l.6 0l2.5 2.7l3.1 2l3 1.1l3 .3l3-.6l2.7-1.4l2.3-2.2l1.8-2.7l.4-.9l-22.1 1.3zM566.9 668.3l-.8-.4l-1.4-3.4l-.4-2.6l.3-2.4l.9-2l1.3-1.5l1.8-.8l1.8 0l1.7 1.5l.1 2.8l-1.7 3.6l-3.6 5.2z"/>
<path fill="#e9d5cb" fill-rule="nonzero" d="M566.6 668.7l16.3 1l1.8-3.4l.4-4.2l-1.3-4.3l-2.6-3.7l35.3-35.3l-6.6-5.9l-7.4-5l-7.9-4l-8.4-3l-8.7-2l-8.9-.8l-9 .3l-8.8 1.5l-8 2.3l-7.6 3.3l-7.3 4.1l-6.6 4.9l-2.7 6.2l-2.2 6.8l-1.4 6.9l-1 7.7l-.3 8.8l.5 8.7l1.3 8.5l2.1 7.9l2.8 7.4l3.4 6.5l4 6l5.3 6.3l-16.4 16.4l3.2 3.1l9.5 7l10.6 5.4l11.4 3.6l11.8 1.5l11.9-.4l11.7-2.4l11-4.4l10.7-6.5l6.4-5.3l5.9-6.2l-10.7 4.2l-11.5 2.5l-12.8 .9l-12.9-.9l-11.6-2.4l-10.4-3.9l-9.3-5.3l-8.3-6.9l33-33.2l.7 0l4.2 2.8l4 1l3.9-.5l3.3-2.1l1.8-2.6l-17.6 1.1zM566.9 668.4l-.6-.1l-2.1-2.7l-1.6-4.9l.3-4.2l2.1-3.5l3.5-2.2l4.3-.6l4.5 1.1l3.8 2.7l-14.2 14.4z"/>
<path fill="#f6bda2" fill-rule="nonzero" d="M566.6 668.7l11.8 .7l1.5-2l.2-2.3l-1.4-1.8l-2.4-.3l-3.7 1.5l-5.6 3.9l-1.3-.4l-3.5-3.9l-1.9-4.6l.1-4.7l1.9-4.1l2.3-2.2l2.8-1.7l3.6-1.2l10.4-2.2l3.6-1.8l4.2-3l6.9-6.4l6.7-7.8l4.3-6.5l2.2-5.5l-8.3-5.4l-9.2-4.3l-9.7-2.9l-9.4-1.4l-10.1-.2l-10.6 1.4l-10.3 3l-9.3 4.3l-5.3 7.7l-4 8.8l-2.8 9.8l-1.6 10.8l-.3 7.5l.2 7.1l.9 6.7l1.3 5.9l2 5.5l2.6 4.7l3.1 3.8l3.2 2.3l2.9 .9l2.8 .1l3.1-.8l3.2-1.5l7.3-4.9l15.5-12.4l5.9 2.1l2.7-.1l2.2-.8l2.3-2.2l-13 .8zM524.6 722.4l-2 1.5l1.4 1.1l8 5.3l8 3.8l6.2 2.2l7 1.7l6.4 1l6.6 .3l12.4-1l11.6-3l11.3-5.2l10-6.9l-7.1 1.6l-7.8 1.1l-8 .3l-8.6-.3l-14.2-1.9l-21.9-5.6l-6.4-.8l-3.6 .3l-3.1 .9l-6.2 3.6z"/>
<path fill="#f4987a" fill-rule="nonzero" d="M566.6 668.7l7.1 .4l1.2-1l.2-1.1l-.9-.8l-2 0l-5.6 2.4l-2.7-1.4l-2.9-2.5l-2.6-4l-1.3-4.1l.2-4.2l1.4-3.6l2.5-2.9l3.3-2.4l4-1.7l12.2-4.2l4.1-2.4l3.7-2.8l4.6-4.7l4.1-5.6l2.5-5.3l1-4.5l-.1-3.4l-.6-2.4l-2.2-1.1l-6-2.7l-6.2-2l-6.4-1.5l-6.5-.8l-11.3-.1l-11.1 1.7l-4.5 1.2l-6 5.1l-6.3 8l-4.7 9.4l-3.3 11.1l-1.9 13l-.2 11.8l1.7 10l1.7 4.3l2 3.4l2.5 2.7l2.7 1.9l2.5 .9l2.9 .2l6.4-1.5l6.5-3.5l13.9-9.1l4.8 .8l3-.8l.9-.7l-8.3 .5zM530.2 728.6l-.5 .3l6 3.3l10 3.9l9.2 2.2l9.5 1l8.9-.3l9.4-1.5l9.1-2.8l8.5-4l-10.4 .4l-11-.6l-10.6-1.4l-18.4-3.2l-6.3-.6l-7.3 .7l-6.1 2.6z"/>
<path fill="#e36c55" fill-rule="nonzero" d="M566.6 668.7l2.2 .1l.8-.6l-3.5 .4l-4-1.6l-4.1-3.1l-3.1-4l-1.6-3.3l-.7-3.3l0-3.1l1-3l2.5-3.7l4.2-3.2l4.8-2.4l12.2-4.8l6.6-4.3l3.4-3.3l2.8-4l1.8-4.1l.7-3.4l-.2-3.3l-.8-2.7l-1.9-2.9l-2.3-2.2l-5.7-3.2l-9-1.3l-4.6-.3l-3.1 .4l-4.6 1.2l-4.5 1.7l-7.6 4.7l-6.6 6.7l-4.3 6.9l-3.5 8.7l-2.7 11.9l-2.3 14.3l0 8.2l1.6 6.9l3 5.1l2 1.8l2.3 1.2l4.3 .8l5.5-.9l5.4-2.3l12.7-6.3l3.8-.5l-2.9 .1zM539.6 733.7l3.8 1.7l6.9 2l12.3 1.8l11.9-.3l12.1-2.5l-34.6-4.1l-7 .2l-5.4 1.2z"/>
<path fill="#c53334" fill-rule="nonzero" d="M582.2 619.5l1-3.4l-.2-3.7l-1.5-2.9l-2.6-2.4l-4.1-1.8l-4.2-.6l-4.9 .3l-4.7 1.3l-4 1.8l-3.7 2.6l-3.2 3.1l-2.7 3.7l-2 3.9l-1.3 4.5l-.3 4.1l.6 3.6l1.8 2.3l2.9 .3l19.1-6.1l5.1-2.2l3.8-2.4l2.9-2.8l2.2-3.2zM544.8 655l-2.6-1.7l-2.2 .2l-2.2 2.1l-1.5 3.5l-.7 3.7l.4 3.7l1.3 3.3l2.2 2.6l3.8 1.7l4.9 .1l5.8-1.5l8.8-3.6l-5.3-2.8l-3.6-2.5l-9.1-8.8z"/>
<path fill="none" stroke="#000" stroke-opacity="0.9" stroke-width="1.5" stroke-linejoin="round" stroke-dasharray="4.4 2" d="M603.7 659.4l3-4.9l3.6-4l4-2.8l2.5-1.2l2-.6l2.1-.3l2.2 0l1.6 .3l2.3 .9l2.1 1.5l1.2 1.1l2.3 3.3M498.8 665.3l.4 3.3M500.4 678.8l.2 6M634.4 672.1l-.9 3.1l-1.6 3.9l-3.4 5.6l-2.4 2.8l-2.2 2.2l-3.2 2.5l-3.3 2.2l-5.4 2.5l-6.4 2.1l-21.5 4.5l-7.4 1l-3.5 0l-3.5-.5l-3.4-.9l-1.9-.9l-2.1-1.4l-1.8-1.7l-1.4-2.2l-.7-2l-.3-3.7l1-4.8l1.7-4.5l4.1-8.7l1.5-3.8l.3 0l.4 2l.8 1.9l1.8 3M577.3 683l3.6 1.5l3.3 .5l1.9-.1l2-.5l2.7-1.3l2.2-1.9l2.5-3.1l2.1-3.8l2.4-5.6M566.7 668l0-.3l0 .3"/>
<path fill="none" stroke="#000" stroke-opacity="0.9" stroke-width="1.15" stroke-linejoin="round" d="M583.6 668.7l.8-1.7l.5-1.8l.2-1.9l-.1-1.9l-.5-1.9l-1-2.4l-1.1-1.6l-1.2-1.3l-14.1 14l-.4 .2l-.6-.2l-1.3-1.6l-1-1.8l-.8-2.1l-.5-3.4l.5-3.1l1.1-2.2l1.8-1.8l2.2-1.3l2.5-.6l2.5-.1l3.1 .7l2.4 1.1l2.5 2l12.6-12.4M612.8 622.5l1.8-1.8M513.8 646.7l0 7.5l.9 8.7l1.2 6.6l2.1 7.7l2.9 7.2l3.6 6.7l4.3 6.2l4 4.4l.8 0l32.5-32.5l1 0l2.2 1.6l2.5 1.3l2 .5l2.3 .2l2.2-.3l2-.7l1.6-1.2l1.7-1.9M614.6 716.7l-1.5 .6M586.7 721.6l-7.3-.2l-8.3-.9l-6.5-1.3l-7.6-2.3l-7.2-3l-5.3-2.9l-6.2-4.3l-5.2-4.5l-14.5 14.5"/>
<path fill="none" stroke="#000" stroke-opacity="0.9" stroke-width="1.5" stroke-linejoin="round" d="M567.2 668.7l.4-.1l-1 .1l-2-.4l-3.1-1.2l-2.6-1.6l-2.7-2.3l-2.3-2.7l-1.7-2.7l-1.4-3.4l-.5-2.6l.1-2.3l.4-2.1l.8-1.8l1.7-2.4l2.1-2.1l2.4-1.7l3.2-1.7l3.6-1.6M572.4 633.1l3.5-1.5l2.8-1.5l4.1-3.1l2-2l1.7-2.2l1.5-2.4l1-2.5l.7-2.7l0-2.2l-.3-2.4l-.7-1.7l-2.1-3.2l-1.7-1.5l-2.3-1.5M563.2 600.9l-3.5 1l-4 1.8l-5.5 3.5l-4.8 4.4l-2.4 3l-2.1 3.3l-2.5 5.4l-2.1 6.4l-4.4 20.9l-.9 5.5l-.2 6.1l.8 5.1l1.7 4l1.3 2l1.8 1.7l1.6 1l2.2 .9l1.8 .3l2.1 0l4.8-1l6.2-2.4M562.6 670.2l3.3-1.3l1.3-.2M564.1 735.7l-8.6-.9l-4.9-.1"/>
<text x="515.1" y="633.3" font-size="5.2" text-anchor="middle" dy="0.36em" transform="rotate(-79.5 515.1 633.3)">0.00000</text>
<text x="603.3" y="632.1" font-size="5.2" text-anchor="middle" dy="0.36em" transform="rotate(-45.0 603.3 632.1)">0.00000</text>
<text x="600.1" y="720.5" font-size="5.2" text-anchor="middle" dy="0.36em" transform="rotate(-9.1 600.1 720.5)">0.00000</text>
<text x="568.5" y="634.6" font-size="5.2" text-anchor="middle" dy="0.36em" transform="rotate(-20.2 568.5 634.6)">1</text>
<text x="558.8" y="672.0" font-size="5.2" text-anchor="middle" dy="0.36em" transform="rotate(-26.0 558.8 672.0)">1</text>
<text x="573.1" y="680.1" font-size="5.2" text-anchor="middle" dy="0.36em" transform="rotate(-318.5 573.1 680.1)">−1</text>
<text x="601.7" y="664.1" font-size="5.2" text-anchor="middle" dy="0.36em" transform="rotate(-68.9 601.7 664.1)">−1</text>
<text x="499.9" y="673.7" font-size="5.2" text-anchor="middle" dy="0.36em" transform="rotate(-276.8 499.9 673.7)">−1</text>
<text x="568.2" y="736.3" font-size="5.2" text-anchor="middle" dy="0.36em" transform="rotate(-352.1 568.2 736.3)">1</text>
</g>
<text x="566.1" y="582.1" font-size="12.7" text-anchor="middle">Poisson's Ratio ν32</text>
<rect x="644.4" y="723.10" width="6.6" height="13.90" fill="#4961d2"/>
<rect x="644.4" y="709.50" width="6.6" height="13.90" fill="#6a8bef"/>
<rect x="644.4" y="695.90" width="6.6" height="13.90" fill="#8db0fe"/>
<rect x="644.4" y="682.30" width="6.6" height="13.90" fill="#afcafc"/>
<rect x="644.4" y="668.70" width="6.6" height="13.90" fill="#cfdaea"/>
<rect x="644.4" y="655.10" width="6.6" height="13.90" fill="#e9d5cb"/>
<rect x="644.4" y="641.50" width="6.6" height="13.90" fill="#f6bda2"/>
<rect x="644.4" y="627.90" width="6.6" height="13.90" fill="#f4987a"/>
<rect x="644.4" y="614.30" width="6.6" height="13.90" fill="#e36c55"/>
<rect x="644.4" y="600.70" width="6.6" height="13.90" fill="#c53334"/>
<line x1="651" x2="653.6" y1="723.10" y2="723.10" stroke="#555" stroke-width="0.8"/>
<text x="656" y="723.90" font-size="10.35" dy="0.36em">−1.2</text>
<line x1="651" x2="653.6" y1="695.90" y2="695.90" stroke="#555" stroke-width="0.8"/>
<text x="656" y="696.70" font-size="10.35" dy="0.36em">−0.6</text>
<line x1="651" x2="653.6" y1="668.70" y2="668.70" stroke="#555" stroke-width="0.8"/>
<text x="656" y="669.50" font-size="10.35" dy="0.36em">0.0</text>
<line x1="651" x2="653.6" y1="641.50" y2="641.50" stroke="#555" stroke-width="0.8"/>
<text x="656" y="642.30" font-size="10.35" dy="0.36em">0.6</text>
<line x1="651" x2="653.6" y1="614.30" y2="614.30" stroke="#555" stroke-width="0.8"/>
<text x="656" y="615.10" font-size="10.35" dy="0.36em">1.2</text>
<text x="651.5" y="598.2" font-size="10.35" text-anchor="end">1e−5</text>
<text x="171.6" y="857.7" font-size="10.35" text-anchor="middle" dy="0.36em">0°</text>
<text x="148.9" y="802.8" font-size="10.35" text-anchor="middle" dy="0.36em">45°</text>
<text x="94" y="780.1" font-size="10.35" text-anchor="middle" dy="0.36em">90°</text>
<text x="39.1" y="802.8" font-size="10.35" text-anchor="middle" dy="0.36em">135°</text>
<text x="16.4" y="857.7" font-size="10.35" text-anchor="middle" dy="0.36em">180°</text>
<text x="39.1" y="912.6" font-size="10.35" text-anchor="middle" dy="0.36em">225°</text>
<text x="94" y="935.3" font-size="10.35" text-anchor="middle" dy="0.36em">270°</text>
<text x="148.9" y="912.6" font-size="10.35" text-anchor="middle" dy="0.36em">315°</text>
<text x="157.5" y="827.7" font-size="10.35" text-anchor="middle" dy="0.36em">3</text>
<mask id="c12"><circle cx="94" cy="858.7" r="67.9" fill="#fff"/></mask>
<g mask="url(#c12)">
<circle cx="94" cy="858.7" r="68.9" fill="#4b64d5"/>
<path fill="#6f92f3" fill-rule="nonzero" d="M94 858.7l18.3 1.1l1-.9l2.6-4.1l.6-4.8l-1.3-5l-3-4.4l-4.4-3.1l-5-1.3l-5 .7l-4.1 2.5l-2.5 3.9l-.8 4.8l.9 5.4l2.7 5.2zM152.1 862.2l12.4 .7l-.4-12.5l-2.5-12.2l-4.7-11.6l-6.3-10.1l-7.9-8.9l-9.2-7.5l-8.8-5l-9.4-3.7l-9.3-2.3l-10-1l-10.1 .5l-10 1.8l-9.6 3.3l-8.8 4.6l-3.1 7.1l-4.1 12.2l-7.5 20.4l-2.1 10.9l-.1 10.5l.9 6.7l1.5 6l2.1 5.9l3 5.9l3.3 5.2l4.3 5.1l4.4 4.3l5.2 4l8.1 4.5l8.8 3.2l9.2 1.8l9.5 .2l7.8-.9l7.7-1.9l18.6-7l12.3-4.1l7.1-3.1l2.2-3.9l2.8-5.9l2.3-6.8l1.6-6.3l1-6.5l.2-11.3l-12 .7l-.4 6.9l-1.2 6.2l-1.9 6.1l-2.6 5.7l-3.4 5.2l-3.7 4.2l-4.2 3.2l-4.4 1.9l-7.2 .8l-8.7-1.5l-9.4-3.7l-8.9-5.2l-11.6-9.5l-7.7-7.7l-6.1-7l-4.2-5.9l-3.5-5.9l-2.9-6.2l-1.9-6l-1.1-5.6l-.2-4.8l.6-4l1.7-4.1l2.7-3.9l3.3-3.3l4.6-3.4l5.1-2.8l6.8-2.5l7.2-1.6l7.3-.6l6.9 .4l6.9 1.3l7.1 2.3l6.8 3.3l5.9 3.8l5.3 4.6l5.1 5.6l4 5.8l3.4 6.7l2.5 7.1l1.4 6.8l.6 6.9l-.4 7.4zM94 858.7l5.7 2.8l5.7 .8l2.8-.5l2.6-1l3.7-3.3l-20.5 1.2z"/>
<path fill="#97b8ff" fill-rule="nonzero" d="M94 858.7l9.3 .3l3.2-.9l2.6-1.8l1.9-2.7l.6-3.3l-.8-3.5l-2-2.9l-2.9-2l-3.4-.8l-3.3 .6l-2.7 1.8l-1.8 2.6l-1 3.3l-.2 3.5l.5 5.8zM162.5 862.8l2 .1l0-8.9l-1.3-9.4l-2.5-9.2l-3-7.2l-4-7.3l-4.5-6.3l-5.6-6.2l-5.8-5.1l-6.3-4.5l-6.8-3.7l-7.1-3l-7.5-2.2l-7.6-1.3l-7.7-.5l-7.4 .3l1.4 1.2l2.7 1.2l17.4 4.4l11.2 4.4l10.4 6l8.7 7.3l8 9.5l6.3 10.9l3.9 10.2l5.1 19.3zM55.9 855.3l-3.3-.4l-1.5 .9l-1 1.3l-1.5 4.1l-.3 5.9l.9 5.8l2.1 6.1l3 5.6l4 5.5l4.3 4.2l4.4 3.4l5.2 3l5.2 2.1l5.4 1.3l5.5 .3l4.7-.6l3.4-1.7l1.2-1.7l.2-2.3l-1.2-2.9l-2.6-3.3l-28.8-29.2l-5.4-4.8l-3.9-2.6zM94 858.7l7.8 .5l5-1.3l-12.8 .8zM164.2 865.2l.3-10.7l-4.3 .2l1.7 6.5l1.2 2.7l1.1 1.3z"/>
<path fill="#bcd2f7" fill-rule="nonzero" d="M99.6 858l3.1-.6l2.8-1.2l1.9-1.7l1.1-2l.3-2.5l-.7-2.4l-1.5-2.1l-2.3-1.3l-2.7-.3l-2.7 .9l-2.1 1.9l-1.4 2.7l-1.2 9.1l5.4-.5zM163.3 845.8l-2.5-9.9l-4.2-9.8l-5.6-9.1l-7-8.1l-8.1-7l-9.1-5.7l-9.8-4.3l-10.4-2.7l13.8 6.9l7 4l7.4 5.2l6.7 6.1l5.7 6.3l5.3 7.4l4 6.9l6.8 13.8zM57.9 863.4l-2.2 .2l-2 1.8l-.9 3l.1 3.8l.8 4l1.6 4.2l2.3 4.3l3 3.9l6.8 6l7.6 3.9l4 1.1l3.7 .4l3.4-.5l2.1-1.2l1.1-2.3l-.6-3l-2.3-4l-4.3-5.3l-7-7.5l-7.7-7l-5.5-4.1l-4-1.7z"/>
<path fill="#dddcdc" fill-rule="nonzero" d="M100.3 856.9l4.3-1.8l1.5-1.6l.7-1.6l.1-1.8l-.6-1.9l-1.3-1.4l-1.7-.9l-2.4 0l-2.2 1.1l-1.6 1.9l-1.3 3.2l-1 5.8l5.5-1zM158.9 830.9l-2.8-5.9l-3.4-5.6l-4.3-5.7l-4.4-4.8l-5.3-4.8l-5.2-4l-5.6-3.4l-6.2-2.9l12 8.1l9.2 8.1l8 9.2l8 11.7zM59.9 868.3l-1.7 .2l-1.5 1.4l-.6 1.9l-.1 3l1.9 6.1l4.2 6.4l5 4.7l5.9 3.3l5.9 1.4l2.3-.1l2-.8l1.2-2.2l-.5-2.7l-2-3.8l-3.3-4.4l-5.1-5.3l-5.6-4.9l-4.9-3.2l-3.1-1z"/>
<path fill="#f3c8b2" fill-rule="nonzero" d="M100.7 856l3.1-1.7l1.6-2.5l-.4-2.8l-2.3-1.7l-2.2 .1l-1.8 1.2l-1.4 1.9l-1.1 3.3l-.2 3.1l4.7-.9zM147.3 812.4l-7.4-7.3l7.4 7.3zM61.5 871.8l-1.1 .2l-1.2 1l-.6 1.8l.1 2.1l1.6 5l3.4 4.9l4.1 3.7l4.8 2.7l4.5 .9l1.9-.3l1.2-.7l.7-1.8l-.5-2.3l-1.8-3.4l-3-3.8l-4-4.1l-4-3.2l-3.2-1.9l-2.9-.8z"/>
<path fill="#f6a586" fill-rule="nonzero" d="M100.3 855.4l2.3-1.3l1.4-2l-.1-2.2l-1.5-1.3l-1.6 0l-1.5 .8l-1.3 1.5l-1 2.2l-.1 2.8l3.4-.5zM62.9 874.8l-1.1 .4l-.6 .8l-.2 2.7l1.2 3.5l2.5 3.6l3.2 3l3.5 2.1l3.3 .9l2.5-.6l.7-1.2l-.3-2.4l-3.6-5.5l-6.3-5.6l-2.6-1.4l-2.2-.3z"/>
<path fill="#e7745b" fill-rule="nonzero" d="M101 854.3l1.5-1.4l.5-1.2l-.4-1.3l-1.1-.7l-1.3 .3l-1.2 .9l-1.4 3.2l.1 .7l.7 .3l2.6-.8zM64.7 877.5l-1.2 .6l-.2 2.1l.9 2.5l1.7 2.4l2.1 2.1l2.6 1.6l2.5 .7l1.5-.3l.6-.8l-.2-1.8l-2.3-3.8l-4.4-4l-2.2-1.1l-1.4-.2z"/>
<path fill="#c83836" fill-rule="nonzero" d="M100.3 853.6l1.1-1.2l-.4-1.2l-1.1 .3l-1 1.4l.2 .9l1.2-.2zM66.7 880.7l-.5 1.2l1.4 2.5l2.2 1.8l1.8 .3l.4-1.1l-1.2-2.3l-2.3-1.9l-1.8-.5z"/>
<path fill="none" stroke="#000" stroke-opacity="0.9" stroke-width="1.5" stroke-linejoin="round" d="M103.6 858.7l2-.6l2.1-1.1l1.7-1.6l1-1.6l.6-1.9l.1-2l-.5-2.5l-.9-1.8l-1.7-1.9l-1.6-1.1l-2.5-.9l-1.9-.1l-2.1 .3l-1.9 .9l-1.9 1.7l-1.2 2M95.3 790.8l1.6 .5M111.4 795.5l4.3 1.6l5.7 2.6l5.3 3l3.5 2.2l4.9 3.7l3 2.7l2.9 2.9l4.1 4.6l4.7 6.7l2 3.6l2.8 5.5l3.6 9.7l3.7 13.1M94.4 858.7l5.8 .3l3.4-.3M61.8 860.4l-3.5-2.6l-2-1.1l-2-.4l-1.4 .2l-1.4 .8l-1.4 2.1l-.9 2.8l-.3 2.9l.1 3l.7 4.3l.8 3.1l1.5 3.9l1.3 2.7l2.3 3.8l2.7 3.5l3 3.3l4.6 3.8l5.1 3.1l5.4 2.3l4.2 1.2l5.9 .7l4.3-.4l2.9-1l1.3-.9l.9-1l.5-1.4l-.2-2.1l-.9-2l-1.9-2.7l-7.8-8.6l-12.8-12.9"/>
<path fill="none" stroke="#000" stroke-opacity="0.9" stroke-width="1.5" stroke-linejoin="round" d="M100.3 856l1.9-.8l1.1-.8l1-1.1l.6-1.1l.2-1.1l-.2-1.5l-.8-1.1l-1.1-.7l-2.1-.2l-1.5 .8l-1.5 1.5l-1.2 2.5l-.6 2.8l0 1.4l1.3 .1l2.9-.7M75.2 881.9l-3-3.2l-3-2.5l-2.6-1.9l-3.1-1.5l-2.3-.1l-1.2 .7l-.8 1.6l0 2.2l.7 2.6l1.6 3.4l1.5 2.2l2.6 2.8l3 2.5l2.5 1.4l3.2 1.1l2.6 .3"/>
<text x="104.2" y="793.3" font-size="5.2" text-anchor="middle" dy="0.36em" transform="rotate(-344.2 104.2 793.3)">250</text>
<text x="93.7" y="853.9" font-size="5.2" text-anchor="middle" dy="0.36em" transform="rotate(-271.2 93.7 853.9)">250</text>
<text x="67.4" y="865.5" font-size="5.2" text-anchor="middle" dy="0.36em" transform="rotate(-316.7 67.4 865.5)">250</text>
<text x="79.4" y="888.1" font-size="5.2" text-anchor="middle" dy="0.36em" transform="rotate(-285.2 79.4 888.1)">500</text>
</g>
<text x="93.5" y="772.1" font-size="12.7" text-anchor="middle">Bulk Modulus K</text>
<rect x="171.8" y="911.59" width="6.6" height="15.41" fill="#4b64d5"/>
<rect x="171.8" y="896.48" width="6.6" height="15.41" fill="#6f92f3"/>
<rect x="171.8" y="881.37" width="6.6" height="15.41" fill="#97b8ff"/>
<rect x="171.8" y="866.26" width="6.6" height="15.41" fill="#bcd2f7"/>
<rect x="171.8" y="851.14" width="6.6" height="15.41" fill="#dddcdc"/>
<rect x="171.8" y="836.03" width="6.6" height="15.41" fill="#f3c8b2"/>
<rect x="171.8" y="820.92" width="6.6" height="15.41" fill="#f6a586"/>
<rect x="171.8" y="805.81" width="6.6" height="15.41" fill="#e7745b"/>
<rect x="171.8" y="790.70" width="6.6" height="15.41" fill="#c83836"/>
<line x1="178.4" x2="181" y1="926.70" y2="926.70" stroke="#555" stroke-width="0.8"/>
<text x="183.4" y="927.50" font-size="10.35" dy="0.36em">80</text>
<line x1="178.4" x2="181" y1="911.59" y2="911.59" stroke="#555" stroke-width="0.8"/>
<text x="183.4" y="912.39" font-size="10.35" dy="0.36em">160</text>
<line x1="178.4" x2="181" y1="896.48" y2="896.48" stroke="#555" stroke-width="0.8"/>
<text x="183.4" y="897.28" font-size="10.35" dy="0.36em">240</text>
<line x1="178.4" x2="181" y1="881.37" y2="881.37" stroke="#555" stroke-width="0.8"/>
<text x="183.4" y="882.17" font-size="10.35" dy="0.36em">320</text>
<line x1="178.4" x2="181" y1="866.26" y2="866.26" stroke="#555" stroke-width="0.8"/>
<text x="183.4" y="867.06" font-size="10.35" dy="0.36em">400</text>
<line x1="178.4" x2="181" y1="851.14" y2="851.14" stroke="#555" stroke-width="0.8"/>
<text x="183.4" y="851.94" font-size="10.35" dy="0.36em">480</text>
<line x1="178.4" x2="181" y1="836.03" y2="836.03" stroke="#555" stroke-width="0.8"/>
<text x="183.4" y="836.83" font-size="10.35" dy="0.36em">560</text>
<line x1="178.4" x2="181" y1="820.92" y2="820.92" stroke="#555" stroke-width="0.8"/>
<text x="183.4" y="821.72" font-size="10.35" dy="0.36em">640</text>
<line x1="178.4" x2="181" y1="805.81" y2="805.81" stroke="#555" stroke-width="0.8"/>
<text x="183.4" y="806.61" font-size="10.35" dy="0.36em">720</text>
<line x1="178.4" x2="181" y1="790.70" y2="790.70" stroke="#555" stroke-width="0.8"/>
<text x="183.4" y="791.50" font-size="10.35" dy="0.36em">800</text>
</svg>
</body></html>
